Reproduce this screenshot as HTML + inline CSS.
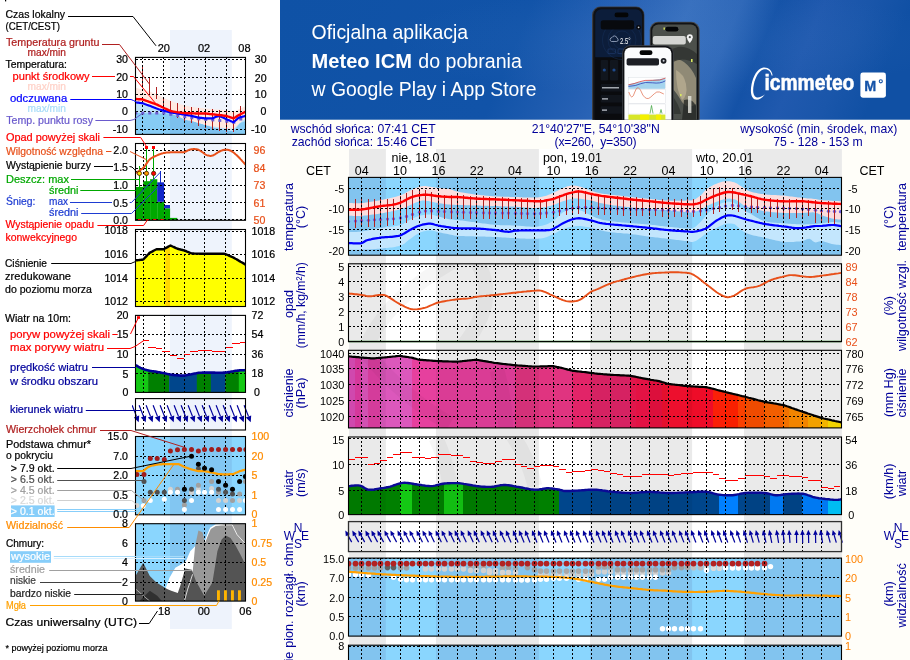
<!DOCTYPE html>
<html lang="pl"><head><meta charset="utf-8"><title>Meteogram ICM</title>
<style>
html,body{margin:0;padding:0;background:#fff;}
body{width:910px;height:660px;overflow:hidden;position:relative;font-family:"Liberation Sans",sans-serif;}
svg{position:absolute;left:0;top:0;display:block;}
text{font-family:"Liberation Sans",sans-serif;}
</style></head><body>
<svg width="910" height="660" viewBox="0 0 910 660">
<rect x="280" y="119" width="630" height="541" fill="#fffef9"/>
<rect x="349" y="149" width="492.9" height="520" fill="#ffffff"/>
<rect x="349" y="149" width="36.9" height="520" fill="#eaeaea"/>
<rect x="436" y="149" width="102.9" height="520" fill="#eaeaea"/>
<rect x="590" y="149" width="102.1" height="520" fill="#eaeaea"/>
<rect x="744" y="149" width="97.9" height="520" fill="#eaeaea"/>
<defs>
<clipPath id="cT"><rect x="348.6" y="177.4" width="492.7" height="77.8"/></clipPath>
<clipPath id="cR"><rect x="348.6" y="263.8" width="492.7" height="77.8"/></clipPath>
<clipPath id="cP"><rect x="348.6" y="350.3" width="492.7" height="77.6"/></clipPath>
<clipPath id="cW"><rect x="348.6" y="437" width="492.7" height="77.6"/></clipPath>
<clipPath id="cD"><rect x="348.6" y="521.6" width="492.7" height="30"/></clipPath>
<clipPath id="cC"><rect x="348.6" y="558.1" width="492.7" height="78"/></clipPath>
<clipPath id="cL"><rect x="348.6" y="645.2" width="492.7" height="24.8"/></clipPath>
<clipPath id="cWM"><rect x="348.6" y="350.3" width="492.7" height="77.6"/><rect x="348.6" y="263.8" width="492.7" height="77.8"/><rect x="348.6" y="437" width="492.7" height="77.6"/></clipPath>
</defs>
<g clip-path="url(#cT)">
<rect x="348.6" y="177.4" width="492.7" height="77.8" fill="#8ad6fe"/>
<rect x="348.6" y="177.4" width="37.2" height="77.8" fill="#82c4ef"/>
<rect x="436" y="177.4" width="102.9" height="77.8" fill="#82c4ef"/>
<rect x="590" y="177.4" width="102.1" height="77.8" fill="#82c4ef"/>
<rect x="744" y="177.4" width="97.9" height="77.8" fill="#82c4ef"/>
<polygon points="348.6,232.2 350.2,232.1 351.8,232.1 353.4,232 355,232 356.6,231.9 358.2,231.8 359.8,231.7 361.4,231.5 363,231.3 364.6,231 366.2,230.7 367.8,230.4 369.4,230.1 371,229.8 372.6,229.5 374.2,229.1 375.8,228.8 377.4,228.5 379,228.2 380.6,227.9 382.2,227.7 383.8,227.5 385.4,227.3 387,227.1 388.6,226.9 390.2,226.8 391.8,226.6 393.4,226.4 395,226.1 396.6,225.9 398.2,225.6 399.8,225.2 401.4,224.7 403,224 404.6,223.1 406.2,222 407.8,221 409.4,220 411,219.2 412.6,218.4 414.2,217.7 415.8,217 417.4,216.4 419,215.9 420.6,215.5 422.2,215.2 423.8,215 425.4,214.8 427,214.6 428.6,214.6 430.2,214.6 431.8,214.8 433.4,215.1 435,215.5 436.6,216 438.2,216.4 439.8,216.8 441.4,217.2 443,217.7 444.6,218.1 446.2,218.5 447.8,218.9 449.4,219.2 451,219.5 452.6,219.6 454.2,219.7 455.8,219.9 457.4,220 459,220.2 460.6,220.4 462.2,220.6 463.8,220.8 465.4,221.1 467,221.3 468.6,221.5 470.2,221.7 471.8,221.9 473.4,222.1 475,222.3 476.6,222.5 478.2,222.7 479.8,222.9 481.4,223.2 483,223.4 484.6,223.6 486.2,223.8 487.8,224 489.4,224.2 491,224.4 492.6,224.6 494.2,224.8 495.8,224.9 497.4,225 499,225.1 500.6,225.2 502.2,225.2 503.8,225.2 505.4,225.3 507,225.3 508.6,225.3 510.2,225.3 511.8,225.4 513.4,225.4 515,225.5 516.6,225.6 518.2,225.7 519.8,225.8 521.4,225.9 523,226.1 524.6,226.2 526.2,226.4 527.8,226.5 529.4,226.6 531,226.7 532.6,226.7 534.2,226.7 535.8,226.7 537.4,226.5 539,226.3 540.6,226.1 542.2,225.7 543.8,225.3 545.4,224.8 547,224.2 548.6,223.5 550.2,222.6 551.8,221.7 553.4,220.7 555,219.4 556.6,218 558.2,216.4 559.8,214.9 561.4,213.5 563,212.3 564.6,211.4 566.2,210.7 567.8,210.1 569.4,209.6 571,209.3 572.6,209.1 574.2,209 575.8,209.2 577.4,209.5 579,209.9 580.6,210.4 582.2,211.1 583.8,211.8 585.4,212.6 587,213.5 588.6,214.3 590.2,215.1 591.8,215.8 593.4,216.6 595,217.3 596.6,217.9 598.2,218.5 599.8,219.1 601.4,219.6 603,220 604.6,220.3 606.2,220.6 607.8,220.8 609.4,221.1 611,221.3 612.6,221.5 614.2,221.6 615.8,221.8 617.4,222 619,222.1 620.6,222.3 622.2,222.4 623.8,222.5 625.4,222.7 627,222.8 628.6,222.9 630.2,223.1 631.8,223.2 633.4,223.3 635,223.5 636.6,223.6 638.2,223.7 639.8,223.8 641.4,223.9 643,224.1 644.6,224.2 646.2,224.3 647.8,224.5 649.4,224.6 651,224.8 652.6,224.9 654.2,225.1 655.8,225.3 657.4,225.5 659,225.7 660.6,225.9 662.2,226.1 663.8,226.2 665.4,226.4 667,226.6 668.6,226.8 670.2,226.9 671.8,227.1 673.4,227.3 675,227.4 676.6,227.6 678.2,227.8 679.8,227.9 681.4,228.1 683,228.2 684.6,228.3 686.2,228.4 687.8,228.5 689.4,228.6 691,228.6 692.6,228.3 694.2,227.5 695.8,226.4 697.4,225.1 699,223.6 700.6,222 702.2,220.2 703.8,218.2 705.4,216.2 707,214.4 708.6,212.8 710.2,211.3 711.8,209.8 713.4,208.4 715,207.2 716.6,206 718.2,205 719.8,204.1 721.4,203.3 723,202.7 724.6,202.2 726.2,201.8 727.8,201.7 729.4,201.7 731,202 732.6,202.4 734.2,202.9 735.8,203.7 737.4,204.8 739,206.2 740.6,207.5 742.2,208.7 743.8,210 745.4,211.1 747,212 748.6,212.8 750.2,213.6 751.8,214.5 753.4,215.4 755,216.4 756.6,217.4 758.2,218.3 759.8,219.2 761.4,219.9 763,220.6 764.6,221.1 766.2,221.5 767.8,221.9 769.4,222.1 771,222.4 772.6,222.5 774.2,222.7 775.8,222.8 777.4,222.9 779,223 780.6,223.1 782.2,223.2 783.8,223.3 785.4,223.5 787,223.6 788.6,223.7 790.2,223.8 791.8,223.9 793.4,224 795,224.1 796.6,224.2 798.2,224.2 799.8,224.3 801.4,224.4 803,224.4 804.6,224.4 806.2,224.3 807.8,224.3 809.4,224.2 811,224.2 812.6,224.1 814.2,224 815.8,223.9 817.4,223.8 819,223.6 820.6,223.4 822.2,223.3 823.8,223.1 825.4,222.8 827,222.6 828.6,222.4 830.2,222.2 831.8,222.1 833.4,222.1 835,222.1 836.6,222.3 838.2,222.4 839.8,222.6 841.3,222.7 841.3,245.2 839.8,245 838.2,244.8 836.6,244.7 835,244.5 833.4,244.2 831.8,243.9 830.2,243.4 828.6,242.9 827,242.4 825.4,241.9 823.8,241.4 822.2,241.1 820.6,241.2 819,241.6 817.4,242.1 815.8,242.4 814.2,242 812.6,240.9 811,239.6 809.4,238.8 807.8,238.9 806.2,239.6 804.6,240.3 803,241 801.4,241.2 799.8,241.4 798.2,241.5 796.6,241.6 795,241.8 793.4,241.9 791.8,241.9 790.2,241.9 788.6,242 787,241.9 785.4,241.9 783.8,241.7 782.2,241.6 780.6,241.4 779,241.1 777.4,240.8 775.8,240.5 774.2,240.1 772.6,239.7 771,239.3 769.4,238.9 767.8,238.5 766.2,238.2 764.6,237.8 763,237.4 761.4,237.1 759.8,236.8 758.2,236.4 756.6,236.1 755,235.7 753.4,235.4 751.8,235 750.2,234.6 748.6,234.1 747,233.4 745.4,232.6 743.8,231.7 742.2,230.6 740.6,229.5 739,228.1 737.4,226.4 735.8,224.9 734.2,224.1 732.6,223.7 731,223.4 729.4,223.4 727.8,223.5 726.2,223.7 724.6,224.1 723,224.7 721.4,225.4 719.8,226.2 718.2,227.1 716.6,227.9 715,228.6 713.4,229.3 711.8,230.1 710.2,230.9 708.6,231.7 707,232.7 705.4,233.8 703.8,235.2 702.2,236.5 700.6,237.7 699,238.8 697.4,239.9 695.8,240.9 694.2,241.6 692.6,242 691,241.9 689.4,241.6 687.8,241.3 686.2,241.1 684.6,240.9 683,240.7 681.4,240.5 679.8,240.3 678.2,240.1 676.6,239.9 675,239.7 673.4,239.5 671.8,239.3 670.2,239.1 668.6,238.9 667,238.7 665.4,238.5 663.8,238.3 662.2,238.2 660.6,238 659,237.8 657.4,237.6 655.8,237.5 654.2,237.3 652.6,237.1 651,236.9 649.4,236.7 647.8,236.5 646.2,236.3 644.6,236.1 643,235.8 641.4,235.6 639.8,235.3 638.2,235.1 636.6,234.8 635,234.6 633.4,234.4 631.8,234.2 630.2,234 628.6,233.8 627,233.6 625.4,233.5 623.8,233.4 622.2,233.2 620.6,233.1 619,233 617.4,232.9 615.8,232.7 614.2,232.6 612.6,232.4 611,232.3 609.4,232 607.8,231.8 606.2,231.5 604.6,231.2 603,230.8 601.4,230.4 599.8,230.1 598.2,229.6 596.6,229.2 595,228.7 593.4,228.3 591.8,227.9 590.2,227.6 588.6,227.3 587,227 585.4,226.7 583.8,226.5 582.2,226.3 580.6,226.1 579,226.1 577.4,226.1 575.8,226.2 574.2,226.4 572.6,226.6 571,226.9 569.4,227.3 567.8,227.6 566.2,228.1 564.6,228.6 563,229.2 561.4,229.9 559.8,230.7 558.2,231.5 556.6,232.4 555,233.3 553.4,234 551.8,234.8 550.2,235.6 548.6,236.3 547,237 545.4,237.5 543.8,237.9 542.2,238.2 540.6,238.4 539,238.6 537.4,238.7 535.8,238.8 534.2,238.8 532.6,238.8 531,238.8 529.4,238.8 527.8,238.8 526.2,238.7 524.6,238.6 523,238.6 521.4,238.5 519.8,238.4 518.2,238.3 516.6,238.3 515,238.2 513.4,238.1 511.8,238 510.2,237.9 508.6,237.8 507,237.7 505.4,237.6 503.8,237.5 502.2,237.4 500.6,237.3 499,237.2 497.4,237.1 495.8,237 494.2,236.9 492.6,236.9 491,236.8 489.4,236.8 487.8,236.7 486.2,236.7 484.6,236.6 483,236.6 481.4,236.5 479.8,236.5 478.2,236.5 476.6,236.4 475,236.4 473.4,236.3 471.8,236.3 470.2,236.3 468.6,236.2 467,236.2 465.4,236.2 463.8,236.1 462.2,236.1 460.6,236 459,235.9 457.4,235.8 455.8,235.7 454.2,235.4 452.6,235.1 451,234.8 449.4,234.4 447.8,234.1 446.2,233.8 444.6,233.5 443,233.2 441.4,232.8 439.8,232.5 438.2,232.2 436.6,231.8 435,231.3 433.4,230.8 431.8,230.5 430.2,230.3 428.6,230.4 427,230.6 425.4,230.9 423.8,231.2 422.2,231.7 420.6,232.3 419,233 417.4,233.9 415.8,235 414.2,236.1 412.6,237.3 411,238.5 409.4,239.6 407.8,240.8 406.2,242.1 404.6,243.4 403,244.5 401.4,245.3 399.8,245.8 398.2,246.3 396.6,246.6 395,246.9 393.4,247.2 391.8,247.4 390.2,247.6 388.6,247.8 387,247.9 385.4,248.1 383.8,248.2 382.2,248.4 380.6,248.5 379,248.7 377.4,248.8 375.8,249 374.2,249.1 372.6,249.2 371,249.3 369.4,249.4 367.8,249.4 366.2,249.5 364.6,249.6 363,249.6 361.4,249.7 359.8,249.7 358.2,249.8 356.6,249.8 355,249.8 353.4,249.7 351.8,249.7 350.2,249.7 348.6,249.7" fill="#c3e6fd" />
<polygon points="348.6,203.1 350.2,203.1 351.8,203.1 353.4,203.2 355,203.2 356.6,203.3 358.2,203.3 359.8,203.2 361.4,203.1 363,202.9 364.6,202.7 366.2,202.5 367.8,202.3 369.4,202.1 371,201.8 372.6,201.5 374.2,201.3 375.8,201 377.4,200.7 379,200.4 380.6,200 382.2,199.7 383.8,199.4 385.4,199.1 387,198.7 388.6,198.4 390.2,198.1 391.8,197.7 393.4,197.3 395,196.9 396.6,196.5 398.2,196 399.8,195.5 401.4,195 403,194.3 404.6,193.5 406.2,192.6 407.8,191.7 409.4,190.8 411,190.1 412.6,189.4 414.2,188.7 415.8,188 417.4,187.4 419,186.8 420.6,186.4 422.2,186.2 423.8,186.1 425.4,186.1 427,186.3 428.6,186.5 430.2,186.7 431.8,186.9 433.4,187.2 435,187.4 436.6,187.7 438.2,187.9 439.8,188.1 441.4,188.2 443,188.3 444.6,188.5 446.2,188.6 447.8,188.9 449.4,189.1 451,189.6 452.6,190.1 454.2,190.7 455.8,191.2 457.4,191.6 459,191.9 460.6,192.2 462.2,192.5 463.8,192.7 465.4,193 467,193.3 468.6,193.5 470.2,193.7 471.8,194 473.4,194.2 475,194.4 476.6,194.6 478.2,194.8 479.8,195 481.4,195.2 483,195.3 484.6,195.5 486.2,195.7 487.8,195.8 489.4,195.9 491,196.1 492.6,196.2 494.2,196.3 495.8,196.4 497.4,196.5 499,196.6 500.6,196.6 502.2,196.7 503.8,196.7 505.4,196.8 507,196.8 508.6,196.8 510.2,196.9 511.8,196.9 513.4,196.9 515,197 516.6,197 518.2,197.1 519.8,197.2 521.4,197.3 523,197.4 524.6,197.4 526.2,197.5 527.8,197.6 529.4,197.6 531,197.6 532.6,197.6 534.2,197.6 535.8,197.5 537.4,197.4 539,197.2 540.6,197 542.2,196.7 543.8,196.3 545.4,195.9 547,195.4 548.6,194.8 550.2,194.2 551.8,193.5 553.4,192.8 555,192.1 556.6,191.2 558.2,190.4 559.8,189.5 561.4,188.7 563,188 564.6,187.4 566.2,186.8 567.8,186.3 569.4,185.9 571,185.6 572.6,185.5 574.2,185.5 575.8,185.7 577.4,186 579,186.4 580.6,186.8 582.2,187.3 583.8,187.9 585.4,188.5 587,189.2 588.6,189.8 590.2,190.4 591.8,190.9 593.4,191.4 595,191.9 596.6,192.4 598.2,192.8 599.8,193.2 601.4,193.5 603,193.8 604.6,194 606.2,194.1 607.8,194.3 609.4,194.5 611,194.7 612.6,194.9 614.2,195.1 615.8,195.3 617.4,195.4 619,195.6 620.6,195.8 622.2,196 623.8,196.2 625.4,196.4 627,196.6 628.6,196.8 630.2,197 631.8,197.1 633.4,197.3 635,197.5 636.6,197.6 638.2,197.8 639.8,197.9 641.4,198.1 643,198.2 644.6,198.4 646.2,198.5 647.8,198.7 649.4,198.8 651,199 652.6,199.2 654.2,199.3 655.8,199.5 657.4,199.7 659,199.9 660.6,200 662.2,200.2 663.8,200.3 665.4,200.4 667,200.5 668.6,200.6 670.2,200.7 671.8,200.7 673.4,200.8 675,200.8 676.6,200.8 678.2,200.8 679.8,200.8 681.4,200.7 683,200.7 684.6,200.7 686.2,200.6 687.8,200.6 689.4,200.6 691,200.6 692.6,200.3 694.2,199.7 695.8,198.8 697.4,197.8 699,196.6 700.6,195.4 702.2,193.9 703.8,192.1 705.4,190.3 707,189 708.6,187.8 710.2,186.8 711.8,185.9 713.4,185.1 715,184.3 716.6,183.7 718.2,183 719.8,182.5 721.4,182 723,181.6 724.6,181.4 726.2,181.2 727.8,181.2 729.4,181.3 731,181.5 732.6,181.9 734.2,182.3 735.8,182.9 737.4,183.8 739,184.9 740.6,185.9 742.2,187 743.8,188.1 745.4,189.1 747,190.1 748.6,191 750.2,191.6 751.8,192 753.4,192.4 755,192.7 756.6,193.1 758.2,193.4 759.8,193.7 761.4,193.9 763,194.1 764.6,194.3 766.2,194.5 767.8,194.7 769.4,194.8 771,194.9 772.6,195 774.2,195 775.8,195.1 777.4,195.2 779,195.3 780.6,195.4 782.2,195.5 783.8,195.6 785.4,195.8 787,196 788.6,196.2 790.2,196.4 791.8,196.6 793.4,196.8 795,197 796.6,197.2 798.2,197.4 799.8,197.6 801.4,197.8 803,198 804.6,198.1 806.2,198.3 807.8,198.4 809.4,198.5 811,198.6 812.6,198.8 814.2,198.9 815.8,199.1 817.4,199.4 819,199.7 820.6,200 822.2,200.2 823.8,200.4 825.4,200.5 827,200.6 828.6,200.6 830.2,200.7 831.8,200.8 833.4,200.9 835,201 836.6,201 838.2,201.1 839.8,201.2 841.3,201.3 841.3,219.8 839.8,219.6 838.2,219.5 836.6,219.3 835,219.1 833.4,218.8 831.8,218.5 830.2,218 828.6,217.6 827,217 825.4,216.5 823.8,215.9 822.2,215.3 820.6,214.7 819,213.9 817.4,213.2 815.8,212.6 814.2,212.4 812.6,212.3 811,212.4 809.4,212.4 807.8,212.6 806.2,212.7 804.6,212.8 803,212.9 801.4,212.9 799.8,212.9 798.2,213 796.6,213 795,213 793.4,213 791.8,213 790.2,213.1 788.6,213 787,213 785.4,213 783.8,212.9 782.2,212.8 780.6,212.8 779,212.7 777.4,212.6 775.8,212.4 774.2,212.3 772.6,212.2 771,212 769.4,211.8 767.8,211.6 766.2,211.4 764.6,211.2 763,210.9 761.4,210.5 759.8,210.2 758.2,209.7 756.6,209.3 755,208.8 753.4,208.4 751.8,208 750.2,207.5 748.6,207.3 747,207.1 745.4,206.6 743.8,205.6 742.2,204.3 740.6,202.9 739,201.8 737.4,200.7 735.8,199.8 734.2,199.3 732.6,198.9 731,198.7 729.4,198.6 727.8,198.7 726.2,198.8 724.6,199.1 723,199.5 721.4,200 719.8,200.6 718.2,201.2 716.6,201.8 715,202.4 713.4,203 711.8,203.7 710.2,204.5 708.6,205.2 707,206 705.4,206.9 703.8,207.9 702.2,209 700.6,209.8 699,210.5 697.4,211.1 695.8,211.6 694.2,212.1 692.6,212.3 691,212.4 689.4,212.3 687.8,212.2 686.2,212.1 684.6,212 683,211.8 681.4,211.7 679.8,211.5 678.2,211.3 676.6,211.2 675,211 673.4,210.8 671.8,210.7 670.2,210.5 668.6,210.4 667,210.2 665.4,210.1 663.8,210 662.2,209.8 660.6,209.7 659,209.6 657.4,209.5 655.8,209.4 654.2,209.3 652.6,209.2 651,209 649.4,208.9 647.8,208.8 646.2,208.7 644.6,208.5 643,208.4 641.4,208.3 639.8,208.2 638.2,208 636.6,207.9 635,207.7 633.4,207.6 631.8,207.4 630.2,207.3 628.6,207.1 627,206.9 625.4,206.8 623.8,206.6 622.2,206.4 620.6,206.2 619,206 617.4,205.8 615.8,205.6 614.2,205.4 612.6,205.2 611,205 609.4,204.7 607.8,204.5 606.2,204.2 604.6,203.9 603,203.6 601.4,203.2 599.8,202.9 598.2,202.4 596.6,201.9 595,201.5 593.4,201 591.8,200.6 590.2,200.3 588.6,200 587,199.7 585.4,199.4 583.8,199.2 582.2,199 580.6,198.8 579,198.7 577.4,198.6 575.8,198.6 574.2,198.6 572.6,198.8 571,199 569.4,199.4 567.8,199.8 566.2,200.2 564.6,200.7 563,201.3 561.4,201.8 559.8,202.5 558.2,203.1 556.6,203.8 555,204.4 553.4,204.9 551.8,205.4 550.2,205.9 548.6,206.3 547,206.6 545.4,206.9 543.8,207.2 542.2,207.4 540.6,207.6 539,207.7 537.4,207.8 535.8,207.9 534.2,207.9 532.6,207.9 531,207.8 529.4,207.7 527.8,207.6 526.2,207.5 524.6,207.4 523,207.2 521.4,207.1 519.8,207 518.2,206.9 516.6,206.8 515,206.7 513.4,206.6 511.8,206.6 510.2,206.5 508.6,206.4 507,206.4 505.4,206.4 503.8,206.3 502.2,206.3 500.6,206.2 499,206.2 497.4,206.1 495.8,206.1 494.2,206 492.6,206 491,205.9 489.4,205.9 487.8,205.8 486.2,205.8 484.6,205.8 483,205.7 481.4,205.7 479.8,205.6 478.2,205.6 476.6,205.5 475,205.5 473.4,205.4 471.8,205.4 470.2,205.3 468.6,205.3 467,205.2 465.4,205.2 463.8,205.1 462.2,205.1 460.6,205 459,205 457.4,204.9 455.8,204.9 454.2,204.8 452.6,204.8 451,204.7 449.4,204.6 447.8,204.5 446.2,204.3 444.6,204.1 443,203.8 441.4,203.6 439.8,203.3 438.2,203.1 436.6,202.8 435,202.5 433.4,202.1 431.8,201.8 430.2,201.4 428.6,201.1 427,200.9 425.4,200.6 423.8,200.5 422.2,200.6 420.6,200.9 419,201.4 417.4,201.9 415.8,202.6 414.2,203.3 412.6,204 411,204.7 409.4,205.4 407.8,206.1 406.2,206.9 404.6,207.7 403,208.3 401.4,208.9 399.8,209.4 398.2,209.8 396.6,210.2 395,210.6 393.4,211 391.8,211.3 390.2,211.7 388.6,212 387,212.3 385.4,212.6 383.8,212.9 382.2,213.2 380.6,213.4 379,213.7 377.4,214 375.8,214.2 374.2,214.4 372.6,214.6 371,214.8 369.4,215 367.8,215.2 366.2,215.4 364.6,215.5 363,215.7 361.4,215.8 359.8,215.9 358.2,215.9 356.6,215.9 355,215.9 353.4,215.9 351.8,215.8 350.2,215.8 348.6,215.8" fill="#fcdddd" />
</g>
<clipPath id="cPf"><polygon points="348.6,356.4 350.2,356.5 351.8,356.7 353.4,356.8 355,356.9 356.6,357.1 358.2,357.2 359.8,357.4 361.4,357.5 363,357.6 364.6,357.8 366.2,357.9 367.8,358 369.4,358.1 371,358.3 372.6,358.4 374.2,358.3 375.8,358.2 377.4,358 379,357.9 380.6,357.8 382.2,357.6 383.8,357.5 385.4,357.3 387,357.2 388.6,357 390.2,356.8 391.8,356.7 393.4,356.5 395,356.4 396.6,356.2 398.2,356 399.8,355.9 401.4,356.1 403,356.4 404.6,356.6 406.2,356.8 407.8,357 409.4,357.3 411,357.5 412.6,357.9 414.2,358.4 415.8,358.8 417.4,359.3 419,359.7 420.6,359.8 422.2,359.9 423.8,360.1 425.4,360.2 427,360.3 428.6,360.4 430.2,360.5 431.8,360.6 433.4,360.8 435,360.9 436.6,361 438.2,361.1 439.8,361.2 441.4,361.2 443,361.3 444.6,361.3 446.2,361.4 447.8,361.4 449.4,361.5 451,361.5 452.6,361.6 454.2,361.6 455.8,361.7 457.4,361.7 459,361.5 460.6,361.3 462.2,361.2 463.8,361 465.4,360.8 467,360.7 468.6,360.5 470.2,360.3 471.8,360.2 473.4,360 475,359.8 476.6,359.8 478.2,360 479.8,360.3 481.4,360.6 483,360.9 484.6,361.1 486.2,361.4 487.8,361.7 489.4,362 491,362.2 492.6,362.5 494.2,362.8 495.8,363 497.4,363.2 499,363.4 500.6,363.6 502.2,363.8 503.8,364 505.4,364.1 507,364.3 508.6,364.5 510.2,364.7 511.8,364.9 513.4,365.1 515,365.2 516.6,365.3 518.2,365.5 519.8,365.6 521.4,365.7 523,365.8 524.6,365.9 526.2,366 527.8,366.2 529.4,366.3 531,366.4 532.6,366.5 534.2,366.6 535.8,366.5 537.4,366.5 539,366.5 540.6,366.4 542.2,366.4 543.8,366.3 545.4,366.3 547,366.3 548.6,366.2 550.2,366.2 551.8,366.1 553.4,366.2 555,366.5 556.6,366.9 558.2,367.2 559.8,367.5 561.4,367.9 563,368.3 564.6,368.7 566.2,369.1 567.8,369.6 569.4,370 571,370.4 572.6,370.8 574.2,370.9 575.8,371.1 577.4,371.3 579,371.5 580.6,371.7 582.2,371.9 583.8,372 585.4,372.2 587,372.4 588.6,372.6 590.2,372.8 591.8,373 593.4,373.2 595,373.5 596.6,373.6 598.2,373.8 599.8,373.9 601.4,374 603,374.2 604.6,374.3 606.2,374.4 607.8,374.6 609.4,374.7 611,374.8 612.6,374.9 614.2,375 615.8,375 617.4,375.1 619,375.2 620.6,375.3 622.2,375.3 623.8,375.4 625.4,375.5 627,375.6 628.6,375.6 630.2,375.8 631.8,376.1 633.4,376.4 635,376.7 636.6,377 638.2,377.3 639.8,377.7 641.4,378 643,378.3 644.6,378.6 646.2,378.9 647.8,379.2 649.4,379.5 651,379.8 652.6,380 654.2,380.3 655.8,380.5 657.4,380.8 659,381.1 660.6,381.6 662.2,382.1 663.8,382.5 665.4,383 667,383.5 668.6,383.9 670.2,384.1 671.8,384.3 673.4,384.5 675,384.7 676.6,384.8 678.2,385 679.8,385.2 681.4,385.4 683,385.6 684.6,385.8 686.2,385.9 687.8,386.1 689.4,386.2 691,386.3 692.6,386.4 694.2,386.5 695.8,386.6 697.4,386.7 699,386.8 700.6,386.8 702.2,386.9 703.8,387 705.4,387.1 707,387.3 708.6,387.7 710.2,388.1 711.8,388.5 713.4,388.9 715,389.3 716.6,389.8 718.2,390.2 719.8,390.6 721.4,391 723,391.4 724.6,391.8 726.2,392.2 727.8,392.6 729.4,393 731,393.4 732.6,393.8 734.2,394.2 735.8,394.5 737.4,394.9 739,395.3 740.6,395.7 742.2,396.1 743.8,396.4 745.4,396.8 747,397.2 748.6,397.7 750.2,398.1 751.8,398.5 753.4,398.9 755,399.3 756.6,399.7 758.2,400.2 759.8,400.6 761.4,401 763,401.4 764.6,401.8 766.2,402.1 767.8,402.4 769.4,402.6 771,402.9 772.6,403.2 774.2,403.5 775.8,403.7 777.4,404 779,404.3 780.6,404.6 782.2,404.8 783.8,405.1 785.4,405.7 787,406.3 788.6,406.8 790.2,407.4 791.8,408 793.4,408.5 795,409.1 796.6,409.6 798.2,410.2 799.8,410.8 801.4,411.3 803,411.9 804.6,412.4 806.2,412.9 807.8,413.5 809.4,414 811,414.5 812.6,415 814.2,415.6 815.8,416.1 817.4,416.6 819,417.1 820.6,417.6 822.2,418.1 823.8,418.5 825.4,418.8 827,419.2 828.6,419.5 830.2,419.9 831.8,420.3 833.4,420.6 835,421 836.6,421.3 838.2,421.7 839.8,422 841.3,422.4 841.3,427.9 348.6,427.9"/></clipPath>
<g clip-path="url(#cPf)">
<rect x="348" y="350.3" width="7.5" height="90" fill="#dc4cb8"/>
<rect x="355" y="350.3" width="6.5" height="90" fill="#e03ca4"/>
<rect x="361" y="350.3" width="7.5" height="90" fill="#de56bc"/>
<rect x="368" y="350.3" width="6.5" height="90" fill="#e040a4"/>
<rect x="374" y="350.3" width="6.5" height="90" fill="#e040a4"/>
<rect x="380" y="350.3" width="7.5" height="90" fill="#dc58bc"/>
<rect x="387" y="350.3" width="6.5" height="90" fill="#dc58bc"/>
<rect x="393" y="350.3" width="7.5" height="90" fill="#dc58bc"/>
<rect x="400" y="350.3" width="6.5" height="90" fill="#dc58bc"/>
<rect x="406" y="350.3" width="6.5" height="90" fill="#dc58bc"/>
<rect x="412" y="350.3" width="7.5" height="90" fill="#e6409e"/>
<rect x="419" y="350.3" width="6.5" height="90" fill="#e6409e"/>
<rect x="425" y="350.3" width="6.5" height="90" fill="#e6409e"/>
<rect x="431" y="350.3" width="7.5" height="90" fill="#e6409e"/>
<rect x="438" y="350.3" width="6.5" height="90" fill="#e6409e"/>
<rect x="444" y="350.3" width="7.5" height="90" fill="#e6409e"/>
<rect x="451" y="350.3" width="6.5" height="90" fill="#e6409e"/>
<rect x="457" y="350.3" width="6.5" height="90" fill="#e6409e"/>
<rect x="463" y="350.3" width="7.5" height="90" fill="#e6409e"/>
<rect x="470" y="350.3" width="6.5" height="90" fill="#e6409e"/>
<rect x="476" y="350.3" width="7.5" height="90" fill="#e6409e"/>
<rect x="483" y="350.3" width="6.5" height="90" fill="#e6409e"/>
<rect x="489" y="350.3" width="6.5" height="90" fill="#e6409e"/>
<rect x="495" y="350.3" width="7.5" height="90" fill="#e6409e"/>
<rect x="502" y="350.3" width="6.5" height="90" fill="#e6409e"/>
<rect x="508" y="350.3" width="7.5" height="90" fill="#e6409e"/>
<rect x="515" y="350.3" width="6.5" height="90" fill="#e03480"/>
<rect x="521" y="350.3" width="6.5" height="90" fill="#e03480"/>
<rect x="527" y="350.3" width="7.5" height="90" fill="#e03480"/>
<rect x="534" y="350.3" width="6.5" height="90" fill="#e03480"/>
<rect x="540" y="350.3" width="6.5" height="90" fill="#e03480"/>
<rect x="546" y="350.3" width="7.5" height="90" fill="#e03480"/>
<rect x="553" y="350.3" width="6.5" height="90" fill="#e03480"/>
<rect x="559" y="350.3" width="7.5" height="90" fill="#e03480"/>
<rect x="566" y="350.3" width="6.5" height="90" fill="#e03480"/>
<rect x="572" y="350.3" width="6.5" height="90" fill="#e22468"/>
<rect x="578" y="350.3" width="7.5" height="90" fill="#e22468"/>
<rect x="585" y="350.3" width="6.5" height="90" fill="#e22468"/>
<rect x="591" y="350.3" width="7.5" height="90" fill="#e22468"/>
<rect x="598" y="350.3" width="6.5" height="90" fill="#e22468"/>
<rect x="604" y="350.3" width="6.5" height="90" fill="#e22468"/>
<rect x="610" y="350.3" width="7.5" height="90" fill="#e22468"/>
<rect x="617" y="350.3" width="6.5" height="90" fill="#e22468"/>
<rect x="623" y="350.3" width="7.5" height="90" fill="#e22468"/>
<rect x="630" y="350.3" width="6.5" height="90" fill="#ee1850"/>
<rect x="636" y="350.3" width="6.5" height="90" fill="#f01448"/>
<rect x="642" y="350.3" width="7.5" height="90" fill="#f01448"/>
<rect x="649" y="350.3" width="6.5" height="90" fill="#e81040"/>
<rect x="655" y="350.3" width="7.5" height="90" fill="#e81040"/>
<rect x="662" y="350.3" width="6.5" height="90" fill="#f01030"/>
<rect x="668" y="350.3" width="6.5" height="90" fill="#fa1030"/>
<rect x="674" y="350.3" width="7.5" height="90" fill="#fa1030"/>
<rect x="681" y="350.3" width="6.5" height="90" fill="#fa1030"/>
<rect x="687" y="350.3" width="6.5" height="90" fill="#ee0c28"/>
<rect x="693" y="350.3" width="7.5" height="90" fill="#ee0c28"/>
<rect x="700" y="350.3" width="6.5" height="90" fill="#ee0c28"/>
<rect x="706" y="350.3" width="7.5" height="90" fill="#ee0c28"/>
<rect x="713" y="350.3" width="6.5" height="90" fill="#fa2008"/>
<rect x="719" y="350.3" width="6.5" height="90" fill="#fa2008"/>
<rect x="725" y="350.3" width="7.5" height="90" fill="#f82000"/>
<rect x="732" y="350.3" width="6.5" height="90" fill="#f82000"/>
<rect x="738" y="350.3" width="7.5" height="90" fill="#fa4000"/>
<rect x="745" y="350.3" width="6.5" height="90" fill="#fc5000"/>
<rect x="751" y="350.3" width="6.5" height="90" fill="#fc5000"/>
<rect x="757" y="350.3" width="7.5" height="90" fill="#fc5000"/>
<rect x="764" y="350.3" width="6.5" height="90" fill="#ff6400"/>
<rect x="770" y="350.3" width="7.5" height="90" fill="#ff6400"/>
<rect x="777" y="350.3" width="6.5" height="90" fill="#ff6400"/>
<rect x="783" y="350.3" width="6.5" height="90" fill="#ff7800"/>
<rect x="789" y="350.3" width="7.5" height="90" fill="#ff8c00"/>
<rect x="796" y="350.3" width="6.5" height="90" fill="#ff8c00"/>
<rect x="802" y="350.3" width="6.5" height="90" fill="#ff8c00"/>
<rect x="808" y="350.3" width="7.5" height="90" fill="#ffaa00"/>
<rect x="815" y="350.3" width="6.5" height="90" fill="#ffaa00"/>
<rect x="821" y="350.3" width="7.5" height="90" fill="#ffbe00"/>
<rect x="828" y="350.3" width="6.5" height="90" fill="#ffe000"/>
<rect x="834" y="350.3" width="6.5" height="90" fill="#ffe000"/>
<rect x="840" y="350.3" width="7.5" height="90" fill="#ffe000"/>
</g>
<clipPath id="cWf"><polygon points="348.6,486.1 350.2,486 351.8,485.8 353.4,485.6 355,485.5 356.6,485.4 358.2,485.4 359.8,485.6 361.4,486.1 363,486.9 364.6,488 366.2,488.9 367.8,489.6 369.4,489.8 371,489.8 372.6,489.7 374.2,489.5 375.8,489.2 377.4,488.9 379,488.6 380.6,488.3 382.2,488.1 383.8,487.9 385.4,487.6 387,487.3 388.6,487 390.2,486.6 391.8,486.1 393.4,485.5 395,485 396.6,484.4 398.2,483.9 399.8,483.5 401.4,483.1 403,482.9 404.6,482.8 406.2,482.9 407.8,483 409.4,483.2 411,483.4 412.6,483.7 414.2,484 415.8,484.2 417.4,484.5 419,484.7 420.6,484.9 422.2,485.2 423.8,485.4 425.4,485.7 427,485.9 428.6,486 430.2,486.1 431.8,486.1 433.4,485.9 435,485.6 436.6,485.2 438.2,484.8 439.8,484.4 441.4,484 443,483.7 444.6,483.5 446.2,483.4 447.8,483.3 449.4,483.2 451,483.1 452.6,483.1 454.2,483.1 455.8,483.1 457.4,483.1 459,483.2 460.6,483.4 462.2,483.6 463.8,483.9 465.4,484.1 467,484.4 468.6,484.7 470.2,485 471.8,485.3 473.4,485.6 475,485.8 476.6,486.1 478.2,486.2 479.8,486.4 481.4,486.6 483,486.7 484.6,486.8 486.2,486.9 487.8,486.9 489.4,486.9 491,486.9 492.6,486.7 494.2,486.5 495.8,486.2 497.4,485.9 499,485.6 500.6,485.3 502.2,485.1 503.8,485 505.4,485 507,485.1 508.6,485.3 510.2,485.5 511.8,485.8 513.4,486.1 515,486.4 516.6,486.7 518.2,486.9 519.8,487.2 521.4,487.5 523,487.8 524.6,488.2 526.2,488.5 527.8,488.8 529.4,489.1 531,489.4 532.6,489.5 534.2,489.7 535.8,489.7 537.4,489.6 539,489.5 540.6,489.2 542.2,489 543.8,488.7 545.4,488.5 547,488.3 548.6,488.3 550.2,488.4 551.8,488.5 553.4,488.7 555,489 556.6,489.2 558.2,489.5 559.8,489.8 561.4,490.2 563,490.7 564.6,491 566.2,491 567.8,491 569.4,491 571,490.9 572.6,490.8 574.2,490.7 575.8,490.6 577.4,490.6 579,490.5 580.6,490.4 582.2,490.3 583.8,490.2 585.4,490 587,489.9 588.6,489.8 590.2,489.7 591.8,489.7 593.4,489.7 595,489.7 596.6,489.8 598.2,489.9 599.8,490.1 601.4,490.3 603,490.6 604.6,490.8 606.2,491 607.8,491.3 609.4,491.5 611,491.6 612.6,491.8 614.2,491.9 615.8,492.1 617.4,492.2 619,492.4 620.6,492.5 622.2,492.7 623.8,492.8 625.4,492.9 627,492.9 628.6,493 630.2,493 631.8,493 633.4,492.9 635,492.8 636.6,492.7 638.2,492.6 639.8,492.4 641.4,492.3 643,492.2 644.6,492.1 646.2,492 647.8,491.9 649.4,491.9 651,491.9 652.6,492 654.2,492.1 655.8,492.2 657.4,492.3 659,492.4 660.6,492.6 662.2,492.7 663.8,492.8 665.4,492.9 667,493 668.6,493 670.2,493 671.8,493 673.4,493 675,492.9 676.6,492.9 678.2,492.8 679.8,492.7 681.4,492.6 683,492.6 684.6,492.5 686.2,492.4 687.8,492.4 689.4,492.3 691,492.3 692.6,492.2 694.2,492.1 695.8,492 697.4,491.9 699,491.8 700.6,491.8 702.2,491.8 703.8,491.8 705.4,491.8 707,491.9 708.6,492.1 710.2,492.5 711.8,492.9 713.4,493.4 715,493.8 716.6,494.2 718.2,494.5 719.8,494.7 721.4,494.9 723,495.1 724.6,495.2 726.2,495.3 727.8,495.3 729.4,495.3 731,495.3 732.6,495.2 734.2,495 735.8,494.8 737.4,494.4 739,494.1 740.6,493.7 742.2,493.4 743.8,493.2 745.4,493 747,492.9 748.6,492.8 750.2,492.7 751.8,492.7 753.4,492.7 755,492.7 756.6,492.7 758.2,492.7 759.8,492.8 761.4,492.8 763,492.9 764.6,493 766.2,493.2 767.8,493.5 769.4,493.9 771,494.3 772.6,494.7 774.2,495 775.8,495.2 777.4,495.2 779,495.1 780.6,495 782.2,494.7 783.8,494.5 785.4,494.3 787,494.1 788.6,494 790.2,493.9 791.8,493.8 793.4,493.7 795,493.6 796.6,493.6 798.2,493.5 799.8,493.6 801.4,493.6 803,493.8 804.6,494.1 806.2,494.5 807.8,495.1 809.4,495.6 811,496.2 812.6,496.8 814.2,497.3 815.8,497.6 817.4,497.9 819,498.2 820.6,498.4 822.2,498.6 823.8,498.8 825.4,499 827,499.1 828.6,499.3 830.2,499.5 831.8,499.6 833.4,499.8 835,499.9 836.6,499.9 838.2,499.8 839.8,499.6 841.3,499.3 841.3,514.6 348.6,514.6"/></clipPath>
<g clip-path="url(#cWf)">
<rect x="348" y="475" width="52.4" height="45" fill="#008000"/>
<rect x="400" y="475" width="12.4" height="45" fill="#14c814"/>
<rect x="412" y="475" width="32.4" height="45" fill="#008000"/>
<rect x="444" y="475" width="19.4" height="45" fill="#14c814"/>
<rect x="463" y="475" width="96.4" height="45" fill="#008000"/>
<rect x="559" y="475" width="160.4" height="45" fill="#00468c"/>
<rect x="719" y="475" width="19.4" height="45" fill="#0080ff"/>
<rect x="738" y="475" width="32.4" height="45" fill="#00468c"/>
<rect x="770" y="475" width="13.4" height="45" fill="#0080ff"/>
<rect x="783" y="475" width="19.4" height="45" fill="#00468c"/>
<rect x="802" y="475" width="26.4" height="45" fill="#0080ff"/>
<rect x="828" y="475" width="19.4" height="45" fill="#00c8ff"/>
</g>
<rect x="348.6" y="558.1" width="492.7" height="78" fill="#8ad6fe"/>
<rect x="348.6" y="645.2" width="492.7" height="24.8" fill="#8ad6fe"/>
<rect x="348.6" y="558.1" width="37.2" height="78" fill="#82c4ef"/>
<rect x="436" y="558.1" width="102.9" height="78" fill="#82c4ef"/>
<rect x="590" y="558.1" width="102.1" height="78" fill="#82c4ef"/>
<rect x="744" y="558.1" width="97.9" height="78" fill="#82c4ef"/>
<rect x="348.6" y="645.2" width="37.2" height="24.8" fill="#82c4ef"/>
<rect x="436" y="645.2" width="102.9" height="24.8" fill="#82c4ef"/>
<rect x="590" y="645.2" width="102.1" height="24.8" fill="#82c4ef"/>
<rect x="744" y="645.2" width="97.9" height="24.8" fill="#82c4ef"/>
<rect x="348.6" y="350.3" width="37.2" height="77.6" fill="#000" fill-opacity="0.05" clip-path="url(#cPf)"/>
<rect x="348.6" y="437" width="37.2" height="77.6" fill="#000" fill-opacity="0.05" clip-path="url(#cWf)"/>
<rect x="436" y="350.3" width="102.9" height="77.6" fill="#000" fill-opacity="0.05" clip-path="url(#cPf)"/>
<rect x="436" y="437" width="102.9" height="77.6" fill="#000" fill-opacity="0.05" clip-path="url(#cWf)"/>
<rect x="590" y="350.3" width="102.1" height="77.6" fill="#000" fill-opacity="0.05" clip-path="url(#cPf)"/>
<rect x="590" y="437" width="102.1" height="77.6" fill="#000" fill-opacity="0.05" clip-path="url(#cWf)"/>
<rect x="744" y="350.3" width="97.9" height="77.6" fill="#000" fill-opacity="0.05" clip-path="url(#cPf)"/>
<rect x="744" y="437" width="97.9" height="77.6" fill="#000" fill-opacity="0.05" clip-path="url(#cWf)"/>
<g fill="none" stroke="#000" stroke-opacity="0.035" stroke-width="15" clip-path="url(#cWM)"><path d="M366 348 Q385 300 452 262"/><path d="M477 262 Q500 300 463 346"/><path d="M366 352 Q400 395 450 424"/><path d="M497 370 Q505 400 506 432"/><path d="M436 438 Q446 460 450 486"/><path d="M513 436 Q528 458 535 486"/></g>
<g stroke="#000" stroke-width="1" stroke-dasharray="2 2" shape-rendering="crispEdges"><line x1="361.5" y1="263.8" x2="361.5" y2="341.6"/><line x1="380.5" y1="263.8" x2="380.5" y2="341.6"/><line x1="400.5" y1="263.8" x2="400.5" y2="341.6"/><line x1="419.5" y1="263.8" x2="419.5" y2="341.6"/><line x1="438.5" y1="263.8" x2="438.5" y2="341.6"/><line x1="457.5" y1="263.8" x2="457.5" y2="341.6"/><line x1="476.5" y1="263.8" x2="476.5" y2="341.6"/><line x1="495.5" y1="263.8" x2="495.5" y2="341.6"/><line x1="515.5" y1="263.8" x2="515.5" y2="341.6"/><line x1="534.5" y1="263.8" x2="534.5" y2="341.6"/><line x1="553.5" y1="263.8" x2="553.5" y2="341.6"/><line x1="572.5" y1="263.8" x2="572.5" y2="341.6"/><line x1="591.5" y1="263.8" x2="591.5" y2="341.6"/><line x1="610.5" y1="263.8" x2="610.5" y2="341.6"/><line x1="630.5" y1="263.8" x2="630.5" y2="341.6"/><line x1="649.5" y1="263.8" x2="649.5" y2="341.6"/><line x1="668.5" y1="263.8" x2="668.5" y2="341.6"/><line x1="687.5" y1="263.8" x2="687.5" y2="341.6"/><line x1="706.5" y1="263.8" x2="706.5" y2="341.6"/><line x1="725.5" y1="263.8" x2="725.5" y2="341.6"/><line x1="745.5" y1="263.8" x2="745.5" y2="341.6"/><line x1="764.5" y1="263.8" x2="764.5" y2="341.6"/><line x1="783.5" y1="263.8" x2="783.5" y2="341.6"/><line x1="802.5" y1="263.8" x2="802.5" y2="341.6"/><line x1="821.5" y1="263.8" x2="821.5" y2="341.6"/><line x1="348.6" y1="266.5" x2="841.3" y2="266.5"/><line x1="348.6" y1="281.5" x2="841.3" y2="281.5"/><line x1="348.6" y1="296.5" x2="841.3" y2="296.5"/><line x1="348.6" y1="311.5" x2="841.3" y2="311.5"/><line x1="348.6" y1="326.5" x2="841.3" y2="326.5"/></g>
<g stroke="#000" stroke-width="1" stroke-dasharray="2 2" shape-rendering="crispEdges"><line x1="361.5" y1="350.3" x2="361.5" y2="427.9"/><line x1="380.5" y1="350.3" x2="380.5" y2="427.9"/><line x1="400.5" y1="350.3" x2="400.5" y2="427.9"/><line x1="419.5" y1="350.3" x2="419.5" y2="427.9"/><line x1="438.5" y1="350.3" x2="438.5" y2="427.9"/><line x1="457.5" y1="350.3" x2="457.5" y2="427.9"/><line x1="476.5" y1="350.3" x2="476.5" y2="427.9"/><line x1="495.5" y1="350.3" x2="495.5" y2="427.9"/><line x1="515.5" y1="350.3" x2="515.5" y2="427.9"/><line x1="534.5" y1="350.3" x2="534.5" y2="427.9"/><line x1="553.5" y1="350.3" x2="553.5" y2="427.9"/><line x1="572.5" y1="350.3" x2="572.5" y2="427.9"/><line x1="591.5" y1="350.3" x2="591.5" y2="427.9"/><line x1="610.5" y1="350.3" x2="610.5" y2="427.9"/><line x1="630.5" y1="350.3" x2="630.5" y2="427.9"/><line x1="649.5" y1="350.3" x2="649.5" y2="427.9"/><line x1="668.5" y1="350.3" x2="668.5" y2="427.9"/><line x1="687.5" y1="350.3" x2="687.5" y2="427.9"/><line x1="706.5" y1="350.3" x2="706.5" y2="427.9"/><line x1="725.5" y1="350.3" x2="725.5" y2="427.9"/><line x1="745.5" y1="350.3" x2="745.5" y2="427.9"/><line x1="764.5" y1="350.3" x2="764.5" y2="427.9"/><line x1="783.5" y1="350.3" x2="783.5" y2="427.9"/><line x1="802.5" y1="350.3" x2="802.5" y2="427.9"/><line x1="821.5" y1="350.3" x2="821.5" y2="427.9"/><line x1="348.6" y1="353.5" x2="841.3" y2="353.5"/><line x1="348.6" y1="368.5" x2="841.3" y2="368.5"/><line x1="348.6" y1="384.5" x2="841.3" y2="384.5"/><line x1="348.6" y1="400.5" x2="841.3" y2="400.5"/><line x1="348.6" y1="416.5" x2="841.3" y2="416.5"/></g>
<g stroke="#000" stroke-width="1" stroke-dasharray="2 2" shape-rendering="crispEdges"><line x1="361.5" y1="437" x2="361.5" y2="514.6"/><line x1="380.5" y1="437" x2="380.5" y2="514.6"/><line x1="400.5" y1="437" x2="400.5" y2="514.6"/><line x1="419.5" y1="437" x2="419.5" y2="514.6"/><line x1="438.5" y1="437" x2="438.5" y2="514.6"/><line x1="457.5" y1="437" x2="457.5" y2="514.6"/><line x1="476.5" y1="437" x2="476.5" y2="514.6"/><line x1="495.5" y1="437" x2="495.5" y2="514.6"/><line x1="515.5" y1="437" x2="515.5" y2="514.6"/><line x1="534.5" y1="437" x2="534.5" y2="514.6"/><line x1="553.5" y1="437" x2="553.5" y2="514.6"/><line x1="572.5" y1="437" x2="572.5" y2="514.6"/><line x1="591.5" y1="437" x2="591.5" y2="514.6"/><line x1="610.5" y1="437" x2="610.5" y2="514.6"/><line x1="630.5" y1="437" x2="630.5" y2="514.6"/><line x1="649.5" y1="437" x2="649.5" y2="514.6"/><line x1="668.5" y1="437" x2="668.5" y2="514.6"/><line x1="687.5" y1="437" x2="687.5" y2="514.6"/><line x1="706.5" y1="437" x2="706.5" y2="514.6"/><line x1="725.5" y1="437" x2="725.5" y2="514.6"/><line x1="745.5" y1="437" x2="745.5" y2="514.6"/><line x1="764.5" y1="437" x2="764.5" y2="514.6"/><line x1="783.5" y1="437" x2="783.5" y2="514.6"/><line x1="802.5" y1="437" x2="802.5" y2="514.6"/><line x1="821.5" y1="437" x2="821.5" y2="514.6"/><line x1="348.6" y1="438.5" x2="841.3" y2="438.5"/><line x1="348.6" y1="464.5" x2="841.3" y2="464.5"/><line x1="348.6" y1="490.5" x2="841.3" y2="490.5"/></g>
<g stroke="#000" stroke-width="1" stroke-dasharray="2 2" shape-rendering="crispEdges"><line x1="361.5" y1="521.6" x2="361.5" y2="551.6"/><line x1="380.5" y1="521.6" x2="380.5" y2="551.6"/><line x1="400.5" y1="521.6" x2="400.5" y2="551.6"/><line x1="419.5" y1="521.6" x2="419.5" y2="551.6"/><line x1="438.5" y1="521.6" x2="438.5" y2="551.6"/><line x1="457.5" y1="521.6" x2="457.5" y2="551.6"/><line x1="476.5" y1="521.6" x2="476.5" y2="551.6"/><line x1="495.5" y1="521.6" x2="495.5" y2="551.6"/><line x1="515.5" y1="521.6" x2="515.5" y2="551.6"/><line x1="534.5" y1="521.6" x2="534.5" y2="551.6"/><line x1="553.5" y1="521.6" x2="553.5" y2="551.6"/><line x1="572.5" y1="521.6" x2="572.5" y2="551.6"/><line x1="591.5" y1="521.6" x2="591.5" y2="551.6"/><line x1="610.5" y1="521.6" x2="610.5" y2="551.6"/><line x1="630.5" y1="521.6" x2="630.5" y2="551.6"/><line x1="649.5" y1="521.6" x2="649.5" y2="551.6"/><line x1="668.5" y1="521.6" x2="668.5" y2="551.6"/><line x1="687.5" y1="521.6" x2="687.5" y2="551.6"/><line x1="706.5" y1="521.6" x2="706.5" y2="551.6"/><line x1="725.5" y1="521.6" x2="725.5" y2="551.6"/><line x1="745.5" y1="521.6" x2="745.5" y2="551.6"/><line x1="764.5" y1="521.6" x2="764.5" y2="551.6"/><line x1="783.5" y1="521.6" x2="783.5" y2="551.6"/><line x1="802.5" y1="521.6" x2="802.5" y2="551.6"/><line x1="821.5" y1="521.6" x2="821.5" y2="551.6"/></g>
<g stroke="#000" stroke-width="1" stroke-dasharray="2 2" shape-rendering="crispEdges"><line x1="361.5" y1="645.2" x2="361.5" y2="660"/><line x1="380.5" y1="645.2" x2="380.5" y2="660"/><line x1="400.5" y1="645.2" x2="400.5" y2="660"/><line x1="419.5" y1="645.2" x2="419.5" y2="660"/><line x1="438.5" y1="645.2" x2="438.5" y2="660"/><line x1="457.5" y1="645.2" x2="457.5" y2="660"/><line x1="476.5" y1="645.2" x2="476.5" y2="660"/><line x1="495.5" y1="645.2" x2="495.5" y2="660"/><line x1="515.5" y1="645.2" x2="515.5" y2="660"/><line x1="534.5" y1="645.2" x2="534.5" y2="660"/><line x1="553.5" y1="645.2" x2="553.5" y2="660"/><line x1="572.5" y1="645.2" x2="572.5" y2="660"/><line x1="591.5" y1="645.2" x2="591.5" y2="660"/><line x1="610.5" y1="645.2" x2="610.5" y2="660"/><line x1="630.5" y1="645.2" x2="630.5" y2="660"/><line x1="649.5" y1="645.2" x2="649.5" y2="660"/><line x1="668.5" y1="645.2" x2="668.5" y2="660"/><line x1="687.5" y1="645.2" x2="687.5" y2="660"/><line x1="706.5" y1="645.2" x2="706.5" y2="660"/><line x1="725.5" y1="645.2" x2="725.5" y2="660"/><line x1="745.5" y1="645.2" x2="745.5" y2="660"/><line x1="764.5" y1="645.2" x2="764.5" y2="660"/><line x1="783.5" y1="645.2" x2="783.5" y2="660"/><line x1="802.5" y1="645.2" x2="802.5" y2="660"/><line x1="821.5" y1="645.2" x2="821.5" y2="660"/><line x1="348.6" y1="646.5" x2="841.3" y2="646.5"/></g>
<g clip-path="url(#cT)">
<g fill="#6c5ee2"><circle cx="348.5" cy="221.6" r="1.65"/><circle cx="355.5" cy="221.1" r="1.65"/><circle cx="361.5" cy="220.7" r="1.65"/><circle cx="368.5" cy="220.3" r="1.65"/><circle cx="374.5" cy="219.8" r="1.65"/><circle cx="380.5" cy="219.4" r="1.65"/><circle cx="387.5" cy="219.1" r="1.65"/><circle cx="393.5" cy="218.8" r="1.65"/><circle cx="400.5" cy="217.9" r="1.65"/><circle cx="406.5" cy="216.4" r="1.65"/><circle cx="412.5" cy="214.4" r="1.65"/><circle cx="419.5" cy="212.2" r="1.65"/><circle cx="425.5" cy="211.1" r="1.65"/><circle cx="431.5" cy="211" r="1.65"/><circle cx="438.5" cy="211.4" r="1.65"/><circle cx="444.5" cy="211.6" r="1.65"/><circle cx="451.5" cy="211.9" r="1.65"/><circle cx="457.5" cy="212.1" r="1.65"/><circle cx="463.5" cy="212.3" r="1.65"/><circle cx="470.5" cy="212.6" r="1.65"/><circle cx="476.5" cy="212.7" r="1.65"/><circle cx="483.5" cy="212.8" r="1.65"/><circle cx="489.5" cy="212.9" r="1.65"/><circle cx="495.5" cy="213" r="1.65"/><circle cx="502.5" cy="213.1" r="1.65"/><circle cx="508.5" cy="213.1" r="1.65"/><circle cx="515.5" cy="213.2" r="1.65"/><circle cx="521.5" cy="213.4" r="1.65"/><circle cx="527.5" cy="213.6" r="1.65"/><circle cx="534.5" cy="213.6" r="1.65"/><circle cx="540.5" cy="213.4" r="1.65"/><circle cx="546.5" cy="213" r="1.65"/><circle cx="553.5" cy="212.3" r="1.65"/><circle cx="559.5" cy="211.1" r="1.65"/><circle cx="566.5" cy="209.4" r="1.65"/><circle cx="572.5" cy="208.2" r="1.65"/><circle cx="578.5" cy="207.3" r="1.65"/><circle cx="585.5" cy="207.3" r="1.65"/><circle cx="591.5" cy="207.6" r="1.65"/><circle cx="598.5" cy="208" r="1.65"/><circle cx="604.5" cy="208.3" r="1.65"/><circle cx="610.5" cy="208.6" r="1.65"/><circle cx="617.5" cy="208.8" r="1.65"/><circle cx="623.5" cy="208.9" r="1.65"/><circle cx="630.5" cy="209.1" r="1.65"/><circle cx="636.5" cy="209.2" r="1.65"/><circle cx="642.5" cy="209.3" r="1.65"/><circle cx="649.5" cy="209.5" r="1.65"/><circle cx="655.5" cy="209.7" r="1.65"/><circle cx="662.5" cy="210" r="1.65"/><circle cx="668.5" cy="210.3" r="1.65"/><circle cx="674.5" cy="210.6" r="1.65"/><circle cx="681.5" cy="210.9" r="1.65"/><circle cx="687.5" cy="211.2" r="1.65"/><circle cx="693.5" cy="211.4" r="1.65"/><circle cx="700.5" cy="210.9" r="1.65"/><circle cx="706.5" cy="210" r="1.65"/><circle cx="713.5" cy="208.6" r="1.65"/><circle cx="719.5" cy="207.4" r="1.65"/><circle cx="725.5" cy="206.1" r="1.65"/><circle cx="732.5" cy="205.4" r="1.65"/><circle cx="738.5" cy="205.9" r="1.65"/><circle cx="745.5" cy="206.7" r="1.65"/><circle cx="751.5" cy="207" r="1.65"/><circle cx="757.5" cy="207.3" r="1.65"/><circle cx="764.5" cy="207.6" r="1.65"/><circle cx="770.5" cy="207.8" r="1.65"/><circle cx="777.5" cy="208" r="1.65"/><circle cx="783.5" cy="208.2" r="1.65"/><circle cx="789.5" cy="208.3" r="1.65"/><circle cx="796.5" cy="208.6" r="1.65"/><circle cx="802.5" cy="208.9" r="1.65"/><circle cx="808.5" cy="209.4" r="1.65"/><circle cx="815.5" cy="210.2" r="1.65"/><circle cx="821.5" cy="210.8" r="1.65"/><circle cx="828.5" cy="211.2" r="1.65"/><circle cx="834.5" cy="211.4" r="1.65"/><circle cx="840.5" cy="211.7" r="1.65"/></g>
<g stroke="#b02020" stroke-width="1" shape-rendering="crispEdges"><line x1="355.5" y1="199.4" x2="355.5" y2="227.9"/><line x1="361.5" y1="199.2" x2="361.5" y2="227.4"/><line x1="368.5" y1="199.1" x2="368.5" y2="227"/><line x1="374.5" y1="198.9" x2="374.5" y2="226.5"/><line x1="380.5" y1="198.8" x2="380.5" y2="226"/><line x1="387.5" y1="198.8" x2="387.5" y2="225.5"/><line x1="393.5" y1="198.7" x2="393.5" y2="225"/><line x1="400.5" y1="196.1" x2="400.5" y2="223.7"/><line x1="406.5" y1="193.4" x2="406.5" y2="222.5"/><line x1="412.5" y1="190.3" x2="412.5" y2="220"/><line x1="419.5" y1="190" x2="419.5" y2="219.1"/><line x1="425.5" y1="189.8" x2="425.5" y2="218.2"/><line x1="431.5" y1="191.6" x2="431.5" y2="219.4"/><line x1="438.5" y1="193.2" x2="438.5" y2="219.4"/><line x1="444.5" y1="194.6" x2="444.5" y2="219.4"/><line x1="451.5" y1="194.6" x2="451.5" y2="218.9"/><line x1="457.5" y1="194.9" x2="457.5" y2="218.8"/><line x1="463.5" y1="195.2" x2="463.5" y2="218.8"/><line x1="470.5" y1="195.6" x2="470.5" y2="218.8"/><line x1="476.5" y1="195.9" x2="476.5" y2="218.8"/><line x1="483.5" y1="196.2" x2="483.5" y2="218.8"/><line x1="489.5" y1="196.6" x2="489.5" y2="218.8"/><line x1="495.5" y1="196.9" x2="495.5" y2="218.8"/><line x1="502.5" y1="197.3" x2="502.5" y2="218.8"/><line x1="508.5" y1="197.6" x2="508.5" y2="218.8"/><line x1="515.5" y1="197.8" x2="515.5" y2="218.8"/><line x1="521.5" y1="198.1" x2="521.5" y2="218.8"/><line x1="527.5" y1="198.3" x2="527.5" y2="218.8"/><line x1="534.5" y1="198.6" x2="534.5" y2="218.8"/><line x1="540.5" y1="198.8" x2="540.5" y2="218.8"/><line x1="546.5" y1="198.8" x2="546.5" y2="218.2"/><line x1="553.5" y1="196.9" x2="553.5" y2="217.2"/><line x1="559.5" y1="194.9" x2="559.5" y2="216.1"/><line x1="566.5" y1="193" x2="566.5" y2="215"/><line x1="572.5" y1="191.7" x2="572.5" y2="214.2"/><line x1="578.5" y1="190.4" x2="578.5" y2="213.5"/><line x1="585.5" y1="191.4" x2="585.5" y2="213.8"/><line x1="591.5" y1="192.7" x2="591.5" y2="214.3"/><line x1="598.5" y1="194" x2="598.5" y2="214.7"/><line x1="604.5" y1="195.2" x2="604.5" y2="215.2"/><line x1="610.5" y1="195.6" x2="610.5" y2="215.3"/><line x1="617.5" y1="196" x2="617.5" y2="215.4"/><line x1="623.5" y1="196.4" x2="623.5" y2="215.5"/><line x1="630.5" y1="196.8" x2="630.5" y2="215.6"/><line x1="636.5" y1="197.2" x2="636.5" y2="215.7"/><line x1="642.5" y1="197.6" x2="642.5" y2="215.8"/><line x1="649.5" y1="198.2" x2="649.5" y2="216.1"/><line x1="655.5" y1="198.8" x2="655.5" y2="216.4"/><line x1="662.5" y1="198.9" x2="662.5" y2="216.5"/><line x1="668.5" y1="199" x2="668.5" y2="216.6"/><line x1="674.5" y1="199.1" x2="674.5" y2="216.7"/><line x1="681.5" y1="199.2" x2="681.5" y2="216.8"/><line x1="687.5" y1="199.3" x2="687.5" y2="216.9"/><line x1="693.5" y1="199.4" x2="693.5" y2="217"/><line x1="700.5" y1="196.3" x2="700.5" y2="215.9"/><line x1="706.5" y1="192.8" x2="706.5" y2="214.7"/><line x1="713.5" y1="189.3" x2="713.5" y2="213.5"/><line x1="719.5" y1="186.7" x2="719.5" y2="211.5"/><line x1="725.5" y1="187.3" x2="725.5" y2="210.9"/><line x1="732.5" y1="187.9" x2="732.5" y2="210.3"/><line x1="738.5" y1="193.5" x2="738.5" y2="211.5"/><line x1="745.5" y1="194.7" x2="745.5" y2="212.2"/><line x1="751.5" y1="196" x2="751.5" y2="212.9"/><line x1="757.5" y1="196.9" x2="757.5" y2="212.9"/><line x1="764.5" y1="197.5" x2="764.5" y2="214.8"/><line x1="770.5" y1="198" x2="770.5" y2="216.9"/><line x1="777.5" y1="198.5" x2="777.5" y2="217.9"/><line x1="783.5" y1="198.7" x2="783.5" y2="218.3"/><line x1="789.5" y1="199" x2="789.5" y2="218.6"/><line x1="796.5" y1="199" x2="796.5" y2="218"/><line x1="802.5" y1="199.2" x2="802.5" y2="216.9"/><line x1="808.5" y1="199.5" x2="808.5" y2="215.8"/><line x1="815.5" y1="200" x2="815.5" y2="222.6"/><line x1="821.5" y1="200.2" x2="821.5" y2="222.7"/><line x1="828.5" y1="200.5" x2="828.5" y2="222.7"/><line x1="834.5" y1="200.5" x2="834.5" y2="226.1"/></g>
<g stroke="#000" stroke-width="1" stroke-dasharray="2 2" shape-rendering="crispEdges"><line x1="361.5" y1="177.4" x2="361.5" y2="255.2"/><line x1="380.5" y1="177.4" x2="380.5" y2="255.2"/><line x1="400.5" y1="177.4" x2="400.5" y2="255.2"/><line x1="419.5" y1="177.4" x2="419.5" y2="255.2"/><line x1="438.5" y1="177.4" x2="438.5" y2="255.2"/><line x1="457.5" y1="177.4" x2="457.5" y2="255.2"/><line x1="476.5" y1="177.4" x2="476.5" y2="255.2"/><line x1="495.5" y1="177.4" x2="495.5" y2="255.2"/><line x1="515.5" y1="177.4" x2="515.5" y2="255.2"/><line x1="534.5" y1="177.4" x2="534.5" y2="255.2"/><line x1="553.5" y1="177.4" x2="553.5" y2="255.2"/><line x1="572.5" y1="177.4" x2="572.5" y2="255.2"/><line x1="591.5" y1="177.4" x2="591.5" y2="255.2"/><line x1="610.5" y1="177.4" x2="610.5" y2="255.2"/><line x1="630.5" y1="177.4" x2="630.5" y2="255.2"/><line x1="649.5" y1="177.4" x2="649.5" y2="255.2"/><line x1="668.5" y1="177.4" x2="668.5" y2="255.2"/><line x1="687.5" y1="177.4" x2="687.5" y2="255.2"/><line x1="706.5" y1="177.4" x2="706.5" y2="255.2"/><line x1="725.5" y1="177.4" x2="725.5" y2="255.2"/><line x1="745.5" y1="177.4" x2="745.5" y2="255.2"/><line x1="764.5" y1="177.4" x2="764.5" y2="255.2"/><line x1="783.5" y1="177.4" x2="783.5" y2="255.2"/><line x1="802.5" y1="177.4" x2="802.5" y2="255.2"/><line x1="821.5" y1="177.4" x2="821.5" y2="255.2"/><line x1="348.6" y1="188.5" x2="841.3" y2="188.5"/><line x1="348.6" y1="208.5" x2="841.3" y2="208.5"/><line x1="348.6" y1="229.5" x2="841.3" y2="229.5"/><line x1="348.6" y1="250.5" x2="841.3" y2="250.5"/></g>
<path d="M348.6 243.1 L350.2 243.1 L351.8 243.2 L353.4 243.3 L355 243.3 L356.6 243.4 L358.2 243.4 L359.8 243.3 L361.4 243.1 L363 242.5 L364.6 241.5 L366.2 240.5 L367.8 240 L369.4 239.6 L371 239.3 L372.6 238.9 L374.2 238.6 L375.8 238.3 L377.4 238.1 L379 237.9 L380.6 237.6 L382.2 237.4 L383.8 237.3 L385.4 237.2 L387 237.1 L388.6 237 L390.2 236.9 L391.8 236.8 L393.4 236.6 L395 236.4 L396.6 236.2 L398.2 236 L399.8 235.6 L401.4 234.9 L403 234.1 L404.6 233.2 L406.2 232.2 L407.8 231.3 L409.4 230.3 L411 229.4 L412.6 228.6 L414.2 227.8 L415.8 227 L417.4 226.3 L419 225.7 L420.6 225.2 L422.2 224.7 L423.8 224.4 L425.4 224.1 L427 223.9 L428.6 223.7 L430.2 223.7 L431.8 223.9 L433.4 224.2 L435 224.7 L436.6 225.1 L438.2 225.5 L439.8 225.8 L441.4 226.1 L443 226.3 L444.6 226.6 L446.2 226.9 L447.8 227.1 L449.4 227.3 L451 227.6 L452.6 227.8 L454.2 228 L455.8 228.1 L457.4 228.2 L459 228.3 L460.6 228.3 L462.2 228.3 L463.8 228.3 L465.4 228.3 L467 228.3 L468.6 228.3 L470.2 228.3 L471.8 228.4 L473.4 228.4 L475 228.4 L476.6 228.5 L478.2 228.6 L479.8 228.7 L481.4 228.8 L483 228.9 L484.6 229 L486.2 229.2 L487.8 229.3 L489.4 229.5 L491 229.6 L492.6 229.8 L494.2 229.9 L495.8 230.1 L497.4 230.3 L499 230.5 L500.6 230.8 L502.2 231.1 L503.8 231.4 L505.4 231.6 L507 231.7 L508.6 231.8 L510.2 231.6 L511.8 231.3 L513.4 231 L515 230.7 L516.6 230.6 L518.2 230.6 L519.8 230.5 L521.4 230.5 L523 230.4 L524.6 230.4 L526.2 230.4 L527.8 230.4 L529.4 230.4 L531 230.3 L532.6 230.3 L534.2 230.3 L535.8 230.3 L537.4 230.3 L539 230.3 L540.6 230.3 L542.2 230.3 L543.8 230.3 L545.4 230.3 L547 230.2 L548.6 230.2 L550.2 229.9 L551.8 229.5 L553.4 228.8 L555 227.9 L556.6 227 L558.2 226.1 L559.8 225.1 L561.4 224.1 L563 223.2 L564.6 222.4 L566.2 221.7 L567.8 221 L569.4 220.4 L571 219.8 L572.6 219.3 L574.2 218.9 L575.8 218.5 L577.4 218.3 L579 218.2 L580.6 218.3 L582.2 218.5 L583.8 218.8 L585.4 219.1 L587 219.5 L588.6 219.9 L590.2 220.2 L591.8 220.6 L593.4 221 L595 221.5 L596.6 222 L598.2 222.5 L599.8 222.9 L601.4 223.2 L603 223.5 L604.6 223.7 L606.2 223.9 L607.8 224 L609.4 224.2 L611 224.4 L612.6 224.5 L614.2 224.7 L615.8 224.8 L617.4 224.9 L619 225.1 L620.6 225.2 L622.2 225.4 L623.8 225.5 L625.4 225.6 L627 225.8 L628.6 225.9 L630.2 226.1 L631.8 226.2 L633.4 226.4 L635 226.5 L636.6 226.7 L638.2 226.8 L639.8 227 L641.4 227.1 L643 227.3 L644.6 227.4 L646.2 227.6 L647.8 227.8 L649.4 227.9 L651 228.1 L652.6 228.3 L654.2 228.5 L655.8 228.7 L657.4 228.9 L659 229.1 L660.6 229.3 L662.2 229.5 L663.8 229.7 L665.4 229.8 L667 230 L668.6 230.2 L670.2 230.3 L671.8 230.4 L673.4 230.6 L675 230.7 L676.6 230.8 L678.2 230.9 L679.8 231 L681.4 231.1 L683 231.2 L684.6 231.3 L686.2 231.4 L687.8 231.5 L689.4 231.7 L691 231.8 L692.6 231.8 L694.2 231.7 L695.8 231.5 L697.4 231.2 L699 230.8 L700.6 230.4 L702.2 229.9 L703.8 229.3 L705.4 228.7 L707 227.8 L708.6 226.7 L710.2 225.4 L711.8 224.1 L713.4 222.8 L715 221.6 L716.6 220.5 L718.2 219.6 L719.8 218.7 L721.4 217.8 L723 217 L724.6 216.4 L726.2 215.8 L727.8 215.4 L729.4 215.3 L731 215.4 L732.6 215.5 L734.2 215.8 L735.8 216.3 L737.4 216.7 L739 217.2 L740.6 217.7 L742.2 218.3 L743.8 218.8 L745.4 219.3 L747 219.7 L748.6 220.1 L750.2 220.5 L751.8 220.9 L753.4 221.3 L755 221.7 L756.6 222.1 L758.2 222.5 L759.8 222.9 L761.4 223.2 L763 223.6 L764.6 223.9 L766.2 224.2 L767.8 224.4 L769.4 224.7 L771 224.9 L772.6 225.1 L774.2 225.3 L775.8 225.5 L777.4 225.7 L779 225.9 L780.6 226 L782.2 226.3 L783.8 226.5 L785.4 226.7 L787 226.9 L788.6 227.2 L790.2 227.4 L791.8 227.7 L793.4 227.9 L795 228.1 L796.6 228.2 L798.2 228.2 L799.8 228.2 L801.4 228 L803 227.8 L804.6 227.6 L806.2 227.4 L807.8 227.1 L809.4 226.9 L811 226.6 L812.6 226.4 L814.2 226.2 L815.8 226 L817.4 226 L819 226 L820.6 226 L822.2 225.9 L823.8 225.7 L825.4 225.6 L827 225.4 L828.6 225.2 L830.2 225.1 L831.8 225 L833.4 225 L835 225.2 L836.6 225.4 L838.2 225.6 L839.8 225.9 L841.3 226.1" fill="none" stroke="#0000ff" stroke-width="2.2" stroke-linejoin="round"/>
<path d="M348.6 209.7 L350.2 209.7 L351.8 209.7 L353.4 209.7 L355 209.7 L356.6 209.8 L358.2 209.7 L359.8 209.6 L361.4 209.5 L363 209.3 L364.6 209.1 L366.2 208.8 L367.8 208.5 L369.4 208.2 L371 207.9 L372.6 207.6 L374.2 207.3 L375.8 207 L377.4 206.7 L379 206.4 L380.6 206.1 L382.2 205.9 L383.8 205.7 L385.4 205.6 L387 205.4 L388.6 205.3 L390.2 205.1 L391.8 204.9 L393.4 204.6 L395 204.3 L396.6 203.9 L398.2 203.4 L399.8 202.9 L401.4 202.2 L403 201.5 L404.6 200.6 L406.2 199.7 L407.8 198.9 L409.4 198.1 L411 197.4 L412.6 196.8 L414.2 196.3 L415.8 195.9 L417.4 195.6 L419 195.3 L420.6 195.1 L422.2 194.9 L423.8 194.8 L425.4 194.8 L427 194.8 L428.6 194.9 L430.2 195 L431.8 195.2 L433.4 195.5 L435 195.7 L436.6 196 L438.2 196.2 L439.8 196.3 L441.4 196.5 L443 196.6 L444.6 196.7 L446.2 196.8 L447.8 196.9 L449.4 197 L451 197 L452.6 197 L454.2 197 L455.8 197 L457.4 197 L459 197.1 L460.6 197.2 L462.2 197.4 L463.8 197.5 L465.4 197.7 L467 197.8 L468.6 198 L470.2 198.1 L471.8 198.2 L473.4 198.4 L475 198.5 L476.6 198.6 L478.2 198.7 L479.8 198.8 L481.4 198.9 L483 198.9 L484.6 199 L486.2 199 L487.8 199.1 L489.4 199.2 L491 199.2 L492.6 199.3 L494.2 199.3 L495.8 199.4 L497.4 199.5 L499 199.5 L500.6 199.6 L502.2 199.7 L503.8 199.8 L505.4 199.8 L507 199.9 L508.6 200 L510.2 200.1 L511.8 200.1 L513.4 200.2 L515 200.3 L516.6 200.4 L518.2 200.4 L519.8 200.5 L521.4 200.6 L523 200.7 L524.6 200.8 L526.2 200.8 L527.8 200.9 L529.4 201 L531 201.1 L532.6 201.1 L534.2 201.2 L535.8 201.2 L537.4 201.3 L539 201.3 L540.6 201.3 L542.2 201.2 L543.8 200.9 L545.4 200.5 L547 200.2 L548.6 199.9 L550.2 199.6 L551.8 199.3 L553.4 198.8 L555 198.3 L556.6 197.7 L558.2 197.1 L559.8 196.5 L561.4 195.8 L563 195.3 L564.6 194.7 L566.2 194.2 L567.8 193.7 L569.4 193.2 L571 192.8 L572.6 192.4 L574.2 192.1 L575.8 191.7 L577.4 191.5 L579 191.5 L580.6 191.6 L582.2 191.8 L583.8 192.2 L585.4 192.5 L587 192.9 L588.6 193.3 L590.2 193.7 L591.8 194 L593.4 194.4 L595 194.7 L596.6 195 L598.2 195.3 L599.8 195.6 L601.4 195.9 L603 196.1 L604.6 196.3 L606.2 196.5 L607.8 196.7 L609.4 196.9 L611 197.1 L612.6 197.3 L614.2 197.5 L615.8 197.7 L617.4 197.8 L619 198 L620.6 198.2 L622.2 198.4 L623.8 198.6 L625.4 198.8 L627 199 L628.6 199.2 L630.2 199.4 L631.8 199.5 L633.4 199.7 L635 199.9 L636.6 200 L638.2 200.2 L639.8 200.3 L641.4 200.5 L643 200.6 L644.6 200.8 L646.2 200.9 L647.8 201.1 L649.4 201.2 L651 201.4 L652.6 201.5 L654.2 201.7 L655.8 201.9 L657.4 202.1 L659 202.2 L660.6 202.4 L662.2 202.6 L663.8 202.7 L665.4 202.9 L667 203 L668.6 203.1 L670.2 203.3 L671.8 203.4 L673.4 203.5 L675 203.6 L676.6 203.7 L678.2 203.8 L679.8 203.9 L681.4 204 L683 204.1 L684.6 204.2 L686.2 204.2 L687.8 204.3 L689.4 204.4 L691 204.4 L692.6 204.4 L694.2 204.2 L695.8 203.9 L697.4 203.6 L699 203.1 L700.6 202.6 L702.2 201.9 L703.8 201 L705.4 200.1 L707 199.3 L708.6 198.6 L710.2 197.8 L711.8 197.1 L713.4 196.4 L715 195.8 L716.6 195.2 L718.2 194.6 L719.8 194 L721.4 193.5 L723 193 L724.6 192.5 L726.2 192.2 L727.8 192 L729.4 192 L731 192.1 L732.6 192.2 L734.2 192.5 L735.8 192.8 L737.4 193.2 L739 193.5 L740.6 193.9 L742.2 194.2 L743.8 194.6 L745.4 194.9 L747 195.3 L748.6 195.7 L750.2 196 L751.8 196.5 L753.4 196.9 L755 197.4 L756.6 197.8 L758.2 198.3 L759.8 198.7 L761.4 199.1 L763 199.4 L764.6 199.7 L766.2 199.9 L767.8 200.1 L769.4 200.3 L771 200.5 L772.6 200.6 L774.2 200.8 L775.8 200.9 L777.4 201 L779 201.1 L780.6 201.2 L782.2 201.2 L783.8 201.3 L785.4 201.4 L787 201.4 L788.6 201.4 L790.2 201.4 L791.8 201.3 L793.4 201.3 L795 201.2 L796.6 201.2 L798.2 201.2 L799.8 201.2 L801.4 201.3 L803 201.3 L804.6 201.4 L806.2 201.6 L807.8 201.7 L809.4 201.9 L811 202 L812.6 202.2 L814.2 202.4 L815.8 202.5 L817.4 202.7 L819 202.9 L820.6 203 L822.2 203.1 L823.8 203.2 L825.4 203.3 L827 203.4 L828.6 203.5 L830.2 203.5 L831.8 203.6 L833.4 203.7 L835 203.7 L836.6 203.8 L838.2 203.9 L839.8 203.9 L841.3 204" fill="none" stroke="#ff0000" stroke-width="2.4" stroke-linejoin="round"/>
</g>
<line x1="348.6" y1="341.5" x2="841.3" y2="341.5" stroke="#1a7a1a" stroke-width="1.4"/>
<path d="M348.6 293.5 L350.2 293.7 L351.8 293.8 L353.4 294 L355 294.2 L356.6 294.3 L358.2 294.5 L359.8 294.7 L361.4 294.9 L363 295.2 L364.6 295.5 L366.2 295.9 L367.8 296.2 L369.4 296.3 L371 296.3 L372.6 296.1 L374.2 295.8 L375.8 295.5 L377.4 295.2 L379 295 L380.6 294.9 L382.2 294.9 L383.8 295 L385.4 295.4 L387 296.2 L388.6 297.1 L390.2 298.1 L391.8 299.1 L393.4 300.1 L395 301.2 L396.6 302.2 L398.2 303.2 L399.8 304.1 L401.4 304.9 L403 305.7 L404.6 306.6 L406.2 307.3 L407.8 308 L409.4 308.6 L411 309 L412.6 309.3 L414.2 309.4 L415.8 309.4 L417.4 309.3 L419 309 L420.6 308.8 L422.2 308.4 L423.8 308 L425.4 307.6 L427 307.1 L428.6 306.4 L430.2 305.7 L431.8 305 L433.4 304.3 L435 303.6 L436.6 303 L438.2 302.5 L439.8 302.2 L441.4 301.8 L443 301.5 L444.6 301.2 L446.2 300.9 L447.8 300.6 L449.4 300.4 L451 300.1 L452.6 299.9 L454.2 299.7 L455.8 299.5 L457.4 299.3 L459 299.1 L460.6 299 L462.2 298.9 L463.8 298.8 L465.4 298.7 L467 298.6 L468.6 298.4 L470.2 298.1 L471.8 297.7 L473.4 297.4 L475 297 L476.6 296.8 L478.2 296.6 L479.8 296.4 L481.4 296.2 L483 296.1 L484.6 295.9 L486.2 295.8 L487.8 295.6 L489.4 295.5 L491 295.3 L492.6 295.2 L494.2 295 L495.8 294.9 L497.4 294.7 L499 294.5 L500.6 294.3 L502.2 294.1 L503.8 293.9 L505.4 293.8 L507 293.6 L508.6 293.4 L510.2 293.2 L511.8 293 L513.4 292.8 L515 292.7 L516.6 292.5 L518.2 292.3 L519.8 292.1 L521.4 292 L523 291.8 L524.6 291.6 L526.2 291.5 L527.8 291.3 L529.4 291.2 L531 291 L532.6 290.9 L534.2 290.8 L535.8 290.6 L537.4 290.5 L539 290.5 L540.6 290.6 L542.2 291 L543.8 291.6 L545.4 292.2 L547 292.9 L548.6 293.7 L550.2 294.5 L551.8 295.2 L553.4 295.9 L555 296.6 L556.6 297.4 L558.2 298.1 L559.8 298.8 L561.4 299.5 L563 300.1 L564.6 300.6 L566.2 301.1 L567.8 301.4 L569.4 301.5 L571 301.5 L572.6 301.5 L574.2 301.3 L575.8 301.1 L577.4 300.8 L579 300.2 L580.6 299.4 L582.2 298.4 L583.8 297.3 L585.4 296 L587 294.8 L588.6 293.5 L590.2 292.3 L591.8 291.3 L593.4 290.7 L595 290.2 L596.6 289.5 L598.2 288.8 L599.8 288.1 L601.4 287.3 L603 286.6 L604.6 285.9 L606.2 285.2 L607.8 284.5 L609.4 283.9 L611 283.3 L612.6 282.7 L614.2 282.2 L615.8 281.7 L617.4 281.2 L619 280.8 L620.6 280.3 L622.2 279.9 L623.8 279.5 L625.4 279 L627 278.6 L628.6 278.2 L630.2 277.8 L631.8 277.4 L633.4 277 L635 276.6 L636.6 276.2 L638.2 275.8 L639.8 275.5 L641.4 275.1 L643 274.8 L644.6 274.5 L646.2 274.2 L647.8 273.9 L649.4 273.7 L651 273.5 L652.6 273.3 L654.2 273.1 L655.8 273 L657.4 272.9 L659 272.8 L660.6 272.7 L662.2 272.6 L663.8 272.6 L665.4 272.5 L667 272.5 L668.6 272.4 L670.2 272.3 L671.8 272.3 L673.4 272.2 L675 272.2 L676.6 272.2 L678.2 272.3 L679.8 272.4 L681.4 272.5 L683 272.6 L684.6 272.6 L686.2 272.7 L687.8 272.9 L689.4 273.2 L691 273.7 L692.6 274.3 L694.2 275.2 L695.8 276.2 L697.4 277.3 L699 278.5 L700.6 279.8 L702.2 281.1 L703.8 282.4 L705.4 283.6 L707 284.8 L708.6 286.1 L710.2 287.3 L711.8 288.6 L713.4 289.8 L715 291 L716.6 292.2 L718.2 293.2 L719.8 294.2 L721.4 295.1 L723 295.9 L724.6 296.5 L726.2 297 L727.8 297.2 L729.4 297.1 L731 296.7 L732.6 296.2 L734.2 295.5 L735.8 294.6 L737.4 293.6 L739 292.5 L740.6 291.4 L742.2 290.4 L743.8 289.5 L745.4 288.8 L747 288.2 L748.6 287.9 L750.2 287.6 L751.8 287.4 L753.4 287.2 L755 286.9 L756.6 286.6 L758.2 286.2 L759.8 285.6 L761.4 284.9 L763 284.1 L764.6 283.2 L766.2 282.3 L767.8 281.5 L769.4 280.7 L771 280 L772.6 279.5 L774.2 278.9 L775.8 278.5 L777.4 278 L779 277.6 L780.6 277.2 L782.2 276.9 L783.8 276.5 L785.4 276.1 L787 275.7 L788.6 275.3 L790.2 275.1 L791.8 275.1 L793.4 275.2 L795 275.3 L796.6 275.5 L798.2 275.7 L799.8 276 L801.4 276.2 L803 276.4 L804.6 276.6 L806.2 276.8 L807.8 276.9 L809.4 277 L811 277 L812.6 276.9 L814.2 276.7 L815.8 276.5 L817.4 276.3 L819 276.1 L820.6 275.8 L822.2 275.6 L823.8 275.4 L825.4 275.2 L827 275 L828.6 274.8 L830.2 274.5 L831.8 274.3 L833.4 274.1 L835 273.8 L836.6 273.6 L838.2 273.4 L839.8 273.1 L841.3 272.9" fill="none" stroke="#e8501a" stroke-width="1.9" stroke-linejoin="round" clip-path="url(#cR)"/>
<path d="M348.6 356.4 L350.2 356.5 L351.8 356.7 L353.4 356.8 L355 356.9 L356.6 357.1 L358.2 357.2 L359.8 357.4 L361.4 357.5 L363 357.6 L364.6 357.8 L366.2 357.9 L367.8 358 L369.4 358.1 L371 358.3 L372.6 358.4 L374.2 358.3 L375.8 358.2 L377.4 358 L379 357.9 L380.6 357.8 L382.2 357.6 L383.8 357.5 L385.4 357.3 L387 357.2 L388.6 357 L390.2 356.8 L391.8 356.7 L393.4 356.5 L395 356.4 L396.6 356.2 L398.2 356 L399.8 355.9 L401.4 356.1 L403 356.4 L404.6 356.6 L406.2 356.8 L407.8 357 L409.4 357.3 L411 357.5 L412.6 357.9 L414.2 358.4 L415.8 358.8 L417.4 359.3 L419 359.7 L420.6 359.8 L422.2 359.9 L423.8 360.1 L425.4 360.2 L427 360.3 L428.6 360.4 L430.2 360.5 L431.8 360.6 L433.4 360.8 L435 360.9 L436.6 361 L438.2 361.1 L439.8 361.2 L441.4 361.2 L443 361.3 L444.6 361.3 L446.2 361.4 L447.8 361.4 L449.4 361.5 L451 361.5 L452.6 361.6 L454.2 361.6 L455.8 361.7 L457.4 361.7 L459 361.5 L460.6 361.3 L462.2 361.2 L463.8 361 L465.4 360.8 L467 360.7 L468.6 360.5 L470.2 360.3 L471.8 360.2 L473.4 360 L475 359.8 L476.6 359.8 L478.2 360 L479.8 360.3 L481.4 360.6 L483 360.9 L484.6 361.1 L486.2 361.4 L487.8 361.7 L489.4 362 L491 362.2 L492.6 362.5 L494.2 362.8 L495.8 363 L497.4 363.2 L499 363.4 L500.6 363.6 L502.2 363.8 L503.8 364 L505.4 364.1 L507 364.3 L508.6 364.5 L510.2 364.7 L511.8 364.9 L513.4 365.1 L515 365.2 L516.6 365.3 L518.2 365.5 L519.8 365.6 L521.4 365.7 L523 365.8 L524.6 365.9 L526.2 366 L527.8 366.2 L529.4 366.3 L531 366.4 L532.6 366.5 L534.2 366.6 L535.8 366.5 L537.4 366.5 L539 366.5 L540.6 366.4 L542.2 366.4 L543.8 366.3 L545.4 366.3 L547 366.3 L548.6 366.2 L550.2 366.2 L551.8 366.1 L553.4 366.2 L555 366.5 L556.6 366.9 L558.2 367.2 L559.8 367.5 L561.4 367.9 L563 368.3 L564.6 368.7 L566.2 369.1 L567.8 369.6 L569.4 370 L571 370.4 L572.6 370.8 L574.2 370.9 L575.8 371.1 L577.4 371.3 L579 371.5 L580.6 371.7 L582.2 371.9 L583.8 372 L585.4 372.2 L587 372.4 L588.6 372.6 L590.2 372.8 L591.8 373 L593.4 373.2 L595 373.5 L596.6 373.6 L598.2 373.8 L599.8 373.9 L601.4 374 L603 374.2 L604.6 374.3 L606.2 374.4 L607.8 374.6 L609.4 374.7 L611 374.8 L612.6 374.9 L614.2 375 L615.8 375 L617.4 375.1 L619 375.2 L620.6 375.3 L622.2 375.3 L623.8 375.4 L625.4 375.5 L627 375.6 L628.6 375.6 L630.2 375.8 L631.8 376.1 L633.4 376.4 L635 376.7 L636.6 377 L638.2 377.3 L639.8 377.7 L641.4 378 L643 378.3 L644.6 378.6 L646.2 378.9 L647.8 379.2 L649.4 379.5 L651 379.8 L652.6 380 L654.2 380.3 L655.8 380.5 L657.4 380.8 L659 381.1 L660.6 381.6 L662.2 382.1 L663.8 382.5 L665.4 383 L667 383.5 L668.6 383.9 L670.2 384.1 L671.8 384.3 L673.4 384.5 L675 384.7 L676.6 384.8 L678.2 385 L679.8 385.2 L681.4 385.4 L683 385.6 L684.6 385.8 L686.2 385.9 L687.8 386.1 L689.4 386.2 L691 386.3 L692.6 386.4 L694.2 386.5 L695.8 386.6 L697.4 386.7 L699 386.8 L700.6 386.8 L702.2 386.9 L703.8 387 L705.4 387.1 L707 387.3 L708.6 387.7 L710.2 388.1 L711.8 388.5 L713.4 388.9 L715 389.3 L716.6 389.8 L718.2 390.2 L719.8 390.6 L721.4 391 L723 391.4 L724.6 391.8 L726.2 392.2 L727.8 392.6 L729.4 393 L731 393.4 L732.6 393.8 L734.2 394.2 L735.8 394.5 L737.4 394.9 L739 395.3 L740.6 395.7 L742.2 396.1 L743.8 396.4 L745.4 396.8 L747 397.2 L748.6 397.7 L750.2 398.1 L751.8 398.5 L753.4 398.9 L755 399.3 L756.6 399.7 L758.2 400.2 L759.8 400.6 L761.4 401 L763 401.4 L764.6 401.8 L766.2 402.1 L767.8 402.4 L769.4 402.6 L771 402.9 L772.6 403.2 L774.2 403.5 L775.8 403.7 L777.4 404 L779 404.3 L780.6 404.6 L782.2 404.8 L783.8 405.1 L785.4 405.7 L787 406.3 L788.6 406.8 L790.2 407.4 L791.8 408 L793.4 408.5 L795 409.1 L796.6 409.6 L798.2 410.2 L799.8 410.8 L801.4 411.3 L803 411.9 L804.6 412.4 L806.2 412.9 L807.8 413.5 L809.4 414 L811 414.5 L812.6 415 L814.2 415.6 L815.8 416.1 L817.4 416.6 L819 417.1 L820.6 417.6 L822.2 418.1 L823.8 418.5 L825.4 418.8 L827 419.2 L828.6 419.5 L830.2 419.9 L831.8 420.3 L833.4 420.6 L835 421 L836.6 421.3 L838.2 421.7 L839.8 422 L841.3 422.4" fill="none" stroke="#000" stroke-width="2.2" stroke-linejoin="round" clip-path="url(#cP)"/>
<path d="M348.6 486.1 L350.2 486 L351.8 485.8 L353.4 485.6 L355 485.5 L356.6 485.4 L358.2 485.4 L359.8 485.6 L361.4 486.1 L363 486.9 L364.6 488 L366.2 488.9 L367.8 489.6 L369.4 489.8 L371 489.8 L372.6 489.7 L374.2 489.5 L375.8 489.2 L377.4 488.9 L379 488.6 L380.6 488.3 L382.2 488.1 L383.8 487.9 L385.4 487.6 L387 487.3 L388.6 487 L390.2 486.6 L391.8 486.1 L393.4 485.5 L395 485 L396.6 484.4 L398.2 483.9 L399.8 483.5 L401.4 483.1 L403 482.9 L404.6 482.8 L406.2 482.9 L407.8 483 L409.4 483.2 L411 483.4 L412.6 483.7 L414.2 484 L415.8 484.2 L417.4 484.5 L419 484.7 L420.6 484.9 L422.2 485.2 L423.8 485.4 L425.4 485.7 L427 485.9 L428.6 486 L430.2 486.1 L431.8 486.1 L433.4 485.9 L435 485.6 L436.6 485.2 L438.2 484.8 L439.8 484.4 L441.4 484 L443 483.7 L444.6 483.5 L446.2 483.4 L447.8 483.3 L449.4 483.2 L451 483.1 L452.6 483.1 L454.2 483.1 L455.8 483.1 L457.4 483.1 L459 483.2 L460.6 483.4 L462.2 483.6 L463.8 483.9 L465.4 484.1 L467 484.4 L468.6 484.7 L470.2 485 L471.8 485.3 L473.4 485.6 L475 485.8 L476.6 486.1 L478.2 486.2 L479.8 486.4 L481.4 486.6 L483 486.7 L484.6 486.8 L486.2 486.9 L487.8 486.9 L489.4 486.9 L491 486.9 L492.6 486.7 L494.2 486.5 L495.8 486.2 L497.4 485.9 L499 485.6 L500.6 485.3 L502.2 485.1 L503.8 485 L505.4 485 L507 485.1 L508.6 485.3 L510.2 485.5 L511.8 485.8 L513.4 486.1 L515 486.4 L516.6 486.7 L518.2 486.9 L519.8 487.2 L521.4 487.5 L523 487.8 L524.6 488.2 L526.2 488.5 L527.8 488.8 L529.4 489.1 L531 489.4 L532.6 489.5 L534.2 489.7 L535.8 489.7 L537.4 489.6 L539 489.5 L540.6 489.2 L542.2 489 L543.8 488.7 L545.4 488.5 L547 488.3 L548.6 488.3 L550.2 488.4 L551.8 488.5 L553.4 488.7 L555 489 L556.6 489.2 L558.2 489.5 L559.8 489.8 L561.4 490.2 L563 490.7 L564.6 491 L566.2 491 L567.8 491 L569.4 491 L571 490.9 L572.6 490.8 L574.2 490.7 L575.8 490.6 L577.4 490.6 L579 490.5 L580.6 490.4 L582.2 490.3 L583.8 490.2 L585.4 490 L587 489.9 L588.6 489.8 L590.2 489.7 L591.8 489.7 L593.4 489.7 L595 489.7 L596.6 489.8 L598.2 489.9 L599.8 490.1 L601.4 490.3 L603 490.6 L604.6 490.8 L606.2 491 L607.8 491.3 L609.4 491.5 L611 491.6 L612.6 491.8 L614.2 491.9 L615.8 492.1 L617.4 492.2 L619 492.4 L620.6 492.5 L622.2 492.7 L623.8 492.8 L625.4 492.9 L627 492.9 L628.6 493 L630.2 493 L631.8 493 L633.4 492.9 L635 492.8 L636.6 492.7 L638.2 492.6 L639.8 492.4 L641.4 492.3 L643 492.2 L644.6 492.1 L646.2 492 L647.8 491.9 L649.4 491.9 L651 491.9 L652.6 492 L654.2 492.1 L655.8 492.2 L657.4 492.3 L659 492.4 L660.6 492.6 L662.2 492.7 L663.8 492.8 L665.4 492.9 L667 493 L668.6 493 L670.2 493 L671.8 493 L673.4 493 L675 492.9 L676.6 492.9 L678.2 492.8 L679.8 492.7 L681.4 492.6 L683 492.6 L684.6 492.5 L686.2 492.4 L687.8 492.4 L689.4 492.3 L691 492.3 L692.6 492.2 L694.2 492.1 L695.8 492 L697.4 491.9 L699 491.8 L700.6 491.8 L702.2 491.8 L703.8 491.8 L705.4 491.8 L707 491.9 L708.6 492.1 L710.2 492.5 L711.8 492.9 L713.4 493.4 L715 493.8 L716.6 494.2 L718.2 494.5 L719.8 494.7 L721.4 494.9 L723 495.1 L724.6 495.2 L726.2 495.3 L727.8 495.3 L729.4 495.3 L731 495.3 L732.6 495.2 L734.2 495 L735.8 494.8 L737.4 494.4 L739 494.1 L740.6 493.7 L742.2 493.4 L743.8 493.2 L745.4 493 L747 492.9 L748.6 492.8 L750.2 492.7 L751.8 492.7 L753.4 492.7 L755 492.7 L756.6 492.7 L758.2 492.7 L759.8 492.8 L761.4 492.8 L763 492.9 L764.6 493 L766.2 493.2 L767.8 493.5 L769.4 493.9 L771 494.3 L772.6 494.7 L774.2 495 L775.8 495.2 L777.4 495.2 L779 495.1 L780.6 495 L782.2 494.7 L783.8 494.5 L785.4 494.3 L787 494.1 L788.6 494 L790.2 493.9 L791.8 493.8 L793.4 493.7 L795 493.6 L796.6 493.6 L798.2 493.5 L799.8 493.6 L801.4 493.6 L803 493.8 L804.6 494.1 L806.2 494.5 L807.8 495.1 L809.4 495.6 L811 496.2 L812.6 496.8 L814.2 497.3 L815.8 497.6 L817.4 497.9 L819 498.2 L820.6 498.4 L822.2 498.6 L823.8 498.8 L825.4 499 L827 499.1 L828.6 499.3 L830.2 499.5 L831.8 499.6 L833.4 499.8 L835 499.9 L836.6 499.9 L838.2 499.8 L839.8 499.6 L841.3 499.3" fill="none" stroke="#0a0a96" stroke-width="2.4" stroke-linejoin="round" clip-path="url(#cW)"/>
<g stroke="#ff0000" stroke-width="1" shape-rendering="crispEdges" clip-path="url(#cW)"><line x1="348" y1="459.5" x2="355" y2="459.5"/><line x1="355" y1="457.5" x2="361" y2="457.5"/><line x1="361" y1="457.5" x2="368" y2="457.5"/><line x1="368" y1="464.5" x2="374" y2="464.5"/><line x1="374" y1="463.5" x2="380" y2="463.5"/><line x1="380" y1="460.5" x2="387" y2="460.5"/><line x1="387" y1="457.5" x2="393" y2="457.5"/><line x1="393" y1="454.5" x2="400" y2="454.5"/><line x1="400" y1="452.5" x2="406" y2="452.5"/><line x1="406" y1="452.5" x2="412" y2="452.5"/><line x1="412" y1="457.5" x2="419" y2="457.5"/><line x1="419" y1="457.5" x2="425" y2="457.5"/><line x1="425" y1="458.5" x2="431" y2="458.5"/><line x1="431" y1="457.5" x2="438" y2="457.5"/><line x1="438" y1="454.5" x2="444" y2="454.5"/><line x1="444" y1="454.5" x2="451" y2="454.5"/><line x1="451" y1="455.5" x2="457" y2="455.5"/><line x1="457" y1="455.5" x2="463" y2="455.5"/><line x1="463" y1="457.5" x2="470" y2="457.5"/><line x1="470" y1="461.5" x2="476" y2="461.5"/><line x1="476" y1="462.5" x2="483" y2="462.5"/><line x1="483" y1="463.5" x2="489" y2="463.5"/><line x1="489" y1="463.5" x2="495" y2="463.5"/><line x1="495" y1="461.5" x2="502" y2="461.5"/><line x1="502" y1="459.5" x2="508" y2="459.5"/><line x1="508" y1="459.5" x2="515" y2="459.5"/><line x1="515" y1="464.5" x2="521" y2="464.5"/><line x1="521" y1="466.5" x2="527" y2="466.5"/><line x1="527" y1="468.5" x2="534" y2="468.5"/><line x1="534" y1="466.5" x2="540" y2="466.5"/><line x1="540" y1="465.5" x2="546" y2="465.5"/><line x1="546" y1="465.5" x2="553" y2="465.5"/><line x1="553" y1="466.5" x2="559" y2="466.5"/><line x1="559" y1="469.5" x2="566" y2="469.5"/><line x1="566" y1="472.5" x2="572" y2="472.5"/><line x1="572" y1="471.5" x2="578" y2="471.5"/><line x1="578" y1="471.5" x2="585" y2="471.5"/><line x1="585" y1="470.5" x2="591" y2="470.5"/><line x1="591" y1="469.5" x2="598" y2="469.5"/><line x1="598" y1="470.5" x2="604" y2="470.5"/><line x1="604" y1="471.5" x2="610" y2="471.5"/><line x1="610" y1="473.5" x2="617" y2="473.5"/><line x1="617" y1="474.5" x2="623" y2="474.5"/><line x1="623" y1="476.5" x2="630" y2="476.5"/><line x1="630" y1="476.5" x2="636" y2="476.5"/><line x1="636" y1="476.5" x2="642" y2="476.5"/><line x1="642" y1="474.5" x2="649" y2="474.5"/><line x1="649" y1="474.5" x2="655" y2="474.5"/><line x1="655" y1="474.5" x2="662" y2="474.5"/><line x1="662" y1="474.5" x2="668" y2="474.5"/><line x1="668" y1="475.5" x2="674" y2="475.5"/><line x1="674" y1="474.5" x2="681" y2="474.5"/><line x1="681" y1="473.5" x2="687" y2="473.5"/><line x1="687" y1="473.5" x2="693" y2="473.5"/><line x1="693" y1="472.5" x2="700" y2="472.5"/><line x1="700" y1="472.5" x2="706" y2="472.5"/><line x1="706" y1="472.5" x2="713" y2="472.5"/><line x1="713" y1="474.5" x2="719" y2="474.5"/><line x1="719" y1="478.5" x2="725" y2="478.5"/><line x1="725" y1="480.5" x2="732" y2="480.5"/><line x1="732" y1="480.5" x2="738" y2="480.5"/><line x1="738" y1="478.5" x2="745" y2="478.5"/><line x1="745" y1="475.5" x2="751" y2="475.5"/><line x1="751" y1="475.5" x2="757" y2="475.5"/><line x1="757" y1="475.5" x2="764" y2="475.5"/><line x1="764" y1="476.5" x2="770" y2="476.5"/><line x1="770" y1="478.5" x2="777" y2="478.5"/><line x1="777" y1="475.5" x2="783" y2="475.5"/><line x1="783" y1="475.5" x2="789" y2="475.5"/><line x1="789" y1="476.5" x2="796" y2="476.5"/><line x1="796" y1="476.5" x2="802" y2="476.5"/><line x1="802" y1="477.5" x2="808" y2="477.5"/><line x1="808" y1="480.5" x2="815" y2="480.5"/><line x1="815" y1="480.5" x2="821" y2="480.5"/><line x1="821" y1="487.5" x2="828" y2="487.5"/><line x1="828" y1="488.5" x2="834" y2="488.5"/><line x1="834" y1="486.5" x2="840" y2="486.5"/></g>
<g stroke="#00009c" stroke-width="1.2" fill="#00009c"><line x1="351.7" y1="542.1" x2="347.8" y2="535.1"/><polygon stroke="none" points="345.3,530.5 349.8,534 345.8,536.2"/><line x1="358.7" y1="542.1" x2="354.8" y2="535.1"/><polygon stroke="none" points="352.3,530.5 356.8,534 352.8,536.2"/><line x1="364.7" y1="542.1" x2="360.8" y2="535.1"/><polygon stroke="none" points="358.3,530.5 362.8,534 358.8,536.2"/><line x1="371.6" y1="542.1" x2="367.8" y2="535.1"/><polygon stroke="none" points="365.4,530.5 369.9,534 365.8,536.2"/><line x1="377.6" y1="542.1" x2="373.8" y2="535.1"/><polygon stroke="none" points="371.4,530.5 375.9,534 371.8,536.2"/><line x1="383.6" y1="542.1" x2="379.8" y2="535.1"/><polygon stroke="none" points="377.4,530.5 381.9,534 377.8,536.1"/><line x1="390.6" y1="542.1" x2="386.8" y2="535.1"/><polygon stroke="none" points="384.4,530.5 388.9,534 384.8,536.1"/><line x1="396.6" y1="542.1" x2="392.9" y2="535.1"/><polygon stroke="none" points="390.4,530.5 394.9,534 390.8,536.1"/><line x1="403.5" y1="542.2" x2="399.9" y2="535.1"/><polygon stroke="none" points="397.5,530.4 401.9,534 397.8,536.1"/><line x1="409.5" y1="542.2" x2="405.9" y2="535.1"/><polygon stroke="none" points="403.5,530.4 407.9,534 403.8,536.1"/><line x1="415.5" y1="542.2" x2="411.9" y2="535.1"/><polygon stroke="none" points="409.5,530.4 413.9,534 409.8,536.1"/><line x1="422.5" y1="542.2" x2="418.9" y2="535.1"/><polygon stroke="none" points="416.5,530.4 420.9,534 416.8,536.1"/><line x1="428.5" y1="542.2" x2="424.9" y2="535"/><polygon stroke="none" points="422.5,530.4 426.9,534 422.8,536.1"/><line x1="434.4" y1="542.2" x2="430.9" y2="535"/><polygon stroke="none" points="428.6,530.4 432.9,534 428.8,536.1"/><line x1="441.4" y1="542.2" x2="437.9" y2="535"/><polygon stroke="none" points="435.6,530.4 439.9,534 435.8,536.1"/><line x1="447.4" y1="542.2" x2="443.9" y2="535"/><polygon stroke="none" points="441.6,530.4 446,534 441.8,536"/><line x1="454.4" y1="542.2" x2="450.9" y2="535"/><polygon stroke="none" points="448.6,530.4 453,534 448.8,536"/><line x1="460.4" y1="542.3" x2="456.9" y2="535"/><polygon stroke="none" points="454.6,530.3 459,534 454.8,536"/><line x1="466.3" y1="542.3" x2="462.9" y2="535"/><polygon stroke="none" points="460.7,530.3 465,534 460.8,536"/><line x1="473.3" y1="542.3" x2="469.9" y2="535"/><polygon stroke="none" points="467.7,530.3 472,534.1 467.8,536"/><line x1="479.3" y1="542.3" x2="475.9" y2="535"/><polygon stroke="none" points="473.7,530.3 478,534.1 473.8,536"/><line x1="486.3" y1="542.3" x2="482.9" y2="535"/><polygon stroke="none" points="480.7,530.3 485,534.1 480.8,536"/><line x1="492.2" y1="542.3" x2="488.9" y2="535"/><polygon stroke="none" points="486.8,530.3 491,534.1 486.8,536"/><line x1="498.2" y1="542.3" x2="494.9" y2="535"/><polygon stroke="none" points="492.8,530.3 497,534.1 492.8,536"/><line x1="505.2" y1="542.3" x2="501.9" y2="535"/><polygon stroke="none" points="499.8,530.3 504,534.1 499.8,535.9"/><line x1="511.1" y1="542.4" x2="507.9" y2="535"/><polygon stroke="none" points="505.9,530.2 510.1,534.1 505.8,535.9"/><line x1="518.1" y1="542.4" x2="514.9" y2="535"/><polygon stroke="none" points="512.9,530.2 517.1,534.1 512.8,535.9"/><line x1="524.1" y1="542.4" x2="521" y2="535"/><polygon stroke="none" points="518.9,530.2 523.1,534.1 518.8,535.9"/><line x1="530" y1="542.4" x2="527" y2="535"/><polygon stroke="none" points="525,530.2 529.1,534.1 524.8,535.9"/><line x1="537" y1="542.4" x2="534" y2="535"/><polygon stroke="none" points="532,530.2 536.1,534.1 531.8,535.9"/><line x1="543" y1="542.4" x2="540" y2="535"/><polygon stroke="none" points="538,530.2 542.1,534.1 537.8,535.9"/><line x1="549" y1="542.4" x2="546" y2="535"/><polygon stroke="none" points="544,530.2 548.1,534.1 543.8,535.9"/><line x1="556" y1="542.4" x2="553" y2="535"/><polygon stroke="none" points="551,530.2 555.1,534.1 550.8,535.9"/><line x1="562" y1="542.4" x2="559" y2="535"/><polygon stroke="none" points="557,530.2 561.1,534.1 556.8,535.9"/><line x1="569" y1="542.4" x2="566" y2="535"/><polygon stroke="none" points="564,530.2 568.1,534.1 563.8,535.9"/><line x1="575" y1="542.4" x2="572" y2="535"/><polygon stroke="none" points="570,530.2 574.1,534.1 569.8,535.9"/><line x1="581" y1="542.4" x2="578" y2="535"/><polygon stroke="none" points="576,530.2 580.1,534.1 575.8,535.9"/><line x1="588" y1="542.4" x2="585" y2="535"/><polygon stroke="none" points="583,530.2 587.1,534.1 582.8,535.9"/><line x1="594" y1="542.4" x2="591" y2="535"/><polygon stroke="none" points="589,530.2 593.1,534.1 588.8,535.9"/><line x1="601" y1="542.4" x2="598" y2="535"/><polygon stroke="none" points="596,530.2 600.1,534.1 595.8,535.9"/><line x1="607" y1="542.4" x2="604" y2="535"/><polygon stroke="none" points="602,530.2 606.1,534.1 601.8,535.9"/><line x1="613" y1="542.4" x2="610" y2="535"/><polygon stroke="none" points="608,530.2 612.1,534.1 607.8,535.9"/><line x1="620" y1="542.4" x2="617" y2="535"/><polygon stroke="none" points="615,530.2 619.1,534.1 614.8,535.9"/><line x1="626" y1="542.4" x2="623" y2="535"/><polygon stroke="none" points="621,530.2 625.1,534.1 620.8,535.9"/><line x1="633" y1="542.4" x2="630" y2="535"/><polygon stroke="none" points="628,530.2 632.1,534.1 627.8,535.9"/><line x1="639" y1="542.4" x2="636" y2="535"/><polygon stroke="none" points="634,530.2 638.1,534.1 633.8,535.9"/><line x1="645" y1="542.4" x2="642" y2="535"/><polygon stroke="none" points="640,530.2 644.1,534.1 639.8,535.9"/><line x1="652" y1="542.4" x2="649" y2="535"/><polygon stroke="none" points="647,530.2 651.1,534.1 646.8,535.9"/><line x1="658" y1="542.4" x2="655" y2="535"/><polygon stroke="none" points="653,530.2 657.1,534.1 652.8,535.9"/><line x1="665" y1="542.4" x2="662" y2="535"/><polygon stroke="none" points="660,530.2 664.1,534.1 659.8,535.9"/><line x1="671" y1="542.4" x2="668" y2="535"/><polygon stroke="none" points="666,530.2 670.1,534.1 665.8,535.9"/><line x1="677" y1="542.4" x2="674" y2="535"/><polygon stroke="none" points="672,530.2 676.1,534.1 671.8,535.9"/><line x1="683.9" y1="542.4" x2="681" y2="535"/><polygon stroke="none" points="679.1,530.2 683.1,534.2 678.8,535.8"/><line x1="689.9" y1="542.4" x2="687" y2="535"/><polygon stroke="none" points="685.1,530.2 689.1,534.2 684.8,535.8"/><line x1="695.9" y1="542.5" x2="693" y2="535"/><polygon stroke="none" points="691.1,530.1 695.1,534.2 690.8,535.8"/><line x1="702.9" y1="542.5" x2="700" y2="535"/><polygon stroke="none" points="698.1,530.1 702.1,534.2 697.9,535.8"/><line x1="708.8" y1="542.5" x2="706" y2="535"/><polygon stroke="none" points="704.2,530.1 708.2,534.2 703.9,535.8"/><line x1="715.8" y1="542.5" x2="713" y2="535"/><polygon stroke="none" points="711.2,530.1 715.2,534.2 710.9,535.8"/><line x1="721.8" y1="542.5" x2="719" y2="535"/><polygon stroke="none" points="717.2,530.1 721.2,534.2 716.9,535.8"/><line x1="727.8" y1="542.5" x2="725" y2="535"/><polygon stroke="none" points="723.2,530.1 727.2,534.2 722.9,535.8"/><line x1="734.8" y1="542.5" x2="732" y2="535"/><polygon stroke="none" points="730.2,530.1 734.2,534.2 729.9,535.8"/><line x1="740.6" y1="542.5" x2="738" y2="535"/><polygon stroke="none" points="736.4,530.1 740.2,534.2 735.9,535.7"/><line x1="747.5" y1="542.6" x2="745.1" y2="535"/><polygon stroke="none" points="743.5,530 747.3,534.3 742.9,535.7"/><line x1="753.3" y1="542.6" x2="751.1" y2="535"/><polygon stroke="none" points="749.7,530 753.3,534.3 748.9,535.6"/><line x1="759.2" y1="542.7" x2="757.1" y2="534.9"/><polygon stroke="none" points="755.8,529.9 759.4,534.4 754.9,535.5"/><line x1="766" y1="542.7" x2="764.2" y2="534.9"/><polygon stroke="none" points="763,529.9 766.4,534.4 761.9,535.5"/><line x1="771.8" y1="542.8" x2="770.2" y2="534.9"/><polygon stroke="none" points="769.2,529.8 772.5,534.5 768,535.4"/><line x1="778.6" y1="542.8" x2="777.3" y2="534.9"/><polygon stroke="none" points="776.4,529.8 779.5,534.5 775,535.3"/><line x1="784.3" y1="542.9" x2="783.3" y2="534.9"/><polygon stroke="none" points="782.7,529.7 785.6,534.6 781,535.2"/><line x1="790" y1="542.9" x2="789.4" y2="534.9"/><polygon stroke="none" points="789,529.7 791.7,534.7 787.1,535.1"/><line x1="796.6" y1="542.9" x2="796.5" y2="534.9"/><polygon stroke="none" points="796.4,529.7 798.8,534.9 794.2,534.9"/><line x1="802.7" y1="542.9" x2="802.5" y2="534.9"/><polygon stroke="none" points="802.3,529.7 804.8,534.8 800.2,535"/><line x1="808.7" y1="542.9" x2="808.5" y2="534.9"/><polygon stroke="none" points="808.3,529.7 810.8,534.8 806.2,535"/><line x1="815.7" y1="542.9" x2="815.5" y2="534.9"/><polygon stroke="none" points="815.3,529.7 817.7,534.8 813.2,535"/><line x1="822.6" y1="542.8" x2="821.3" y2="534.9"/><polygon stroke="none" points="820.4,529.8 823.5,534.5 819,535.3"/><line x1="830.2" y1="542.7" x2="828.1" y2="534.9"/><polygon stroke="none" points="826.8,529.9 830.4,534.4 825.9,535.5"/><line x1="836.3" y1="542.7" x2="834.1" y2="535"/><polygon stroke="none" points="832.7,529.9 836.3,534.3 831.9,535.6"/><line x1="842.3" y1="542.6" x2="840.1" y2="535"/><polygon stroke="none" points="838.7,530 842.3,534.3 837.9,535.6"/></g>
<g clip-path="url(#cC)">
<circle cx="348.5" cy="568" r="2.8" fill="#a0a0a0"/>
<circle cx="355.5" cy="568" r="2.8" fill="#a0a0a0"/>
<circle cx="361.5" cy="568" r="2.8" fill="#a0a0a0"/>
<circle cx="368.5" cy="568" r="2.8" fill="#a0a0a0"/>
<circle cx="374.5" cy="568" r="2.8" fill="#a0a0a0"/>
<circle cx="380.5" cy="568" r="2.8" fill="#a0a0a0"/>
<circle cx="387.5" cy="567.6" r="2.8" fill="#606060"/>
<circle cx="393.5" cy="567.6" r="2.8" fill="#606060"/>
<circle cx="400.5" cy="568" r="2.8" fill="#a0a0a0"/>
<circle cx="406.5" cy="568" r="2.8" fill="#a0a0a0"/>
<circle cx="425.5" cy="569" r="2.8" fill="#d2d2d2"/>
<circle cx="431.5" cy="569" r="2.8" fill="#d2d2d2"/>
<circle cx="438.5" cy="569" r="2.8" fill="#d2d2d2"/>
<circle cx="444.5" cy="569" r="2.8" fill="#d2d2d2"/>
<circle cx="451.5" cy="569" r="2.8" fill="#d2d2d2"/>
<circle cx="457.5" cy="569" r="2.8" fill="#d2d2d2"/>
<circle cx="463.5" cy="569" r="2.8" fill="#d2d2d2"/>
<circle cx="470.5" cy="566.5" r="2.8" fill="#a8a8a8"/>
<circle cx="476.5" cy="568" r="2.8" fill="#a8a8a8"/>
<circle cx="483.5" cy="567" r="2.8" fill="#a8a8a8"/>
<circle cx="470.5" cy="570.5" r="2.8" fill="#d0d0d0"/>
<circle cx="476.5" cy="570.5" r="2.8" fill="#d0d0d0"/>
<circle cx="483.5" cy="570.5" r="2.8" fill="#d0d0d0"/>
<circle cx="489.5" cy="570.5" r="2.8" fill="#d0d0d0"/>
<circle cx="495.5" cy="570.5" r="2.8" fill="#d0d0d0"/>
<circle cx="502.5" cy="568" r="2.8" fill="#a8a8a8"/>
<circle cx="508.5" cy="567.5" r="2.8" fill="#a0a0a0"/>
<circle cx="515.5" cy="569" r="2.8" fill="#a8a8a8"/>
<circle cx="489.5" cy="572.5" r="2.8" fill="#d4d4d4"/>
<circle cx="495.5" cy="572.5" r="2.8" fill="#d4d4d4"/>
<circle cx="502.5" cy="572.5" r="2.8" fill="#d4d4d4"/>
<circle cx="508.5" cy="572.5" r="2.8" fill="#d4d4d4"/>
<circle cx="515.5" cy="572.5" r="2.8" fill="#d4d4d4"/>
<circle cx="527.5" cy="567.6" r="2.8" fill="#a0a0a0"/>
<circle cx="534.5" cy="569.8" r="2.8" fill="#a0a0a0"/>
<circle cx="540.5" cy="574.5" r="2.8" fill="#d0d0d0"/>
<circle cx="546.5" cy="574.5" r="2.8" fill="#d0d0d0"/>
<circle cx="553.5" cy="574.5" r="2.8" fill="#d0d0d0"/>
<circle cx="559.5" cy="574.5" r="2.8" fill="#d0d0d0"/>
<circle cx="566.5" cy="574.5" r="2.8" fill="#d0d0d0"/>
<circle cx="572.5" cy="574.5" r="2.8" fill="#d0d0d0"/>
<circle cx="578.5" cy="574.5" r="2.8" fill="#d0d0d0"/>
<circle cx="585.5" cy="574.5" r="2.8" fill="#d0d0d0"/>
<circle cx="591.5" cy="574.5" r="2.8" fill="#d0d0d0"/>
<circle cx="540.5" cy="571.1" r="2.8" fill="#a8a8a8"/>
<circle cx="546.5" cy="571.1" r="2.8" fill="#a8a8a8"/>
<circle cx="553.5" cy="571.1" r="2.8" fill="#a8a8a8"/>
<circle cx="559.5" cy="571.1" r="2.8" fill="#a8a8a8"/>
<circle cx="566.5" cy="571.1" r="2.8" fill="#a8a8a8"/>
<circle cx="572.5" cy="571.1" r="2.8" fill="#a8a8a8"/>
<circle cx="578.5" cy="571.1" r="2.8" fill="#a8a8a8"/>
<circle cx="585.5" cy="571.1" r="2.8" fill="#a8a8a8"/>
<circle cx="591.5" cy="571.1" r="2.8" fill="#a8a8a8"/>
<circle cx="598.5" cy="571.7" r="2.8" fill="#d0d0d0"/>
<circle cx="604.5" cy="571.7" r="2.8" fill="#d0d0d0"/>
<circle cx="610.5" cy="571.7" r="2.8" fill="#d0d0d0"/>
<circle cx="598.5" cy="567" r="2.8" fill="#a4a4a4"/>
<circle cx="604.5" cy="567" r="2.8" fill="#a4a4a4"/>
<circle cx="610.5" cy="567" r="2.8" fill="#a4a4a4"/>
<circle cx="617.5" cy="573" r="2.8" fill="#cfcfcf"/>
<circle cx="623.5" cy="573" r="2.8" fill="#cfcfcf"/>
<circle cx="630.5" cy="573" r="2.8" fill="#cfcfcf"/>
<circle cx="636.5" cy="573" r="2.8" fill="#cfcfcf"/>
<circle cx="642.5" cy="573" r="2.8" fill="#cfcfcf"/>
<circle cx="649.5" cy="573" r="2.8" fill="#cfcfcf"/>
<circle cx="655.5" cy="573" r="2.8" fill="#cfcfcf"/>
<circle cx="662.5" cy="573" r="2.8" fill="#cfcfcf"/>
<circle cx="668.5" cy="573" r="2.8" fill="#cfcfcf"/>
<circle cx="617.5" cy="569.8" r="2.8" fill="#a4a4a4"/>
<circle cx="623.5" cy="569.8" r="2.8" fill="#a4a4a4"/>
<circle cx="630.5" cy="569.8" r="2.8" fill="#a4a4a4"/>
<circle cx="636.5" cy="569.8" r="2.8" fill="#a4a4a4"/>
<circle cx="642.5" cy="569.8" r="2.8" fill="#a4a4a4"/>
<circle cx="649.5" cy="569.8" r="2.8" fill="#a4a4a4"/>
<circle cx="655.5" cy="569.8" r="2.8" fill="#a4a4a4"/>
<circle cx="662.5" cy="569.8" r="2.8" fill="#a4a4a4"/>
<circle cx="668.5" cy="569.8" r="2.8" fill="#a4a4a4"/>
<circle cx="674.5" cy="567.6" r="2.8" fill="#a0a0a0"/>
<circle cx="681.5" cy="567.6" r="2.8" fill="#a0a0a0"/>
<circle cx="687.5" cy="567.6" r="2.8" fill="#a8a8a8"/>
<circle cx="693.5" cy="567.8" r="2.8" fill="#c0c0c0"/>
<circle cx="700.5" cy="567.8" r="2.8" fill="#bcbcbc"/>
<circle cx="706.5" cy="568.3" r="2.8" fill="#dadada"/>
<circle cx="713.5" cy="568.3" r="2.8" fill="#dadada"/>
<circle cx="719.5" cy="568.3" r="2.8" fill="#dadada"/>
<g fill="#ffffff"><circle cx="348.5" cy="574.5" r="2.7"/><circle cx="355.5" cy="574.5" r="2.7"/><circle cx="361.5" cy="574.8" r="2.7"/><circle cx="368.5" cy="575" r="2.7"/><circle cx="393.5" cy="577.3" r="2.7"/><circle cx="400.5" cy="579" r="2.7"/><circle cx="406.5" cy="579.8" r="2.7"/><circle cx="412.5" cy="579.8" r="2.7"/><circle cx="419.5" cy="579.8" r="2.7"/><circle cx="425.5" cy="579.8" r="2.7"/><circle cx="431.5" cy="579.8" r="2.7"/><circle cx="438.5" cy="579.8" r="2.7"/><circle cx="444.5" cy="579.8" r="2.7"/><circle cx="451.5" cy="579.8" r="2.7"/><circle cx="457.5" cy="579.8" r="2.7"/><circle cx="463.5" cy="579.8" r="2.7"/><circle cx="470.5" cy="579.8" r="2.7"/><circle cx="476.5" cy="579.8" r="2.7"/><circle cx="483.5" cy="579.8" r="2.7"/><circle cx="489.5" cy="579.8" r="2.7"/><circle cx="495.5" cy="579.8" r="2.7"/><circle cx="502.5" cy="579.8" r="2.7"/><circle cx="508.5" cy="579.8" r="2.7"/><circle cx="515.5" cy="580.1" r="2.7"/><circle cx="521.5" cy="580.1" r="2.7"/><circle cx="527.5" cy="580.1" r="2.7"/><circle cx="534.5" cy="580.1" r="2.7"/><circle cx="540.5" cy="579.2" r="2.7"/><circle cx="546.5" cy="579.2" r="2.7"/><circle cx="553.5" cy="578.3" r="2.7"/><circle cx="559.5" cy="578.3" r="2.7"/><circle cx="566.5" cy="578.3" r="2.7"/><circle cx="578.5" cy="579.2" r="2.7"/><circle cx="585.5" cy="579.2" r="2.7"/><circle cx="598.5" cy="579.2" r="2.7"/><circle cx="604.5" cy="579.2" r="2.7"/><circle cx="610.5" cy="577.3" r="2.7"/><circle cx="617.5" cy="577.3" r="2.7"/><circle cx="623.5" cy="577.3" r="2.7"/><circle cx="630.5" cy="577.3" r="2.7"/><circle cx="636.5" cy="577.3" r="2.7"/><circle cx="642.5" cy="577.3" r="2.7"/><circle cx="649.5" cy="577.3" r="2.7"/><circle cx="655.5" cy="577.3" r="2.7"/><circle cx="662.5" cy="628.7" r="2.7"/><circle cx="668.5" cy="628.7" r="2.7"/><circle cx="674.5" cy="628.7" r="2.7"/><circle cx="681.5" cy="628.7" r="2.7"/><circle cx="687.5" cy="628.7" r="2.7"/><circle cx="693.5" cy="628.7" r="2.7"/><circle cx="700.5" cy="628.7" r="2.7"/><circle cx="706.5" cy="570.2" r="2.7"/><circle cx="725.5" cy="568" r="2.7"/><circle cx="732.5" cy="568" r="2.7"/><circle cx="738.5" cy="568" r="2.7"/><circle cx="745.5" cy="568" r="2.7"/><circle cx="751.5" cy="568" r="2.7"/><circle cx="757.5" cy="568" r="2.7"/><circle cx="764.5" cy="568" r="2.7"/><circle cx="770.5" cy="566.6" r="2.7"/></g>
<path d="M348.6 571.7 L350.2 571.8 L351.8 572 L353.4 572.1 L355 572.2 L356.6 572.3 L358.2 572.5 L359.8 572.6 L361.4 572.7 L363 572.9 L364.6 573 L366.2 573.1 L367.8 573.3 L369.4 573.4 L371 573.5 L372.6 573.6 L374.2 573.7 L375.8 573.9 L377.4 574 L379 574.1 L380.6 574.2 L382.2 574.3 L383.8 574.4 L385.4 574.4 L387 574.5 L388.6 574.6 L390.2 574.7 L391.8 574.8 L393.4 574.8 L395 574.9 L396.6 575 L398.2 575.1 L399.8 575.1 L401.4 575.2 L403 575.3 L404.6 575.3 L406.2 575.4 L407.8 575.5 L409.4 575.5 L411 575.6 L412.6 575.7 L414.2 575.7 L415.8 575.8 L417.4 575.8 L419 575.9 L420.6 576 L422.2 576 L423.8 576.1 L425.4 576.1 L427 576.2 L428.6 576.2 L430.2 576.3 L431.8 576.3 L433.4 576.4 L435 576.4 L436.6 576.5 L438.2 576.5 L439.8 576.5 L441.4 576.6 L443 576.6 L444.6 576.6 L446.2 576.7 L447.8 576.7 L449.4 576.7 L451 576.7 L452.6 576.8 L454.2 576.8 L455.8 576.8 L457.4 576.8 L459 576.8 L460.6 576.9 L462.2 576.9 L463.8 576.9 L465.4 576.9 L467 576.9 L468.6 576.9 L470.2 576.9 L471.8 576.9 L473.4 576.9 L475 576.9 L476.6 576.9 L478.2 576.9 L479.8 576.8 L481.4 576.8 L483 576.8 L484.6 576.8 L486.2 576.7 L487.8 576.7 L489.4 576.7 L491 576.6 L492.6 576.6 L494.2 576.6 L495.8 576.6 L497.4 576.5 L499 576.5 L500.6 576.5 L502.2 576.5 L503.8 576.4 L505.4 576.4 L507 576.4 L508.6 576.4 L510.2 576.4 L511.8 576.4 L513.4 576.4 L515 576.4 L516.6 576.4 L518.2 576.4 L519.8 576.4 L521.4 576.4 L523 576.4 L524.6 576.4 L526.2 576.4 L527.8 576.5 L529.4 576.5 L531 576.5 L532.6 576.5 L534.2 576.5 L535.8 576.5 L537.4 576.6 L539 576.6 L540.6 576.6 L542.2 576.6 L543.8 576.7 L545.4 576.7 L547 576.7 L548.6 576.8 L550.2 576.8 L551.8 576.9 L553.4 576.9 L555 577 L556.6 577 L558.2 577.1 L559.8 577.2 L561.4 577.3 L563 577.4 L564.6 577.5 L566.2 577.6 L567.8 577.8 L569.4 577.9 L571 578.1 L572.6 578.3 L574.2 578.6 L575.8 578.8 L577.4 579.1 L579 579.4 L580.6 579.7 L582.2 580 L583.8 580.3 L585.4 580.6 L587 581 L588.6 581.3 L590.2 581.6 L591.8 581.9 L593.4 582.2 L595 582.6 L596.6 582.9 L598.2 583.2 L599.8 583.6 L601.4 583.9 L603 584.2 L604.6 584.6 L606.2 584.9 L607.8 585.2 L609.4 585.5 L611 585.7 L612.6 586 L614.2 586.2 L615.8 586.4 L617.4 586.6 L619 586.8 L620.6 587 L622.2 587.1 L623.8 587.3 L625.4 587.5 L627 587.6 L628.6 587.8 L630.2 588 L631.8 588.1 L633.4 588.3 L635 588.5 L636.6 588.7 L638.2 588.9 L639.8 589 L641.4 589.2 L643 589.4 L644.6 589.5 L646.2 589.7 L647.8 589.8 L649.4 589.9 L651 590.1 L652.6 590.2 L654.2 590.3 L655.8 590.3 L657.4 590.4 L659 590.5 L660.6 590.5 L662.2 590.6 L663.8 590.7 L665.4 590.7 L667 590.8 L668.6 590.9 L670.2 591 L671.8 591.1 L673.4 591.3 L675 591.4 L676.6 591.5 L678.2 591.6 L679.8 591.7 L681.4 591.7 L683 591.8 L684.6 591.8 L686.2 591.9 L687.8 591.9 L689.4 591.9 L691 591.9 L692.6 591.9 L694.2 592 L695.8 592 L697.4 592 L699 591.9 L700.6 591.9 L702.2 591.9 L703.8 591.9 L705.4 591.8 L707 591.8 L708.6 591.7 L710.2 591.6 L711.8 591.5 L713.4 591.4 L715 591.3 L716.6 591.2 L718.2 591.1 L719.8 591 L721.4 591 L723 590.9 L724.6 590.9 L726.2 590.9 L727.8 590.9 L729.4 591 L731 591.1 L732.6 591.2 L734.2 591.3 L735.8 591.4 L737.4 591.5 L739 591.6 L740.6 591.7 L742.2 591.9 L743.8 592 L745.4 592.2 L747 592.3 L748.6 592.4 L750.2 592.6 L751.8 592.8 L753.4 592.9 L755 593.1 L756.6 593.3 L758.2 593.5 L759.8 593.6 L761.4 593.8 L763 593.9 L764.6 594.1 L766.2 594.2 L767.8 594.4 L769.4 594.5 L771 594.6 L772.6 594.8 L774.2 594.9 L775.8 595 L777.4 595.1 L779 595.2 L780.6 595.3 L782.2 595.4 L783.8 595.4 L785.4 595.5 L787 595.5 L788.6 595.5 L790.2 595.5 L791.8 595.5 L793.4 595.5 L795 595.5 L796.6 595.4 L798.2 595.4 L799.8 595.4 L801.4 595.4 L803 595.4 L804.6 595.4 L806.2 595.4 L807.8 595.4 L809.4 595.4 L811 595.5 L812.6 595.5 L814.2 595.5 L815.8 595.5 L817.4 595.6 L819 595.6 L820.6 595.6 L822.2 595.6 L823.8 595.7 L825.4 595.7 L827 595.7 L828.6 595.8 L830.2 595.8 L831.8 595.8 L833.4 595.9 L835 595.9 L836.6 595.9 L838.2 595.9 L839.8 596 L841.3 596" fill="none" stroke="#ffa000" stroke-width="2.2" stroke-linejoin="round"/>
<g fill="#b22222"><circle cx="348.5" cy="563.6" r="2.9"/><circle cx="355.5" cy="563.6" r="2.9"/><circle cx="361.5" cy="563.6" r="2.9"/><circle cx="368.5" cy="563.6" r="2.9"/><circle cx="374.5" cy="563.6" r="2.9"/><circle cx="380.5" cy="563.6" r="2.9"/><circle cx="387.5" cy="563.6" r="2.9"/><circle cx="393.5" cy="563.6" r="2.9"/><circle cx="400.5" cy="563.6" r="2.9"/><circle cx="406.5" cy="563.6" r="2.9"/><circle cx="412.5" cy="563.6" r="2.9"/><circle cx="419.5" cy="563.6" r="2.9"/><circle cx="425.5" cy="563.6" r="2.9"/><circle cx="431.5" cy="563.6" r="2.9"/><circle cx="438.5" cy="563.6" r="2.9"/><circle cx="444.5" cy="563.6" r="2.9"/><circle cx="451.5" cy="563.6" r="2.9"/><circle cx="457.5" cy="563.6" r="2.9"/><circle cx="463.5" cy="563.6" r="2.9"/><circle cx="470.5" cy="563.6" r="2.9"/><circle cx="476.5" cy="563.6" r="2.9"/><circle cx="483.5" cy="563.6" r="2.9"/><circle cx="489.5" cy="563.6" r="2.9"/><circle cx="495.5" cy="563.6" r="2.9"/><circle cx="502.5" cy="563.6" r="2.9"/><circle cx="508.5" cy="563.6" r="2.9"/><circle cx="515.5" cy="563.6" r="2.9"/><circle cx="521.5" cy="563.6" r="2.9"/><circle cx="527.5" cy="563.6" r="2.9"/><circle cx="534.5" cy="563.6" r="2.9"/><circle cx="540.5" cy="563.6" r="2.9"/><circle cx="546.5" cy="563.6" r="2.9"/><circle cx="553.5" cy="563.6" r="2.9"/><circle cx="559.5" cy="563.6" r="2.9"/><circle cx="566.5" cy="563.6" r="2.9"/><circle cx="572.5" cy="563.6" r="2.9"/><circle cx="578.5" cy="563.6" r="2.9"/><circle cx="585.5" cy="563.6" r="2.9"/><circle cx="591.5" cy="563.6" r="2.9"/><circle cx="598.5" cy="563.6" r="2.9"/><circle cx="604.5" cy="563.6" r="2.9"/><circle cx="610.5" cy="563.6" r="2.9"/><circle cx="617.5" cy="563.6" r="2.9"/><circle cx="623.5" cy="563.6" r="2.9"/><circle cx="630.5" cy="563.6" r="2.9"/><circle cx="636.5" cy="563.6" r="2.9"/><circle cx="642.5" cy="563.6" r="2.9"/><circle cx="649.5" cy="563.6" r="2.9"/><circle cx="655.5" cy="563.6" r="2.9"/><circle cx="662.5" cy="563.6" r="2.9"/><circle cx="668.5" cy="563.6" r="2.9"/><circle cx="674.5" cy="563.6" r="2.9"/><circle cx="681.5" cy="563.6" r="2.9"/><circle cx="687.5" cy="563.6" r="2.9"/><circle cx="693.5" cy="563.6" r="2.9"/><circle cx="700.5" cy="563.6" r="2.9"/><circle cx="706.5" cy="563.6" r="2.9"/><circle cx="713.5" cy="563.6" r="2.9"/><circle cx="719.5" cy="563.6" r="2.9"/><circle cx="725.5" cy="563.6" r="2.9"/><circle cx="732.5" cy="563.6" r="2.9"/><circle cx="738.5" cy="563.6" r="2.9"/><circle cx="745.5" cy="563.6" r="2.9"/><circle cx="751.5" cy="563.6" r="2.9"/><circle cx="757.5" cy="563.6" r="2.9"/><circle cx="764.5" cy="563.6" r="2.9"/></g>
</g>
<g stroke="#000" stroke-width="1" stroke-dasharray="2 2" shape-rendering="crispEdges"><line x1="361.5" y1="558.1" x2="361.5" y2="636.1"/><line x1="380.5" y1="558.1" x2="380.5" y2="636.1"/><line x1="400.5" y1="558.1" x2="400.5" y2="636.1"/><line x1="419.5" y1="558.1" x2="419.5" y2="636.1"/><line x1="438.5" y1="558.1" x2="438.5" y2="636.1"/><line x1="457.5" y1="558.1" x2="457.5" y2="636.1"/><line x1="476.5" y1="558.1" x2="476.5" y2="636.1"/><line x1="495.5" y1="558.1" x2="495.5" y2="636.1"/><line x1="515.5" y1="558.1" x2="515.5" y2="636.1"/><line x1="534.5" y1="558.1" x2="534.5" y2="636.1"/><line x1="553.5" y1="558.1" x2="553.5" y2="636.1"/><line x1="572.5" y1="558.1" x2="572.5" y2="636.1"/><line x1="591.5" y1="558.1" x2="591.5" y2="636.1"/><line x1="610.5" y1="558.1" x2="610.5" y2="636.1"/><line x1="630.5" y1="558.1" x2="630.5" y2="636.1"/><line x1="649.5" y1="558.1" x2="649.5" y2="636.1"/><line x1="668.5" y1="558.1" x2="668.5" y2="636.1"/><line x1="687.5" y1="558.1" x2="687.5" y2="636.1"/><line x1="706.5" y1="558.1" x2="706.5" y2="636.1"/><line x1="725.5" y1="558.1" x2="725.5" y2="636.1"/><line x1="745.5" y1="558.1" x2="745.5" y2="636.1"/><line x1="764.5" y1="558.1" x2="764.5" y2="636.1"/><line x1="783.5" y1="558.1" x2="783.5" y2="636.1"/><line x1="802.5" y1="558.1" x2="802.5" y2="636.1"/><line x1="821.5" y1="558.1" x2="821.5" y2="636.1"/><line x1="348.6" y1="558.5" x2="841.3" y2="558.5"/><line x1="348.6" y1="577.5" x2="841.3" y2="577.5"/><line x1="348.6" y1="597.5" x2="841.3" y2="597.5"/><line x1="348.6" y1="616.5" x2="841.3" y2="616.5"/></g>
<rect x="348.5" y="177.4" width="493" height="77.8" fill="none" stroke="#000" stroke-width="1.1"/>
<rect x="348.5" y="263.8" width="493" height="77.8" fill="none" stroke="#000" stroke-width="1.1"/>
<rect x="348.5" y="350.3" width="493" height="77.6" fill="none" stroke="#000" stroke-width="1.1"/>
<rect x="348.5" y="437" width="493" height="77.6" fill="none" stroke="#000" stroke-width="1.1"/>
<rect x="348.5" y="558.1" width="493" height="78" fill="none" stroke="#000" stroke-width="1.1"/>
<rect x="348.5" y="645.2" width="493" height="24.8" fill="none" stroke="#000" stroke-width="1.1"/>
<rect x="348.5" y="521.6" width="493" height="30" fill="none" stroke="#303030" stroke-width="1.3"/>
<text x="363.2" y="132.8" font-size="12.2" fill="#00009a" text-anchor="middle" >wschód słońca: 07:41 CET</text>
<text x="363.2" y="145.9" font-size="12.2" fill="#00009a" text-anchor="middle" >zachód słońca: 15:46 CET</text>
<text x="595.7" y="132.8" font-size="12.2" fill="#00009a" text-anchor="middle" >21°40'27"E, 54°10'38"N</text>
<text x="554.6" y="145.9" font-size="12.2" fill="#00009a" text-anchor="start" textLength="82" lengthAdjust="spacing">(x=260,&#160; y=350)</text>
<text x="818.8" y="132.8" font-size="12.2" fill="#00009a" text-anchor="middle" >wysokość (min, środek, max)</text>
<text x="818" y="145.9" font-size="12.2" fill="#00009a" text-anchor="middle" >75 - 128 - 153 m</text>
<text x="318.5" y="175" font-size="12.5" fill="#000" text-anchor="middle" >CET</text>
<text x="872" y="175" font-size="12.5" fill="#000" text-anchor="middle" >CET</text>
<text x="361.7" y="175" font-size="12.5" fill="#000" text-anchor="middle" >04</text>
<text x="400" y="175" font-size="12.5" fill="#000" text-anchor="middle" >10</text>
<text x="438.4" y="175" font-size="12.5" fill="#000" text-anchor="middle" >16</text>
<text x="476.7" y="175" font-size="12.5" fill="#000" text-anchor="middle" >22</text>
<text x="515" y="175" font-size="12.5" fill="#000" text-anchor="middle" >04</text>
<text x="553.4" y="175" font-size="12.5" fill="#000" text-anchor="middle" >10</text>
<text x="591.7" y="175" font-size="12.5" fill="#000" text-anchor="middle" >16</text>
<text x="630.1" y="175" font-size="12.5" fill="#000" text-anchor="middle" >22</text>
<text x="668.4" y="175" font-size="12.5" fill="#000" text-anchor="middle" >04</text>
<text x="706.7" y="175" font-size="12.5" fill="#000" text-anchor="middle" >10</text>
<text x="745.1" y="175" font-size="12.5" fill="#000" text-anchor="middle" >16</text>
<text x="783.4" y="175" font-size="12.5" fill="#000" text-anchor="middle" >22</text>
<text x="821.8" y="175" font-size="12.5" fill="#000" text-anchor="middle" >04</text>
<text x="391.6" y="161.5" font-size="12.5" fill="#000" text-anchor="start" >nie, 18.01</text>
<text x="542.9" y="161.5" font-size="12.5" fill="#000" text-anchor="start" >pon, 19.01</text>
<text x="695.9" y="161.5" font-size="12.5" fill="#000" text-anchor="start" >wto, 20.01</text>
<text x="344.3" y="192.6" font-size="10.9" fill="#000" text-anchor="end" >-5</text>
<text x="344.3" y="213.2" font-size="10.9" fill="#000" text-anchor="end" >-10</text>
<text x="344.3" y="234" font-size="10.9" fill="#000" text-anchor="end" >-15</text>
<text x="344.3" y="254.7" font-size="10.9" fill="#000" text-anchor="end" >-20</text>
<text x="344.3" y="271" font-size="10.9" fill="#000" text-anchor="end" >5</text>
<text x="344.3" y="285.9" font-size="10.9" fill="#000" text-anchor="end" >4</text>
<text x="344.3" y="300.9" font-size="10.9" fill="#000" text-anchor="end" >3</text>
<text x="344.3" y="315.9" font-size="10.9" fill="#000" text-anchor="end" >2</text>
<text x="344.3" y="331" font-size="10.9" fill="#000" text-anchor="end" >1</text>
<text x="344.3" y="345.9" font-size="10.9" fill="#000" text-anchor="end" >0</text>
<text x="344.3" y="358.1" font-size="10.9" fill="#000" text-anchor="end" >1040</text>
<text x="344.3" y="373.3" font-size="10.9" fill="#000" text-anchor="end" >1035</text>
<text x="344.3" y="389" font-size="10.9" fill="#000" text-anchor="end" >1030</text>
<text x="344.3" y="404.6" font-size="10.9" fill="#000" text-anchor="end" >1025</text>
<text x="344.3" y="420.6" font-size="10.9" fill="#000" text-anchor="end" >1020</text>
<text x="344.3" y="443.8" font-size="10.9" fill="#000" text-anchor="end" >15</text>
<text x="344.3" y="468.6" font-size="10.9" fill="#000" text-anchor="end" >10</text>
<text x="344.3" y="494.5" font-size="10.9" fill="#000" text-anchor="end" >5</text>
<text x="344.3" y="519.1" font-size="10.9" fill="#000" text-anchor="end" >0</text>
<text x="344.3" y="563.3" font-size="10.9" fill="#000" text-anchor="end" >15.0</text>
<text x="344.3" y="582.3" font-size="10.9" fill="#000" text-anchor="end" >7.0</text>
<text x="344.3" y="601.9" font-size="10.9" fill="#000" text-anchor="end" >2.0</text>
<text x="344.3" y="621.1" font-size="10.9" fill="#000" text-anchor="end" >0.5</text>
<text x="344.3" y="640.1" font-size="10.9" fill="#000" text-anchor="end" >0.0</text>
<text x="344.3" y="650" font-size="10.9" fill="#000" text-anchor="end" >8</text>
<text x="852.8" y="192.6" font-size="10.9" fill="#000" text-anchor="middle" >-5</text>
<text x="852.8" y="213.2" font-size="10.9" fill="#000" text-anchor="middle" >-10</text>
<text x="852.8" y="234" font-size="10.9" fill="#000" text-anchor="middle" >-15</text>
<text x="852.8" y="254.7" font-size="10.9" fill="#000" text-anchor="middle" >-20</text>
<text x="845.4" y="271" font-size="10.9" fill="#e8501a" text-anchor="start" >89</text>
<text x="845.4" y="285.9" font-size="10.9" fill="#e8501a" text-anchor="start" >84</text>
<text x="845.4" y="300.9" font-size="10.9" fill="#e8501a" text-anchor="start" >78</text>
<text x="845.4" y="315.9" font-size="10.9" fill="#e8501a" text-anchor="start" >73</text>
<text x="845.4" y="331" font-size="10.9" fill="#e8501a" text-anchor="start" >67</text>
<text x="845.4" y="345.9" font-size="10.9" fill="#e8501a" text-anchor="start" >62</text>
<text x="845.4" y="358.1" font-size="10.9" fill="#000" text-anchor="start" >780</text>
<text x="845.4" y="373.3" font-size="10.9" fill="#000" text-anchor="start" >776</text>
<text x="845.4" y="389" font-size="10.9" fill="#000" text-anchor="start" >772</text>
<text x="845.4" y="404.6" font-size="10.9" fill="#000" text-anchor="start" >769</text>
<text x="845.4" y="420.6" font-size="10.9" fill="#000" text-anchor="start" >765</text>
<text x="851.3" y="443.8" font-size="10.9" fill="#000" text-anchor="middle" >54</text>
<text x="851.3" y="468.6" font-size="10.9" fill="#000" text-anchor="middle" >36</text>
<text x="851.3" y="494.5" font-size="10.9" fill="#000" text-anchor="middle" >18</text>
<text x="851.3" y="519.1" font-size="10.9" fill="#000" text-anchor="middle" >0</text>
<text x="845" y="562.8" font-size="10.9" fill="#ff8200" text-anchor="start" >100</text>
<text x="845" y="581.8" font-size="10.9" fill="#ff8200" text-anchor="start" >20</text>
<text x="845" y="601.5" font-size="10.9" fill="#ff8200" text-anchor="start" >5</text>
<text x="845" y="620.7" font-size="10.9" fill="#ff8200" text-anchor="start" >1</text>
<text x="845" y="639.7" font-size="10.9" fill="#ff8200" text-anchor="start" >0</text>
<text x="845" y="650" font-size="10.9" fill="#ff8200" text-anchor="start" >1</text>
<text transform="translate(292.5 217) rotate(-90)" font-size="12.6" fill="#00009a" text-anchor="middle">temperatura</text>
<text transform="translate(305.3 217) rotate(-90)" font-size="12.6" fill="#00009a" text-anchor="middle">(°C)</text>
<text transform="translate(292.5 304) rotate(-90)" font-size="12.6" fill="#00009a" text-anchor="middle">opad</text>
<text transform="translate(305.3 305.2) rotate(-90)" font-size="12.2" fill="#00009a" text-anchor="middle">(mm/h, kg/m²/h)</text>
<text transform="translate(292.5 393) rotate(-90)" font-size="12.6" fill="#00009a" text-anchor="middle">ciśnienie</text>
<text transform="translate(305.3 393) rotate(-90)" font-size="12.6" fill="#00009a" text-anchor="middle">(hPa)</text>
<text transform="translate(292.5 483.4) rotate(-90)" font-size="12.6" fill="#00009a" text-anchor="middle">wiatr</text>
<text transform="translate(305.3 482.7) rotate(-90)" font-size="12.6" fill="#00009a" text-anchor="middle">(m/s)</text>
<text transform="translate(292.5 593.5) rotate(-90)" font-size="12.6" fill="#00009a" text-anchor="middle">pion. rozciągł. chm.</text>
<text transform="translate(305.3 594) rotate(-90)" font-size="12.6" fill="#00009a" text-anchor="middle">(km)</text>
<text transform="translate(292.5 651.8) rotate(-90)" font-size="12.6" fill="#00009a" text-anchor="end">zachmurzenie</text>
<text transform="translate(893 217) rotate(-90)" font-size="12.6" fill="#00009a" text-anchor="middle">(°C)</text>
<text transform="translate(906.2 217) rotate(-90)" font-size="12.6" fill="#00009a" text-anchor="middle">temperatura</text>
<text transform="translate(893 305.8) rotate(-90)" font-size="12.6" fill="#00009a" text-anchor="middle">(%)</text>
<text transform="translate(906.2 305.4) rotate(-90)" font-size="12.6" fill="#00009a" text-anchor="middle">wilgotność wzgl.</text>
<text transform="translate(893 392.6) rotate(-90)" font-size="12.6" fill="#00009a" text-anchor="middle">(mm Hg)</text>
<text transform="translate(906.2 393) rotate(-90)" font-size="12.6" fill="#00009a" text-anchor="middle">ciśnienie</text>
<text transform="translate(893 481.4) rotate(-90)" font-size="12.6" fill="#00009a" text-anchor="middle">(km/h)</text>
<text transform="translate(906.2 483) rotate(-90)" font-size="12.6" fill="#00009a" text-anchor="middle">wiatr</text>
<text transform="translate(893 594) rotate(-90)" font-size="12.6" fill="#00009a" text-anchor="middle">(km)</text>
<text transform="translate(906.2 595.3) rotate(-90)" font-size="12.6" fill="#00009a" text-anchor="middle">widzialność</text>
<text x="289.3" y="539.6" font-size="12" fill="#00009a" text-anchor="middle" >W</text>
<text x="298.1" y="531.8" font-size="12" fill="#00009a" text-anchor="middle" >N</text>
<text x="305.1" y="539.6" font-size="12" fill="#00009a" text-anchor="middle" >E</text>
<text x="297.9" y="547.6" font-size="12" fill="#00009a" text-anchor="middle" >S</text>
<text x="889.3" y="539.6" font-size="12" fill="#00009a" text-anchor="middle" >W</text>
<text x="898.1" y="531.8" font-size="12" fill="#00009a" text-anchor="middle" >N</text>
<text x="905.1" y="539.6" font-size="12" fill="#00009a" text-anchor="middle" >E</text>
<text x="897.9" y="547.6" font-size="12" fill="#00009a" text-anchor="middle" >S</text>
<rect x="170" y="30" width="61.8" height="599" fill="#eef3fc"/>
<defs>
<clipPath id="m1"><rect x="135.5" y="57.4" width="110" height="77"/></clipPath>
<clipPath id="m2"><rect x="135.5" y="143.5" width="110" height="76.8"/></clipPath>
<clipPath id="m3"><rect x="135.5" y="229.5" width="110" height="77"/></clipPath>
<clipPath id="m4"><rect x="135.5" y="315.4" width="110" height="77"/></clipPath>
<clipPath id="m5"><rect x="135.5" y="398.6" width="110" height="31.4"/></clipPath>
<clipPath id="m6"><rect x="135.5" y="436.5" width="110" height="78.3"/></clipPath>
<clipPath id="m7"><rect x="135.5" y="523.7" width="110" height="77.4"/></clipPath>
</defs>
<g clip-path="url(#m1)">
<polygon points="135.5,102.4 136.5,102.5 137.5,102.6 138.5,102.7 139.5,102.8 140.5,103 141.5,103.1 142.5,103.2 143.5,103.6 144.5,104 145.5,104.3 146.5,104.7 147.5,105 148.5,105.4 149.5,105.7 150.5,106.1 151.5,106.5 152.5,106.9 153.5,107.3 154.5,107.7 155.5,108.1 156.5,108.5 157.5,108.8 158.5,109.2 159.5,109.5 160.5,109.8 161.5,110.1 162.5,110.4 163.5,110.7 164.5,110.9 165.5,111.2 166.5,111.4 167.5,111.6 168.5,111.9 169.5,112.1 170.5,112.3 171.5,112.5 172.5,112.7 173.5,112.8 174.5,113 175.5,113.2 176.5,113.3 177.5,113.5 178.5,113.7 179.5,113.8 180.5,114 181.5,114.1 182.5,114.3 183.5,114.5 184.5,114.6 185.5,114.8 186.5,115 187.5,115.2 188.5,115.4 189.5,115.5 190.5,115.7 191.5,115.9 192.5,116.1 193.5,116.4 194.5,116.6 195.5,116.9 196.5,117.1 197.5,117.4 198.5,117.6 199.5,117.7 200.5,117.8 201.5,117.9 202.5,118.1 203.5,118.2 204.5,118.3 205.5,118.4 206.5,118.4 207.5,118.4 208.5,118.4 209.5,118.4 210.5,118.4 211.5,118.4 212.5,118.4 213.5,117.9 214.5,117.4 215.5,116.9 216.5,116.6 217.5,116.4 218.5,116.1 219.5,115.9 220.5,116.4 221.5,116.9 222.5,117.3 223.5,117.8 224.5,118.3 225.5,118.8 226.5,119.2 227.5,119.7 228.5,120.1 229.5,120.5 230.5,120.9 231.5,121.4 232.5,121.8 233.5,122.2 234.5,121.3 235.5,120.5 236.5,119.6 237.5,118.7 238.5,117.9 239.5,117.4 240.5,117.2 241.5,117 242.5,116.7 243.5,116.5 244.5,116.2 245.5,116 245.5,134.4 135.5,134.4" fill="#bfe3fa"/>
<polygon points="135.5,113.1 136.5,113.1 137.5,113.1 138.5,113.1 139.5,113.1 140.5,113.2 141.5,113.2 142.5,113.2 143.5,113.2 144.5,113.2 145.5,113.2 146.5,113.2 147.5,113.2 148.5,113.2 149.5,113.3 150.5,113.3 151.5,113.3 152.5,113.3 153.5,113.3 154.5,113.3 155.5,113.3 156.5,113.3 157.5,113.4 158.5,113.4 159.5,113.4 160.5,113.4 161.5,113.4 162.5,113.4 163.5,113.4 164.5,113.4 165.5,113.4 166.5,113.5 167.5,113.5 168.5,113.5 169.5,113.5 170.5,113.5 171.5,113.7 172.5,113.9 173.5,114.2 174.5,114.4 175.5,114.6 176.5,114.8 177.5,115 178.5,115.4 179.5,115.9 180.5,116.3 181.5,116.7 182.5,117.2 183.5,117.6 184.5,118 185.5,118.4 186.5,118.8 187.5,119.1 188.5,119.5 189.5,119.8 190.5,120.2 191.5,120.5 192.5,120.9 193.5,121.2 194.5,121.6 195.5,122 196.5,122.3 197.5,122.7 198.5,123 199.5,123.4 200.5,123.7 201.5,124 202.5,124.3 203.5,124.6 204.5,125 205.5,125.3 206.5,125.6 207.5,125.9 208.5,126.2 209.5,126.6 210.5,126.9 211.5,127.2 212.5,127.5 213.5,127.7 214.5,128 215.5,128.2 216.5,128.4 217.5,128.6 218.5,128.8 219.5,129 220.5,129.2 221.5,129.4 222.5,129.7 223.5,129.9 224.5,130.1 225.5,130.3 226.5,130.5 227.5,130.6 228.5,130.7 229.5,130.8 230.5,130.9 231.5,131 232.5,131.1 233.5,131.2 234.5,129.9 235.5,128.7 236.5,127.4 237.5,126.2 238.5,124.9 239.5,123.6 240.5,122.8 241.5,122.5 242.5,122.2 243.5,121.8 244.5,121.5 245.5,121.1 245.5,134.4 135.5,134.4" fill="#86ccf5"/>
<g clip-path="url(#nb)"></g>
<clipPath id="m1n"><rect x="170" y="57.4" width="61.8" height="77"/></clipPath>
<polygon clip-path="url(#m1n)" points="135.5,113.1 136.5,113.1 137.5,113.1 138.5,113.1 139.5,113.1 140.5,113.2 141.5,113.2 142.5,113.2 143.5,113.2 144.5,113.2 145.5,113.2 146.5,113.2 147.5,113.2 148.5,113.2 149.5,113.3 150.5,113.3 151.5,113.3 152.5,113.3 153.5,113.3 154.5,113.3 155.5,113.3 156.5,113.3 157.5,113.4 158.5,113.4 159.5,113.4 160.5,113.4 161.5,113.4 162.5,113.4 163.5,113.4 164.5,113.4 165.5,113.4 166.5,113.5 167.5,113.5 168.5,113.5 169.5,113.5 170.5,113.5 171.5,113.7 172.5,113.9 173.5,114.2 174.5,114.4 175.5,114.6 176.5,114.8 177.5,115 178.5,115.4 179.5,115.9 180.5,116.3 181.5,116.7 182.5,117.2 183.5,117.6 184.5,118 185.5,118.4 186.5,118.8 187.5,119.1 188.5,119.5 189.5,119.8 190.5,120.2 191.5,120.5 192.5,120.9 193.5,121.2 194.5,121.6 195.5,122 196.5,122.3 197.5,122.7 198.5,123 199.5,123.4 200.5,123.7 201.5,124 202.5,124.3 203.5,124.6 204.5,125 205.5,125.3 206.5,125.6 207.5,125.9 208.5,126.2 209.5,126.6 210.5,126.9 211.5,127.2 212.5,127.5 213.5,127.7 214.5,128 215.5,128.2 216.5,128.4 217.5,128.6 218.5,128.8 219.5,129 220.5,129.2 221.5,129.4 222.5,129.7 223.5,129.9 224.5,130.1 225.5,130.3 226.5,130.5 227.5,130.6 228.5,130.7 229.5,130.8 230.5,130.9 231.5,131 232.5,131.1 233.5,131.2 234.5,129.9 235.5,128.7 236.5,127.4 237.5,126.2 238.5,124.9 239.5,123.6 240.5,122.8 241.5,122.5 242.5,122.2 243.5,121.8 244.5,121.5 245.5,121.1 245.5,134.4 135.5,134.4" fill="#7cc0ee"/>
<polygon points="135.5,87.9 136.5,88.1 137.5,88.3 138.5,88.6 139.5,88.8 140.5,89 141.5,89.3 142.5,89.5 143.5,89.8 144.5,90 145.5,90.3 146.5,90.5 147.5,90.7 148.5,91 149.5,91.2 150.5,91.7 151.5,92.2 152.5,92.7 153.5,93.1 154.5,93.6 155.5,94.1 156.5,94.5 157.5,95 158.5,95.5 159.5,95.9 160.5,96.4 161.5,96.9 162.5,97.3 163.5,97.8 164.5,98.2 165.5,98.6 166.5,99 167.5,99.5 168.5,99.9 169.5,100.3 170.5,100.7 171.5,101.1 172.5,101.5 173.5,101.9 174.5,102.4 175.5,102.8 176.5,103.2 177.5,103.6 178.5,103.8 179.5,104.1 180.5,104.3 181.5,104.5 182.5,104.8 183.5,105 184.5,105.2 185.5,105.5 186.5,105.7 187.5,106 188.5,106.2 189.5,106.4 190.5,106.7 191.5,106.9 192.5,107 193.5,107.1 194.5,107.2 195.5,107.4 196.5,107.5 197.5,107.6 198.5,107.7 199.5,107.8 200.5,107.9 201.5,108 202.5,108.2 203.5,108.3 204.5,108.4 205.5,108.5 206.5,108.6 207.5,108.7 208.5,108.7 209.5,108.8 210.5,108.9 211.5,109 212.5,109.1 213.5,109.2 214.5,109.2 215.5,109.3 216.5,109.4 217.5,109.5 218.5,109.6 219.5,109.6 220.5,109.7 221.5,109.8 222.5,109.9 223.5,110 224.5,110 225.5,110.1 226.5,110.2 227.5,110.4 228.5,110.7 229.5,110.9 230.5,111.1 231.5,111.3 232.5,111.6 233.5,111.8 234.5,111.3 235.5,110.9 236.5,110.4 237.5,109.9 238.5,109.5 239.5,109 240.5,108.5 241.5,108.1 242.5,107.6 243.5,107.1 244.5,106.7 245.5,106.2 245.5,118.3 244.5,119.1 243.5,120 242.5,120.8 241.5,121.6 240.5,122.4 239.5,123.3 238.5,124.2 237.5,125.1 236.5,126.1 235.5,127 234.5,127.9 233.5,128.8 232.5,128.7 231.5,128.6 230.5,128.5 229.5,128.4 228.5,128.3 227.5,128.2 226.5,128.2 225.5,128.1 224.5,128 223.5,127.9 222.5,127.8 221.5,127.7 220.5,127.6 219.5,127.5 218.5,127.3 217.5,127.1 216.5,127 215.5,126.8 214.5,126.6 213.5,126.4 212.5,126.2 211.5,126.1 210.5,125.9 209.5,125.7 208.5,125.5 207.5,125.4 206.5,125.2 205.5,125 204.5,124.7 203.5,124.4 202.5,124.1 201.5,123.9 200.5,123.6 199.5,123.3 198.5,123 197.5,122.7 196.5,122.4 195.5,122.1 194.5,121.9 193.5,121.6 192.5,121.3 191.5,121 190.5,120.8 189.5,120.6 188.5,120.4 187.5,120.2 186.5,119.9 185.5,119.7 184.5,119.5 183.5,119 182.5,118.5 181.5,118 180.5,117.5 179.5,117 178.5,116.5 177.5,116 176.5,115.6 175.5,115.3 174.5,114.9 173.5,114.6 172.5,114.2 171.5,113.9 170.5,113.5 169.5,113.1 168.5,112.8 167.5,112.4 166.5,112.1 165.5,111.7 164.5,111.4 163.5,111 162.5,110.7 161.5,110.4 160.5,110 159.5,109.7 158.5,109.4 157.5,109.1 156.5,108.7 155.5,108.4 154.5,108.1 153.5,107.8 152.5,107.4 151.5,107.1 150.5,106.8 149.5,106.5 148.5,106.1 147.5,105.8 146.5,105.5 145.5,105.2 144.5,104.8 143.5,104.5 142.5,104.2 141.5,103.9 140.5,103.5 139.5,103.2 138.5,102.9 137.5,102.6 136.5,102.2 135.5,102" fill="#ffe9e1" />
</g>
<g clip-path="url(#m1)">
<g stroke="#b02020" stroke-width="1" shape-rendering="crispEdges"><line x1="142.5" y1="65.5" x2="142.5" y2="86"/><line x1="149.5" y1="78" x2="149.5" y2="93.7"/><line x1="156.5" y1="87.1" x2="156.5" y2="99.4"/><line x1="163.5" y1="97" x2="163.5" y2="106.9"/><line x1="170.5" y1="101.1" x2="170.5" y2="114.3"/><line x1="177.5" y1="102.7" x2="177.5" y2="118.4"/><line x1="184.5" y1="105.2" x2="184.5" y2="120.9"/><line x1="191.5" y1="106.9" x2="191.5" y2="123.3"/><line x1="198.5" y1="107.7" x2="198.5" y2="125.8"/><line x1="205.5" y1="108.5" x2="205.5" y2="127.5"/><line x1="212.5" y1="109.3" x2="212.5" y2="129.9"/><line x1="219.5" y1="110.2" x2="219.5" y2="130.8"/><line x1="226.5" y1="111" x2="226.5" y2="132.4"/><line x1="233.5" y1="111.8" x2="233.5" y2="132.4"/><line x1="240.5" y1="106" x2="240.5" y2="119.2"/></g>
</g>
<g stroke="#000" stroke-width="1" stroke-dasharray="2 2" shape-rendering="crispEdges"><line x1="142.5" y1="57.4" x2="142.5" y2="134.4"/><line x1="163.5" y1="57.4" x2="163.5" y2="134.4"/><line x1="184.5" y1="57.4" x2="184.5" y2="134.4"/><line x1="205.5" y1="57.4" x2="205.5" y2="134.4"/><line x1="226.5" y1="57.4" x2="226.5" y2="134.4"/><line x1="135.5" y1="59.5" x2="245.5" y2="59.5"/><line x1="135.5" y1="77.5" x2="245.5" y2="77.5"/><line x1="135.5" y1="94.5" x2="245.5" y2="94.5"/><line x1="135.5" y1="111.5" x2="245.5" y2="111.5"/><line x1="135.5" y1="129.5" x2="245.5" y2="129.5"/></g>
<g clip-path="url(#m1)">
<g fill="#6c5cd0"><rect x="134.3" y="111.7" width="3" height="2.8"/><rect x="141.3" y="111.7" width="3" height="2.8"/><rect x="148.3" y="111.7" width="3" height="2.8"/><rect x="155.3" y="111.7" width="3" height="2.8"/><rect x="162.3" y="111.7" width="3" height="2.8"/><rect x="169.3" y="113" width="3" height="2.8"/><rect x="176.3" y="114.2" width="3" height="2.8"/><rect x="183.3" y="115.5" width="3" height="2.8"/><rect x="190.3" y="116.5" width="3" height="2.8"/><rect x="197.3" y="117.5" width="3" height="2.8"/><rect x="204.3" y="118.1" width="3" height="2.8"/><rect x="211.3" y="118.6" width="3" height="2.8"/><rect x="218.3" y="119.1" width="3" height="2.8"/><rect x="225.3" y="119.9" width="3" height="2.8"/><rect x="232.3" y="121" width="3" height="2.8"/><rect x="239.3" y="117.7" width="3" height="2.8"/><rect x="246.3" y="117" width="3" height="2.8"/></g>
<path d="M135.5 102.4 L136.5 102.5 L137.5 102.6 L138.5 102.7 L139.5 102.8 L140.5 103 L141.5 103.1 L142.5 103.2 L143.5 103.6 L144.5 104 L145.5 104.3 L146.5 104.7 L147.5 105 L148.5 105.4 L149.5 105.7 L150.5 106.1 L151.5 106.5 L152.5 106.9 L153.5 107.3 L154.5 107.7 L155.5 108.1 L156.5 108.5 L157.5 108.8 L158.5 109.2 L159.5 109.5 L160.5 109.8 L161.5 110.1 L162.5 110.4 L163.5 110.7 L164.5 110.9 L165.5 111.2 L166.5 111.4 L167.5 111.6 L168.5 111.9 L169.5 112.1 L170.5 112.3 L171.5 112.5 L172.5 112.7 L173.5 112.8 L174.5 113 L175.5 113.2 L176.5 113.3 L177.5 113.5 L178.5 113.7 L179.5 113.8 L180.5 114 L181.5 114.1 L182.5 114.3 L183.5 114.5 L184.5 114.6 L185.5 114.8 L186.5 115 L187.5 115.2 L188.5 115.4 L189.5 115.5 L190.5 115.7 L191.5 115.9 L192.5 116.1 L193.5 116.4 L194.5 116.6 L195.5 116.9 L196.5 117.1 L197.5 117.4 L198.5 117.6 L199.5 117.7 L200.5 117.8 L201.5 117.9 L202.5 118.1 L203.5 118.2 L204.5 118.3 L205.5 118.4 L206.5 118.4 L207.5 118.4 L208.5 118.4 L209.5 118.4 L210.5 118.4 L211.5 118.4 L212.5 118.4 L213.5 117.9 L214.5 117.4 L215.5 116.9 L216.5 116.6 L217.5 116.4 L218.5 116.1 L219.5 115.9 L220.5 116.4 L221.5 116.9 L222.5 117.3 L223.5 117.8 L224.5 118.3 L225.5 118.8 L226.5 119.2 L227.5 119.7 L228.5 120.1 L229.5 120.5 L230.5 120.9 L231.5 121.4 L232.5 121.8 L233.5 122.2 L234.5 121.3 L235.5 120.5 L236.5 119.6 L237.5 118.7 L238.5 117.9 L239.5 117.4 L240.5 117.2 L241.5 117 L242.5 116.7 L243.5 116.5 L244.5 116.2 L245.5 116" fill="none" stroke="#0000ff" stroke-width="2.2" stroke-linejoin="round"/>
<path d="M135.5 99 L136.5 99 L137.5 99.1 L138.5 99.2 L139.5 99.2 L140.5 99.3 L141.5 99.3 L142.5 99.4 L143.5 99.8 L144.5 100.2 L145.5 100.5 L146.5 100.9 L147.5 101.2 L148.5 101.6 L149.5 101.9 L150.5 102.3 L151.5 102.7 L152.5 103 L153.5 103.4 L154.5 103.7 L155.5 104.1 L156.5 104.4 L157.5 104.9 L158.5 105.4 L159.5 105.8 L160.5 106.3 L161.5 106.8 L162.5 107.2 L163.5 107.7 L164.5 108.2 L165.5 108.7 L166.5 109.1 L167.5 109.6 L168.5 110.1 L169.5 110.6 L170.5 111 L171.5 111.2 L172.5 111.4 L173.5 111.6 L174.5 111.8 L175.5 111.9 L176.5 112.1 L177.5 112.3 L178.5 112.4 L179.5 112.5 L180.5 112.6 L181.5 112.8 L182.5 112.9 L183.5 113 L184.5 113.1 L185.5 113.1 L186.5 113.2 L187.5 113.2 L188.5 113.2 L189.5 113.3 L190.5 113.3 L191.5 113.3 L192.5 113.4 L193.5 113.4 L194.5 113.4 L195.5 113.5 L196.5 113.5 L197.5 113.5 L198.5 113.5 L199.5 113.5 L200.5 113.5 L201.5 113.5 L202.5 113.5 L203.5 113.5 L204.5 113.5 L205.5 113.5 L206.5 113.6 L207.5 113.7 L208.5 113.8 L209.5 114 L210.5 114.1 L211.5 114.2 L212.5 114.3 L213.5 114.4 L214.5 114.5 L215.5 114.6 L216.5 114.8 L217.5 114.9 L218.5 115 L219.5 115.1 L220.5 115.2 L221.5 115.3 L222.5 115.4 L223.5 115.6 L224.5 115.7 L225.5 115.8 L226.5 115.9 L227.5 116.3 L228.5 116.6 L229.5 117 L230.5 117.3 L231.5 117.7 L232.5 118 L233.5 118.4 L234.5 117.8 L235.5 117.2 L236.5 116.5 L237.5 115.9 L238.5 115.3 L239.5 114.7 L240.5 114.2 L241.5 113.7 L242.5 113.2 L243.5 112.7 L244.5 112.2 L245.5 111.7" fill="none" stroke="#ff0000" stroke-width="2.4" stroke-linejoin="round"/>
</g>
<rect x="135.5" y="57.4" width="110" height="77" fill="none" stroke="#000" stroke-width="1.1"/>
<g clip-path="url(#m2)">
<rect x="135.8" y="186.9" width="7.5" height="40" fill="#00a800"/>
<rect x="143.2" y="181.2" width="7" height="40" fill="#00a800"/>
<rect x="150.1" y="179.2" width="7.2" height="45" fill="#00a800"/>
<rect x="157.2" y="201.8" width="7" height="20" fill="#00a800"/>
<rect x="164.1" y="208.3" width="6" height="15" fill="#00a800"/>
<rect x="170" y="217.9" width="7.3" height="5" fill="#00a800"/>
<rect x="157.2" y="182.3" width="6.9" height="19.5" fill="#1428c8"/>
<rect x="164.1" y="205" width="5.9" height="3.3" fill="#1428c8"/>
</g>
<g stroke="#000" stroke-width="1" stroke-dasharray="2 2" shape-rendering="crispEdges"><line x1="143.5" y1="143.5" x2="143.5" y2="220.3"/><line x1="164.5" y1="143.5" x2="164.5" y2="220.3"/><line x1="184.5" y1="143.5" x2="184.5" y2="220.3"/><line x1="204.5" y1="143.5" x2="204.5" y2="220.3"/><line x1="225.5" y1="143.5" x2="225.5" y2="220.3"/><line x1="135.5" y1="150.5" x2="245.5" y2="150.5"/><line x1="135.5" y1="168.5" x2="245.5" y2="168.5"/><line x1="135.5" y1="185.5" x2="245.5" y2="185.5"/><line x1="135.5" y1="202.5" x2="245.5" y2="202.5"/><line x1="135.5" y1="219.5" x2="245.5" y2="219.5"/></g>
<g clip-path="url(#m2)">
<g stroke="#00a800" stroke-width="1" shape-rendering="crispEdges"><line x1="139.5" y1="165.5" x2="139.5" y2="187"/><line x1="146.5" y1="146.5" x2="146.5" y2="181.5"/><line x1="153.5" y1="146.5" x2="153.5" y2="179.5"/></g>
<line x1="160.5" y1="170.9" x2="160.5" y2="182.5" stroke="#1428c8" stroke-width="1" shape-rendering="crispEdges"/>
<rect x="145" y="146" width="3" height="3" fill="#ff0000"/><rect x="152" y="146" width="3" height="3" fill="#ff0000"/>
<path d="M135.5 172.9 L136.5 172.5 L137.5 171.9 L138.5 171.3 L139.5 170.7 L140.5 170 L141.5 169.3 L142.5 168.5 L143.5 167.6 L144.5 166.5 L145.5 165.1 L146.5 163.6 L147.5 162.1 L148.5 160.7 L149.5 159.6 L150.5 158.8 L151.5 158.1 L152.5 157.5 L153.5 156.9 L154.5 156.5 L155.5 156 L156.5 155.6 L157.5 155.1 L158.5 154.7 L159.5 154.3 L160.5 154 L161.5 153.6 L162.5 153.4 L163.5 153.1 L164.5 152.9 L165.5 152.7 L166.5 152.6 L167.5 152.5 L168.5 152.4 L169.5 152.4 L170.5 152.3 L171.5 152.3 L172.5 152.2 L173.5 152.3 L174.5 152.3 L175.5 152.3 L176.5 152.3 L177.5 152.3 L178.5 152.3 L179.5 152.3 L180.5 152.3 L181.5 152.3 L182.5 152.3 L183.5 152.2 L184.5 152 L185.5 151.6 L186.5 151.2 L187.5 150.6 L188.5 150.1 L189.5 149.7 L190.5 149.4 L191.5 149.3 L192.5 149.2 L193.5 149.1 L194.5 149.1 L195.5 149.2 L196.5 149.3 L197.5 149.5 L198.5 149.8 L199.5 150.3 L200.5 151 L201.5 151.6 L202.5 152.3 L203.5 153 L204.5 153.8 L205.5 154.5 L206.5 155.1 L207.5 155.4 L208.5 155.6 L209.5 155.8 L210.5 155.9 L211.5 155.8 L212.5 155.6 L213.5 155.2 L214.5 154.7 L215.5 154 L216.5 153.3 L217.5 152.7 L218.5 152 L219.5 151.5 L220.5 151 L221.5 150.6 L222.5 150.3 L223.5 150 L224.5 149.8 L225.5 149.8 L226.5 149.8 L227.5 149.8 L228.5 150 L229.5 150.3 L230.5 150.7 L231.5 151.2 L232.5 151.8 L233.5 152.5 L234.5 153.3 L235.5 154.2 L236.5 155 L237.5 156 L238.5 157 L239.5 158 L240.5 159.1 L241.5 160.1 L242.5 161.3 L243.5 162.4 L244.5 163.5 L245.5 164.6" fill="none" stroke="#e8501a" stroke-width="2" stroke-linejoin="round"/>
<circle cx="139.4" cy="173.4" r="2.1" fill="#ffe000" stroke="#5a2000" stroke-width="0.9"/>
<circle cx="146.5" cy="173.4" r="2.1" fill="#ffa000" stroke="#5a2000" stroke-width="0.9"/>
<circle cx="153.6" cy="173.4" r="2.1" fill="#ff0000" stroke="#5a2000" stroke-width="0.9"/>
</g>
<rect x="135.5" y="143.5" width="110" height="76.8" fill="none" stroke="#000" stroke-width="1.1"/>
<rect x="138" y="219" width="3" height="1" fill="#ff0000"/>
<rect x="145.9" y="219" width="3" height="1" fill="#ff0000"/>
<rect x="153.2" y="219" width="3" height="1" fill="#ff0000"/>
<rect x="160.5" y="219" width="3" height="1" fill="#ff0000"/>
<g clip-path="url(#m3)">
<polygon points="135.5,260.4 136.5,260.3 137.5,260.2 138.5,260.1 139.5,260 140.5,259.9 141.5,259.8 142.5,259.7 143.5,259.3 144.5,258.2 145.5,257.2 146.5,256.1 147.5,255 148.5,254 149.5,252.9 150.5,252.4 151.5,251.9 152.5,251.4 153.5,250.8 154.5,250.3 155.5,249.8 156.5,249.3 157.5,249.3 158.5,249.3 159.5,249.3 160.5,249.3 161.5,249.3 162.5,249.3 163.5,249.3 164.5,248.7 165.5,248.2 166.5,247.6 167.5,247.1 168.5,246.5 169.5,246 170.5,245.5 171.5,246 172.5,246.5 173.5,246.9 174.5,247.4 175.5,247.9 176.5,248.3 177.5,248.8 178.5,249 179.5,249.3 180.5,249.5 181.5,249.8 182.5,250 183.5,250.3 184.5,250.5 185.5,250.9 186.5,251.4 187.5,251.8 188.5,252.2 189.5,252.6 190.5,253 191.5,253.4 192.5,253.5 193.5,253.5 194.5,253.6 195.5,253.6 196.5,253.6 197.5,253.6 198.5,253.6 199.5,253.7 200.5,253.7 201.5,253.7 202.5,253.7 203.5,253.8 204.5,253.8 205.5,253.8 206.5,253.8 207.5,253.8 208.5,253.8 209.5,253.8 210.5,253.8 211.5,253.8 212.5,253.8 213.5,253.8 214.5,253.8 215.5,253.8 216.5,253.8 217.5,253.8 218.5,253.8 219.5,253.8 220.5,253.8 221.5,253.8 222.5,253.8 223.5,253.8 224.5,253.8 225.5,254.1 226.5,254.5 227.5,255 228.5,255.4 229.5,255.9 230.5,256.3 231.5,256.7 232.5,257.2 233.5,257.6 234.5,258.2 235.5,258.8 236.5,259.3 237.5,259.9 238.5,260.5 239.5,261.1 240.5,261.7 241.5,262.2 242.5,262.8 243.5,263.4 244.5,264 245.5,264.6 245.5,306.5 135.5,306.5" fill="#ffff00"/>
<clipPath id="m3g"><rect x="165.4" y="229" width="4.6" height="80"/></clipPath>
<polygon clip-path="url(#m3g)" points="135.5,260.4 136.5,260.3 137.5,260.2 138.5,260.1 139.5,260 140.5,259.9 141.5,259.8 142.5,259.7 143.5,259.3 144.5,258.2 145.5,257.2 146.5,256.1 147.5,255 148.5,254 149.5,252.9 150.5,252.4 151.5,251.9 152.5,251.4 153.5,250.8 154.5,250.3 155.5,249.8 156.5,249.3 157.5,249.3 158.5,249.3 159.5,249.3 160.5,249.3 161.5,249.3 162.5,249.3 163.5,249.3 164.5,248.7 165.5,248.2 166.5,247.6 167.5,247.1 168.5,246.5 169.5,246 170.5,245.5 171.5,246 172.5,246.5 173.5,246.9 174.5,247.4 175.5,247.9 176.5,248.3 177.5,248.8 178.5,249 179.5,249.3 180.5,249.5 181.5,249.8 182.5,250 183.5,250.3 184.5,250.5 185.5,250.9 186.5,251.4 187.5,251.8 188.5,252.2 189.5,252.6 190.5,253 191.5,253.4 192.5,253.5 193.5,253.5 194.5,253.6 195.5,253.6 196.5,253.6 197.5,253.6 198.5,253.6 199.5,253.7 200.5,253.7 201.5,253.7 202.5,253.7 203.5,253.8 204.5,253.8 205.5,253.8 206.5,253.8 207.5,253.8 208.5,253.8 209.5,253.8 210.5,253.8 211.5,253.8 212.5,253.8 213.5,253.8 214.5,253.8 215.5,253.8 216.5,253.8 217.5,253.8 218.5,253.8 219.5,253.8 220.5,253.8 221.5,253.8 222.5,253.8 223.5,253.8 224.5,253.8 225.5,254.1 226.5,254.5 227.5,255 228.5,255.4 229.5,255.9 230.5,256.3 231.5,256.7 232.5,257.2 233.5,257.6 234.5,258.2 235.5,258.8 236.5,259.3 237.5,259.9 238.5,260.5 239.5,261.1 240.5,261.7 241.5,262.2 242.5,262.8 243.5,263.4 244.5,264 245.5,264.6 245.5,306.5 135.5,306.5" fill="#ffd700"/>
</g>
<g stroke="#000" stroke-width="1" stroke-dasharray="2 2" shape-rendering="crispEdges"><line x1="143.5" y1="229.5" x2="143.5" y2="306.5"/><line x1="164.5" y1="229.5" x2="164.5" y2="306.5"/><line x1="184.5" y1="229.5" x2="184.5" y2="306.5"/><line x1="204.5" y1="229.5" x2="204.5" y2="306.5"/><line x1="225.5" y1="229.5" x2="225.5" y2="306.5"/><line x1="135.5" y1="231.5" x2="245.5" y2="231.5"/><line x1="135.5" y1="254.5" x2="245.5" y2="254.5"/><line x1="135.5" y1="278.5" x2="245.5" y2="278.5"/><line x1="135.5" y1="301.5" x2="245.5" y2="301.5"/></g>
<path d="M135.5 260.4 L136.5 260.3 L137.5 260.2 L138.5 260.1 L139.5 260 L140.5 259.9 L141.5 259.8 L142.5 259.7 L143.5 259.3 L144.5 258.2 L145.5 257.2 L146.5 256.1 L147.5 255 L148.5 254 L149.5 252.9 L150.5 252.4 L151.5 251.9 L152.5 251.4 L153.5 250.8 L154.5 250.3 L155.5 249.8 L156.5 249.3 L157.5 249.3 L158.5 249.3 L159.5 249.3 L160.5 249.3 L161.5 249.3 L162.5 249.3 L163.5 249.3 L164.5 248.7 L165.5 248.2 L166.5 247.6 L167.5 247.1 L168.5 246.5 L169.5 246 L170.5 245.5 L171.5 246 L172.5 246.5 L173.5 246.9 L174.5 247.4 L175.5 247.9 L176.5 248.3 L177.5 248.8 L178.5 249 L179.5 249.3 L180.5 249.5 L181.5 249.8 L182.5 250 L183.5 250.3 L184.5 250.5 L185.5 250.9 L186.5 251.4 L187.5 251.8 L188.5 252.2 L189.5 252.6 L190.5 253 L191.5 253.4 L192.5 253.5 L193.5 253.5 L194.5 253.6 L195.5 253.6 L196.5 253.6 L197.5 253.6 L198.5 253.6 L199.5 253.7 L200.5 253.7 L201.5 253.7 L202.5 253.7 L203.5 253.8 L204.5 253.8 L205.5 253.8 L206.5 253.8 L207.5 253.8 L208.5 253.8 L209.5 253.8 L210.5 253.8 L211.5 253.8 L212.5 253.8 L213.5 253.8 L214.5 253.8 L215.5 253.8 L216.5 253.8 L217.5 253.8 L218.5 253.8 L219.5 253.8 L220.5 253.8 L221.5 253.8 L222.5 253.8 L223.5 253.8 L224.5 253.8 L225.5 254.1 L226.5 254.5 L227.5 255 L228.5 255.4 L229.5 255.9 L230.5 256.3 L231.5 256.7 L232.5 257.2 L233.5 257.6 L234.5 258.2 L235.5 258.8 L236.5 259.3 L237.5 259.9 L238.5 260.5 L239.5 261.1 L240.5 261.7 L241.5 262.2 L242.5 262.8 L243.5 263.4 L244.5 264 L245.5 264.6" fill="none" stroke="#000" stroke-width="2.4" stroke-linejoin="round" clip-path="url(#m3)"/>
<rect x="135.5" y="229.5" width="110" height="77" fill="none" stroke="#000" stroke-width="1.1"/>
<g clip-path="url(#m4)">
<rect x="135.8" y="360" width="12.6" height="35" fill="#14c814"/>
<rect x="148.1" y="360" width="21.3" height="35" fill="#008000"/>
<rect x="169.1" y="360" width="28" height="35" fill="#00468c"/>
<rect x="196.8" y="360" width="14.3" height="35" fill="#008000"/>
<rect x="210.8" y="360" width="14.8" height="35" fill="#00468c"/>
<rect x="225.3" y="360" width="13.8" height="35" fill="#008000"/>
<rect x="238.8" y="360" width="7.5" height="35" fill="#14c814"/>
<polygon points="135.5,365.2 136.5,365.6 137.5,366.2 138.5,366.9 139.5,367.4 140.5,367.9 141.5,368.3 142.5,368.7 143.5,369.1 144.5,369.5 145.5,369.8 146.5,370.1 147.5,370.3 148.5,370.5 149.5,370.7 150.5,370.9 151.5,371.1 152.5,371.2 153.5,371.3 154.5,371.5 155.5,371.6 156.5,371.8 157.5,372 158.5,372.2 159.5,372.3 160.5,372.5 161.5,372.7 162.5,372.9 163.5,373.1 164.5,373.3 165.5,373.5 166.5,373.8 167.5,374 168.5,374.2 169.5,374.4 170.5,374.6 171.5,374.8 172.5,374.9 173.5,375 174.5,375.1 175.5,375.2 176.5,375.3 177.5,375.4 178.5,375.4 179.5,375.5 180.5,375.6 181.5,375.6 182.5,375.6 183.5,375.6 184.5,375.5 185.5,375.4 186.5,375.2 187.5,375 188.5,374.8 189.5,374.6 190.5,374.4 191.5,374.2 192.5,374 193.5,373.8 194.5,373.6 195.5,373.4 196.5,373.2 197.5,373 198.5,372.9 199.5,372.8 200.5,372.7 201.5,372.7 202.5,372.6 203.5,372.6 204.5,372.6 205.5,372.6 206.5,372.6 207.5,372.6 208.5,372.6 209.5,372.6 210.5,372.6 211.5,372.6 212.5,372.6 213.5,372.6 214.5,372.6 215.5,372.7 216.5,372.7 217.5,372.7 218.5,372.7 219.5,372.7 220.5,372.7 221.5,372.7 222.5,372.7 223.5,372.6 224.5,372.6 225.5,372.6 226.5,372.5 227.5,372.3 228.5,372.1 229.5,372 230.5,371.8 231.5,371.6 232.5,371.4 233.5,371.2 234.5,371 235.5,370.8 236.5,370.7 237.5,370.6 238.5,370.5 239.5,370.4 240.5,370.3 241.5,370.3 242.5,370.2 243.5,370.2 244.5,370.2 245.5,370.1 245.5,314.4 135.5,314.4" fill="#fff"/>
<rect x="170" y="315.4" width="61.8" height="77" fill="#eef3fc" clip-path="url(#m4sky)"/>
</g>
<clipPath id="m4sky"><polygon points="135.5,365.2 136.5,365.6 137.5,366.2 138.5,366.9 139.5,367.4 140.5,367.9 141.5,368.3 142.5,368.7 143.5,369.1 144.5,369.5 145.5,369.8 146.5,370.1 147.5,370.3 148.5,370.5 149.5,370.7 150.5,370.9 151.5,371.1 152.5,371.2 153.5,371.3 154.5,371.5 155.5,371.6 156.5,371.8 157.5,372 158.5,372.2 159.5,372.3 160.5,372.5 161.5,372.7 162.5,372.9 163.5,373.1 164.5,373.3 165.5,373.5 166.5,373.8 167.5,374 168.5,374.2 169.5,374.4 170.5,374.6 171.5,374.8 172.5,374.9 173.5,375 174.5,375.1 175.5,375.2 176.5,375.3 177.5,375.4 178.5,375.4 179.5,375.5 180.5,375.6 181.5,375.6 182.5,375.6 183.5,375.6 184.5,375.5 185.5,375.4 186.5,375.2 187.5,375 188.5,374.8 189.5,374.6 190.5,374.4 191.5,374.2 192.5,374 193.5,373.8 194.5,373.6 195.5,373.4 196.5,373.2 197.5,373 198.5,372.9 199.5,372.8 200.5,372.7 201.5,372.7 202.5,372.6 203.5,372.6 204.5,372.6 205.5,372.6 206.5,372.6 207.5,372.6 208.5,372.6 209.5,372.6 210.5,372.6 211.5,372.6 212.5,372.6 213.5,372.6 214.5,372.6 215.5,372.7 216.5,372.7 217.5,372.7 218.5,372.7 219.5,372.7 220.5,372.7 221.5,372.7 222.5,372.7 223.5,372.6 224.5,372.6 225.5,372.6 226.5,372.5 227.5,372.3 228.5,372.1 229.5,372 230.5,371.8 231.5,371.6 232.5,371.4 233.5,371.2 234.5,371 235.5,370.8 236.5,370.7 237.5,370.6 238.5,370.5 239.5,370.4 240.5,370.3 241.5,370.3 242.5,370.2 243.5,370.2 244.5,370.2 245.5,370.1 245.5,314.4 135.5,314.4"/></clipPath>
<g stroke="#000" stroke-width="1" stroke-dasharray="2 2" shape-rendering="crispEdges"><line x1="143.5" y1="315.4" x2="143.5" y2="392.4"/><line x1="164.5" y1="315.4" x2="164.5" y2="392.4"/><line x1="184.5" y1="315.4" x2="184.5" y2="392.4"/><line x1="204.5" y1="315.4" x2="204.5" y2="392.4"/><line x1="225.5" y1="315.4" x2="225.5" y2="392.4"/><line x1="135.5" y1="334.5" x2="245.5" y2="334.5"/><line x1="135.5" y1="354.5" x2="245.5" y2="354.5"/><line x1="135.5" y1="373.5" x2="245.5" y2="373.5"/></g>
<g clip-path="url(#m4)">
<path d="M135.5 365.2 L136.5 365.6 L137.5 366.2 L138.5 366.9 L139.5 367.4 L140.5 367.9 L141.5 368.3 L142.5 368.7 L143.5 369.1 L144.5 369.5 L145.5 369.8 L146.5 370.1 L147.5 370.3 L148.5 370.5 L149.5 370.7 L150.5 370.9 L151.5 371.1 L152.5 371.2 L153.5 371.3 L154.5 371.5 L155.5 371.6 L156.5 371.8 L157.5 372 L158.5 372.2 L159.5 372.3 L160.5 372.5 L161.5 372.7 L162.5 372.9 L163.5 373.1 L164.5 373.3 L165.5 373.5 L166.5 373.8 L167.5 374 L168.5 374.2 L169.5 374.4 L170.5 374.6 L171.5 374.8 L172.5 374.9 L173.5 375 L174.5 375.1 L175.5 375.2 L176.5 375.3 L177.5 375.4 L178.5 375.4 L179.5 375.5 L180.5 375.6 L181.5 375.6 L182.5 375.6 L183.5 375.6 L184.5 375.5 L185.5 375.4 L186.5 375.2 L187.5 375 L188.5 374.8 L189.5 374.6 L190.5 374.4 L191.5 374.2 L192.5 374 L193.5 373.8 L194.5 373.6 L195.5 373.4 L196.5 373.2 L197.5 373 L198.5 372.9 L199.5 372.8 L200.5 372.7 L201.5 372.7 L202.5 372.6 L203.5 372.6 L204.5 372.6 L205.5 372.6 L206.5 372.6 L207.5 372.6 L208.5 372.6 L209.5 372.6 L210.5 372.6 L211.5 372.6 L212.5 372.6 L213.5 372.6 L214.5 372.6 L215.5 372.7 L216.5 372.7 L217.5 372.7 L218.5 372.7 L219.5 372.7 L220.5 372.7 L221.5 372.7 L222.5 372.7 L223.5 372.6 L224.5 372.6 L225.5 372.6 L226.5 372.5 L227.5 372.3 L228.5 372.1 L229.5 372 L230.5 371.8 L231.5 371.6 L232.5 371.4 L233.5 371.2 L234.5 371 L235.5 370.8 L236.5 370.7 L237.5 370.6 L238.5 370.5 L239.5 370.4 L240.5 370.3 L241.5 370.3 L242.5 370.2 L243.5 370.2 L244.5 370.2 L245.5 370.1" fill="none" stroke="#000096" stroke-width="2.6" stroke-linejoin="round"/>
<g stroke="#ff0000" stroke-width="1" shape-rendering="crispEdges"><line x1="143.2" y1="340.5" x2="149" y2="340.5"/><line x1="148.1" y1="347.5" x2="155.5" y2="347.5"/><line x1="155.5" y1="348.5" x2="162.1" y2="348.5"/><line x1="162.1" y1="351.5" x2="169.6" y2="351.5"/><line x1="169.6" y1="355.5" x2="176.6" y2="355.5"/><line x1="176.6" y1="358.5" x2="184.4" y2="358.5"/><line x1="184.4" y1="354.5" x2="189.8" y2="354.5"/><line x1="190.2" y1="351.5" x2="197.6" y2="351.5"/><line x1="197.6" y1="350.5" x2="211.6" y2="350.5"/><line x1="211.6" y1="351.5" x2="225.3" y2="351.5"/><line x1="225.6" y1="347.5" x2="233" y2="347.5"/><line x1="232.2" y1="343.5" x2="239.6" y2="343.5"/><line x1="239.6" y1="342.5" x2="245.9" y2="342.5"/></g>
<rect x="137" y="316.2" width="3" height="2.6" fill="#ff0000"/>
</g>
<rect x="135.5" y="315.4" width="110" height="77" fill="none" stroke="#000" stroke-width="1.1"/>
<g stroke="#000" stroke-width="1" stroke-dasharray="2 2" shape-rendering="crispEdges"><line x1="143.5" y1="398.6" x2="143.5" y2="430"/><line x1="164.5" y1="398.6" x2="164.5" y2="430"/><line x1="184.5" y1="398.6" x2="184.5" y2="430"/><line x1="204.5" y1="398.6" x2="204.5" y2="430"/><line x1="225.5" y1="398.6" x2="225.5" y2="430"/></g>
<clipPath id="m5b"><rect x="132" y="398.6" width="122" height="31.4"/></clipPath>
<g stroke="#00009c" stroke-width="1.2" fill="#00009c" clip-path="url(#m5b)"><line x1="132.1" y1="405.2" x2="136.5" y2="416.4"/><polygon stroke="none" points="138.7,422.2 133.8,417.5 139.2,415.4"/><line x1="139.1" y1="405.2" x2="143.5" y2="416.4"/><polygon stroke="none" points="145.7,422.2 140.8,417.5 146.2,415.4"/><line x1="146.1" y1="405.2" x2="150.5" y2="416.4"/><polygon stroke="none" points="152.7,422.2 147.8,417.5 153.2,415.4"/><line x1="153.1" y1="405.2" x2="157.5" y2="416.4"/><polygon stroke="none" points="159.7,422.2 154.8,417.5 160.2,415.4"/><line x1="160.1" y1="405.2" x2="164.5" y2="416.4"/><polygon stroke="none" points="166.7,422.2 161.8,417.5 167.2,415.4"/><line x1="167.1" y1="405.2" x2="171.5" y2="416.4"/><polygon stroke="none" points="173.7,422.2 168.8,417.5 174.2,415.4"/><line x1="174.1" y1="405.2" x2="178.5" y2="416.4"/><polygon stroke="none" points="180.7,422.2 175.8,417.5 181.2,415.4"/><line x1="181.1" y1="405.2" x2="185.5" y2="416.4"/><polygon stroke="none" points="187.7,422.2 182.8,417.5 188.2,415.4"/><line x1="188.1" y1="405.2" x2="192.5" y2="416.4"/><polygon stroke="none" points="194.7,422.2 189.8,417.5 195.2,415.4"/><line x1="195.1" y1="405.2" x2="199.5" y2="416.4"/><polygon stroke="none" points="201.7,422.2 196.8,417.5 202.2,415.4"/><line x1="202.1" y1="405.2" x2="206.5" y2="416.4"/><polygon stroke="none" points="208.7,422.2 203.8,417.5 209.2,415.4"/><line x1="209.1" y1="405.2" x2="213.5" y2="416.4"/><polygon stroke="none" points="215.7,422.2 210.8,417.5 216.2,415.4"/><line x1="216.1" y1="405.2" x2="220.5" y2="416.4"/><polygon stroke="none" points="222.7,422.2 217.8,417.5 223.2,415.4"/><line x1="223.1" y1="405.2" x2="227.5" y2="416.4"/><polygon stroke="none" points="229.7,422.2 224.8,417.5 230.2,415.4"/><line x1="230.1" y1="405.2" x2="234.5" y2="416.4"/><polygon stroke="none" points="236.7,422.2 231.8,417.5 237.2,415.4"/><line x1="237.1" y1="405.2" x2="241.5" y2="416.4"/><polygon stroke="none" points="243.7,422.2 238.8,417.5 244.2,415.4"/><line x1="244.1" y1="405.2" x2="248.5" y2="416.4"/><polygon stroke="none" points="250.7,422.2 245.8,417.5 251.2,415.4"/></g>
<rect x="135.5" y="398.6" width="110" height="31.4" fill="none" stroke="#000" stroke-width="1.1"/>
<rect x="135.5" y="436.5" width="110" height="78.3" fill="#8ad6fe"/>
<rect x="170" y="436.5" width="61.8" height="78.3" fill="#82c6f2"/>
<g stroke="#000" stroke-width="1" stroke-dasharray="2 2" shape-rendering="crispEdges"><line x1="143.5" y1="436.5" x2="143.5" y2="514.8"/><line x1="164.5" y1="436.5" x2="164.5" y2="514.8"/><line x1="184.5" y1="436.5" x2="184.5" y2="514.8"/><line x1="204.5" y1="436.5" x2="204.5" y2="514.8"/><line x1="225.5" y1="436.5" x2="225.5" y2="514.8"/><line x1="135.5" y1="456.5" x2="245.5" y2="456.5"/><line x1="135.5" y1="475.5" x2="245.5" y2="475.5"/><line x1="135.5" y1="495.5" x2="245.5" y2="495.5"/></g>
<g clip-path="url(#m6)">
<g fill="#d2d2d2"><circle cx="170.4" cy="489.3" r="2.5"/><circle cx="191.5" cy="492.6" r="2.5"/><circle cx="198.4" cy="489.3" r="2.5"/><circle cx="211.6" cy="488.5" r="2.5"/><circle cx="218.5" cy="500.5" r="2.5"/><circle cx="225.6" cy="500.5" r="2.5"/><circle cx="239.6" cy="500.5" r="2.5"/><circle cx="136.9" cy="505.4" r="2.5"/></g>
<g fill="#a0a0a0"><circle cx="177.5" cy="489.3" r="2.5"/><circle cx="198.4" cy="485.2" r="2.5"/><circle cx="211.6" cy="481.5" r="2.5"/><circle cx="144" cy="500.5" r="2.5"/><circle cx="184.4" cy="504.9" r="2.5"/><circle cx="218.5" cy="492.2" r="2.5"/><circle cx="239.6" cy="493.9" r="2.5"/><circle cx="232.5" cy="500.5" r="2.5"/><circle cx="245.4" cy="481.5" r="2.5"/></g>
<g fill="#505050"><circle cx="144" cy="481.5" r="2.5"/><circle cx="150.3" cy="492.2" r="2.5"/><circle cx="157.2" cy="492.2" r="2.5"/><circle cx="164.3" cy="492.2" r="2.5"/><circle cx="191.5" cy="489.3" r="2.5"/><circle cx="198.4" cy="468.7" r="2.5"/><circle cx="184.4" cy="500.5" r="2.5"/><circle cx="218.5" cy="489.3" r="2.5"/><circle cx="225.6" cy="492.2" r="2.5"/><circle cx="232.5" cy="493.9" r="2.5"/></g>
<g fill="#ffffff"><circle cx="170.4" cy="492.2" r="2.5"/><circle cx="177.5" cy="492.2" r="2.5"/><circle cx="198.4" cy="492.2" r="2.5"/><circle cx="204.5" cy="492.2" r="2.5"/><circle cx="211.6" cy="492.2" r="2.5"/><circle cx="150.3" cy="500.5" r="2.5"/><circle cx="164.3" cy="499.2" r="2.5"/><circle cx="191.5" cy="500.5" r="2.5"/><circle cx="143.2" cy="505.8" r="2.5"/><circle cx="184.4" cy="509.6" r="2.5"/><circle cx="218.5" cy="509.6" r="2.5"/><circle cx="225.6" cy="509.6" r="2.5"/><circle cx="232.5" cy="509.6" r="2.5"/><circle cx="239.6" cy="509.6" r="2.5"/><circle cx="245.4" cy="500.5" r="2.5"/></g>
<path d="M135.5 471.2 L136.5 471.2 L137.5 471.2 L138.5 471.2 L139.5 471.2 L140.5 471.2 L141.5 471.2 L142.5 471.2 L143.5 470.9 L144.5 470 L145.5 469.1 L146.5 468.2 L147.5 467.6 L148.5 467.1 L149.5 466.5 L150.5 466 L151.5 465.7 L152.5 465.5 L153.5 465.3 L154.5 465.1 L155.5 464.9 L156.5 464.7 L157.5 464.6 L158.5 464.5 L159.5 464.4 L160.5 464.4 L161.5 464.3 L162.5 464.2 L163.5 464.2 L164.5 464.1 L165.5 464.1 L166.5 464.1 L167.5 464.1 L168.5 464.1 L169.5 464.1 L170.5 464.1 L171.5 464.1 L172.5 464.1 L173.5 464.1 L174.5 464.1 L175.5 464.1 L176.5 464.1 L177.5 464.1 L178.5 464.1 L179.5 464.6 L180.5 465.1 L181.5 465.6 L182.5 466.1 L183.5 466.6 L184.5 467 L185.5 467.4 L186.5 467.7 L187.5 468.1 L188.5 468.4 L189.5 468.8 L190.5 469.1 L191.5 469.5 L192.5 469.7 L193.5 470 L194.5 470.2 L195.5 470.5 L196.5 470.7 L197.5 471 L198.5 471.2 L199.5 471.2 L200.5 471.2 L201.5 471.2 L202.5 471.2 L203.5 471.2 L204.5 471.2 L205.5 471.4 L206.5 471.6 L207.5 471.7 L208.5 471.9 L209.5 472.1 L210.5 472.3 L211.5 472.5 L212.5 472.7 L213.5 472.9 L214.5 473.2 L215.5 473.4 L216.5 473.6 L217.5 473.9 L218.5 474.1 L219.5 474.1 L220.5 474.2 L221.5 474.2 L222.5 474.3 L223.5 474.3 L224.5 474.4 L225.5 474.4 L226.5 474.4 L227.5 474.3 L228.5 474.3 L229.5 474.2 L230.5 474.2 L231.5 474.1 L232.5 474.1 L233.5 474 L234.5 473.5 L235.5 473.1 L236.5 472.6 L237.5 472.2 L238.5 471.7 L239.5 471.2 L240.5 471 L241.5 470.7 L242.5 470.4 L243.5 470.1 L244.5 469.9 L245.5 469.6" fill="none" stroke="#ffa000" stroke-width="2.2" stroke-linejoin="round"/>
<g fill="#000000"><circle cx="191.5" cy="456.3" r="2.5"/><circle cx="198.4" cy="464.2" r="2.5"/><circle cx="204.5" cy="468.2" r="2.5"/><circle cx="211.6" cy="469.8" r="2.5"/><circle cx="218.5" cy="481.5" r="2.5"/><circle cx="225.6" cy="485.2" r="2.5"/><circle cx="232.5" cy="489.3" r="2.5"/><circle cx="239.6" cy="481.5" r="2.5"/><circle cx="245.4" cy="476.4" r="2.5"/><circle cx="184.4" cy="489.3" r="2.5"/></g>
<g fill="#a01c1c"><circle cx="136.9" cy="474.4" r="2.5"/><circle cx="144" cy="474.4" r="2.5"/><circle cx="150.3" cy="458.5" r="2.5"/><circle cx="157.2" cy="458.5" r="2.5"/><circle cx="164.3" cy="459.6" r="2.5"/><circle cx="170.4" cy="451" r="2.5"/><circle cx="177.5" cy="449.7" r="2.5"/><circle cx="184.4" cy="449.4" r="2.5"/><circle cx="191.5" cy="449.4" r="2.5"/><circle cx="198.4" cy="451" r="2.5"/><circle cx="204.5" cy="449.4" r="2.5"/><circle cx="211.6" cy="449.4" r="2.5"/><circle cx="218.5" cy="449.4" r="2.5"/><circle cx="225.6" cy="449.4" r="2.5"/><circle cx="232.5" cy="449.4" r="2.5"/><circle cx="239.6" cy="449.4" r="2.5"/><circle cx="245.9" cy="449.4" r="2.5"/></g>
</g>
<rect x="135.5" y="436.5" width="110" height="78.3" fill="none" stroke="#000" stroke-width="1.1"/>
<rect x="135.5" y="523.7" width="110" height="77.4" fill="#8ad6fe"/>
<rect x="170" y="523.7" width="61.8" height="77.4" fill="#82c6f2"/>
<g clip-path="url(#m7)">
<polygon points="164.3,602.3 165.4,589.1 169.6,577.6 175.3,567.7 181.1,564.4 186,561.1 190.2,551.2 195.1,546.3 204.2,543 207.1,534.7 210.1,527.8 215.7,524.2 232.2,523.8 247,523.8 247,602.3" fill="#ffffff" />
<polygon points="191.8,602.3 192.6,572.6 195.1,546.3 198.4,530.6 202.5,532.3 205,543 208.3,534.7 210.8,529 215.7,526 222.3,524.8 225.6,523.2 247,523.2 247,602.3" fill="#989898" />
<polygon points="134.9,576.8 143.2,562.7 149.8,575.9 156.4,582.5 164.6,587.5 167.1,589.1 171.2,590.8 177.8,592.9 180.3,585.8 183.6,574.3 185.2,568.5 191.8,569.7 195.9,580.9 204.2,595.7 212.4,582.5 217.4,551.2 221.5,539.7 225.6,535.5 230.5,538 235.5,545.4 240.4,554.5 247,567.7 247,602.3 134.9,602.3" fill="#545454" />
<polygon points="138.2,602.3 149.8,590.8 157.2,595.7 163,602.3" fill="#303030" />
<polyline points="184.4,601.1 187.7,589.1 192.6,574.3" fill="none" stroke="#e8e8e8" stroke-width="0.9"/>
<polyline points="215.7,525.2 232.2,524.8 237.1,534.7 246.4,544.9" fill="none" stroke="#f4f4f4" stroke-width="0.9"/>
<polyline points="135.8,589.1 143.2,595.7 149.8,601.1" fill="none" stroke="#b0b0b0" stroke-width="0.9"/>
</g>
<g stroke="#000" stroke-width="1" stroke-dasharray="2 2" shape-rendering="crispEdges"><line x1="143.5" y1="523.7" x2="143.5" y2="601.1"/><line x1="164.5" y1="523.7" x2="164.5" y2="601.1"/><line x1="184.5" y1="523.7" x2="184.5" y2="601.1"/><line x1="204.5" y1="523.7" x2="204.5" y2="601.1"/><line x1="225.5" y1="523.7" x2="225.5" y2="601.1"/><line x1="135.5" y1="543.5" x2="245.5" y2="543.5"/><line x1="135.5" y1="562.5" x2="245.5" y2="562.5"/><line x1="135.5" y1="582.5" x2="245.5" y2="582.5"/></g>
<rect x="217" y="590.3" width="2.9" height="10.5" fill="#ffb400"/>
<rect x="224" y="590.3" width="2.9" height="10.5" fill="#ffb400"/>
<rect x="231" y="590.3" width="2.9" height="10.5" fill="#ffb400"/>
<rect x="238" y="590.3" width="2.9" height="10.5" fill="#ffb400"/>
<rect x="135.5" y="523.7" width="110" height="77.4" fill="none" stroke="#000" stroke-width="1.1"/>
<polyline points="68,16.5 133,16.5 156,45.8" fill="none" stroke="#000" stroke-width="1"/>
<polyline points="102,44.5 119.5,44.5 149.4,84" fill="none" stroke="#b02020" stroke-width="1"/>
<polyline points="92,76.5 115,76.5" fill="none" stroke="#ff0000" stroke-width="1"/>
<polyline points="130,76.5 133.5,76.5 156.4,104.4" fill="none" stroke="#ff0000" stroke-width="1"/>
<polyline points="70.3,99.5 131,99.5 133.5,100.5 136,101.8" fill="none" stroke="#0000ff" stroke-width="1"/>
<polyline points="95.4,120.5 130,120.5 134,119.5 138,116.5 142.4,113.5" fill="none" stroke="#6a5acd" stroke-width="1"/>
<polyline points="103.4,137.5 140.7,137.5 146.5,146.5" fill="none" stroke="#ff0000" stroke-width="1"/>
<polyline points="106,151.5 111.5,151.5" fill="none" stroke="#e8501a" stroke-width="1"/>
<polyline points="130,151.5 146.5,159.7" fill="none" stroke="#e8501a" stroke-width="1"/>
<polyline points="94,166.5 113,166.5" fill="none" stroke="#000" stroke-width="1"/>
<polyline points="129.5,166.5 132,167 134.5,169.5 136.8,172" fill="none" stroke="#000" stroke-width="1"/>
<polyline points="71,179.5 139.4,179.5" fill="none" stroke="#00a800" stroke-width="1"/>
<polyline points="80.3,190.5 135.8,190.5" fill="none" stroke="#00a800" stroke-width="1"/>
<polyline points="70,202.5 112,202.5" fill="none" stroke="#1e3cd2" stroke-width="1"/>
<polyline points="129.7,202.5 131.5,202.5 160.5,172.1" fill="none" stroke="#1e3cd2" stroke-width="1"/>
<polyline points="81.2,213.5 131.5,213.5 157.2,187.7" fill="none" stroke="#1e3cd2" stroke-width="1"/>
<polyline points="97.4,225.5 143.6,225.5 147.6,219.8" fill="none" stroke="#ff0000" stroke-width="1"/>
<polyline points="51.2,263.5 131,263.5 133,262.5 135.8,261.5" fill="none" stroke="#000" stroke-width="1"/>
<polyline points="112.3,334.5 117.7,334.5" fill="none" stroke="#ff0000" stroke-width="1"/>
<polyline points="130.5,334 138.5,317.5" fill="none" stroke="#ff0000" stroke-width="1"/>
<polyline points="107,348.5 130,348.5 135,346.5 144,340.4" fill="none" stroke="#ff0000" stroke-width="1"/>
<polyline points="92,367.5 135.8,367.5" fill="none" stroke="#00009c" stroke-width="1"/>
<polyline points="85.8,410.5 140.7,410.5" fill="none" stroke="#00009c" stroke-width="1"/>
<polyline points="100,430.5 131,430.5 184.4,447.3" fill="none" stroke="#b02020" stroke-width="1"/>
<polyline points="57.2,468.5 131,468.5 190.2,456.3" fill="none" stroke="#000" stroke-width="1"/>
<polyline points="57.2,480.5 143.2,480.5" fill="none" stroke="#505050" stroke-width="1"/>
<polyline points="57.2,490.5 131.5,490.5 134,492.5 144,500.5" fill="none" stroke="#a0a0a0" stroke-width="1"/>
<polyline points="57.2,500.5 131.5,500.5 134,502 136.6,505.4" fill="none" stroke="#d0d0d0" stroke-width="1"/>
<polyline points="57.2,509.5 135.8,509.5" fill="none" stroke="#87cefa" stroke-width="1"/>
<polyline points="57.2,511.5 135.8,511.5" fill="none" stroke="#87cefa" stroke-width="1"/>
<polyline points="67.2,527.5 129.2,527.5 173.7,464.6" fill="none" stroke="#ff8c00" stroke-width="1"/>
<polyline points="53.8,556.5 184.4,556.5" fill="none" stroke="#a8dcfa" stroke-width="1"/>
<polyline points="53.8,558.5 184.4,558.5" fill="none" stroke="#d8f0ff" stroke-width="1"/>
<polyline points="49.2,570.5 191.8,570.5" fill="none" stroke="#a0a0a0" stroke-width="1"/>
<polyline points="40,582.5 121.5,582.5" fill="none" stroke="#404040" stroke-width="1"/>
<polyline points="130,582.5 135.8,582.5" fill="none" stroke="#404040" stroke-width="1"/>
<polyline points="74.2,594.5 143.2,594.5" fill="none" stroke="#202020" stroke-width="1"/>
<polyline points="30,605.5 216.5,605.5 219,601" fill="none" stroke="#ffa000" stroke-width="1"/>
<polyline points="139,623.5 149.2,623.5 157.5,611" fill="none" stroke="#000" stroke-width="1"/>
<text x="5.5" y="18.2" font-size="11" fill="#000" stroke="#000" stroke-width="0.22" text-anchor="start" textLength="59.5" lengthAdjust="spacingAndGlyphs" >Czas lokalny</text>
<text x="5.5" y="29.7" font-size="11" fill="#000" stroke="#000" stroke-width="0.22" text-anchor="start" textLength="54.5" lengthAdjust="spacingAndGlyphs" >(CET/CEST)</text>
<text x="6" y="46.2" font-size="11" fill="#b02020" stroke="#b02020" stroke-width="0.22" text-anchor="start" textLength="93.5" lengthAdjust="spacingAndGlyphs" >Temperatura gruntu</text>
<text x="27.5" y="55.9" font-size="11" fill="#b02020" stroke="#b02020" stroke-width="0.22" text-anchor="start" textLength="38.5" lengthAdjust="spacingAndGlyphs" >max/min</text>
<text x="5.5" y="68.2" font-size="11" fill="#000" stroke="#000" stroke-width="0.22" text-anchor="start" textLength="61.5" lengthAdjust="spacingAndGlyphs" >Temperatura:</text>
<text x="12.6" y="80" font-size="11" fill="#ff0000" stroke="#ff0000" stroke-width="0.22" text-anchor="start" textLength="77" lengthAdjust="spacingAndGlyphs" >punkt środkowy</text>
<text x="27.5" y="90.2" font-size="11" fill="#ffd2c8" stroke="#ffd2c8" stroke-width="0.22" text-anchor="start" textLength="38.5" lengthAdjust="spacingAndGlyphs" >max/min</text>
<text x="10" y="102" font-size="11" fill="#0000ff" stroke="#0000ff" stroke-width="0.22" text-anchor="start" textLength="57.2" lengthAdjust="spacingAndGlyphs" >odczuwana</text>
<text x="27.5" y="112" font-size="11" fill="#a8dcf8" stroke="#a8dcf8" stroke-width="0.22" text-anchor="start" textLength="38.5" lengthAdjust="spacingAndGlyphs" >max/min</text>
<text x="6.2" y="123.9" font-size="11" fill="#6a5acd" stroke="#6a5acd" stroke-width="0.22" text-anchor="start" textLength="86.8" lengthAdjust="spacingAndGlyphs" >Temp. punktu rosy</text>
<text x="6" y="141.3" font-size="11" fill="#ff0000" stroke="#ff0000" stroke-width="0.22" text-anchor="start" textLength="94" lengthAdjust="spacingAndGlyphs" >Opad powyżej skali</text>
<text x="6" y="154.7" font-size="11" fill="#e8501a" stroke="#e8501a" stroke-width="0.22" text-anchor="start" textLength="97" lengthAdjust="spacingAndGlyphs" >Wilgotność względna</text>
<text x="6" y="169" font-size="11" fill="#000" stroke="#000" stroke-width="0.22" text-anchor="start" textLength="85" lengthAdjust="spacingAndGlyphs" >Wystąpienie burzy</text>
<text x="6" y="182.8" font-size="11" fill="#00a800" stroke="#00a800" stroke-width="0.22" text-anchor="start" textLength="63" lengthAdjust="spacingAndGlyphs" >Deszcz: max</text>
<text x="49" y="194" font-size="11" fill="#00a800" stroke="#00a800" stroke-width="0.22" text-anchor="start" textLength="29.5" lengthAdjust="spacingAndGlyphs" >średni</text>
<text x="6" y="205.1" font-size="11" fill="#1e3cd2" stroke="#1e3cd2" stroke-width="0.22" text-anchor="start" textLength="29.4" lengthAdjust="spacingAndGlyphs" >Śnieg:</text>
<text x="49" y="205.1" font-size="11" fill="#1e3cd2" stroke="#1e3cd2" stroke-width="0.22" text-anchor="start" textLength="19" lengthAdjust="spacingAndGlyphs" >max</text>
<text x="49" y="216.2" font-size="11" fill="#1e3cd2" stroke="#1e3cd2" stroke-width="0.22" text-anchor="start" textLength="29.5" lengthAdjust="spacingAndGlyphs" >średni</text>
<text x="5.5" y="228.2" font-size="11" fill="#ff0000" stroke="#ff0000" stroke-width="0.22" text-anchor="start" textLength="88.5" lengthAdjust="spacingAndGlyphs" >Wystąpienie opadu</text>
<text x="5.5" y="240.5" font-size="11" fill="#ff0000" stroke="#ff0000" stroke-width="0.22" text-anchor="start" textLength="71.5" lengthAdjust="spacingAndGlyphs" >konwekcyjnego</text>
<text x="5" y="266.7" font-size="11" fill="#000" stroke="#000" stroke-width="0.22" text-anchor="start" textLength="42" lengthAdjust="spacingAndGlyphs" >Ciśnienie</text>
<text x="5" y="279.7" font-size="11" fill="#000" stroke="#000" stroke-width="0.22" text-anchor="start" textLength="66" lengthAdjust="spacingAndGlyphs" >zredukowane</text>
<text x="5" y="292.8" font-size="11" fill="#000" stroke="#000" stroke-width="0.22" text-anchor="start" textLength="87" lengthAdjust="spacingAndGlyphs" >do poziomu morza</text>
<text x="5" y="322" font-size="11" fill="#000" stroke="#000" stroke-width="0.22" text-anchor="start" textLength="66" lengthAdjust="spacingAndGlyphs" >Wiatr na 10m:</text>
<text x="10" y="337.5" font-size="11" fill="#ff0000" stroke="#ff0000" stroke-width="0.22" text-anchor="start" textLength="100" lengthAdjust="spacingAndGlyphs" >poryw powyżej skali</text>
<text x="10" y="351.3" font-size="11" fill="#ff0000" stroke="#ff0000" stroke-width="0.22" text-anchor="start" textLength="94" lengthAdjust="spacingAndGlyphs" >max porywy wiatru</text>
<text x="10" y="371.3" font-size="11" fill="#00009c" stroke="#00009c" stroke-width="0.22" text-anchor="start" textLength="78" lengthAdjust="spacingAndGlyphs" >prędkość wiatru</text>
<text x="10" y="384.7" font-size="11" fill="#00009c" stroke="#00009c" stroke-width="0.22" text-anchor="start" textLength="88" lengthAdjust="spacingAndGlyphs" >w środku obszaru</text>
<text x="10" y="413.1" font-size="11" fill="#00009c" stroke="#00009c" stroke-width="0.22" text-anchor="start" textLength="73" lengthAdjust="spacingAndGlyphs" >kierunek wiatru</text>
<text x="6" y="432.8" font-size="11" fill="#b02020" stroke="#b02020" stroke-width="0.22" text-anchor="start" textLength="90.5" lengthAdjust="spacingAndGlyphs" >Wierzchołek chmur</text>
<text x="6" y="447.7" font-size="11" fill="#000" stroke="#000" stroke-width="0.22" text-anchor="start" textLength="85" lengthAdjust="spacingAndGlyphs" >Podstawa chmur*</text>
<text x="6" y="459" font-size="11" fill="#000" stroke="#000" stroke-width="0.22" text-anchor="start" textLength="47" lengthAdjust="spacingAndGlyphs" >o pokryciu</text>
<text x="10.8" y="472" font-size="11" fill="#000" stroke="#000" stroke-width="0.22" text-anchor="start" textLength="43.8" lengthAdjust="spacingAndGlyphs" >&gt; 7.9 okt.</text>
<text x="10.8" y="482.8" font-size="11" fill="#505050" stroke="#505050" stroke-width="0.22" text-anchor="start" textLength="43.8" lengthAdjust="spacingAndGlyphs" >&gt; 6.5 okt.</text>
<text x="10.8" y="493.5" font-size="11" fill="#a0a0a0" stroke="#a0a0a0" stroke-width="0.22" text-anchor="start" textLength="43.8" lengthAdjust="spacingAndGlyphs" >&gt; 4.5 okt.</text>
<text x="10.8" y="503.5" font-size="11" fill="#d8d8d8" stroke="#d8d8d8" stroke-width="0.22" text-anchor="start" textLength="43.8" lengthAdjust="spacingAndGlyphs" >&gt; 2.5 okt.</text>
<rect x="11" y="505.4" width="43.6" height="11.6" fill="#87cefa"/>
<text x="10.8" y="515.1" font-size="11" fill="#ffffff" stroke="#ffffff" stroke-width="0.22" text-anchor="start" textLength="43.8" lengthAdjust="spacingAndGlyphs" >&gt; 0.1 okt.</text>
<text x="6" y="529" font-size="11" fill="#ff8c00" stroke="#ff8c00" stroke-width="0.22" text-anchor="start" textLength="57" lengthAdjust="spacingAndGlyphs" >Widzialność</text>
<text x="6" y="546.7" font-size="11" fill="#000" stroke="#000" stroke-width="0.22" text-anchor="start" textLength="38" lengthAdjust="spacingAndGlyphs" >Chmury:</text>
<rect x="10" y="551.2" width="41" height="11.6" fill="#87cefa"/>
<text x="11" y="560.2" font-size="11" fill="#ffffff" stroke="#ffffff" stroke-width="0.22" text-anchor="start" textLength="39" lengthAdjust="spacingAndGlyphs" >wysokie</text>
<text x="10" y="572.5" font-size="11" fill="#a0a0a0" stroke="#a0a0a0" stroke-width="0.22" text-anchor="start" textLength="35" lengthAdjust="spacingAndGlyphs" >średnie</text>
<text x="10" y="584.3" font-size="11" fill="#404040" stroke="#404040" stroke-width="0.22" text-anchor="start" textLength="26" lengthAdjust="spacingAndGlyphs" >niskie</text>
<text x="10" y="596.7" font-size="11" fill="#202020" stroke="#202020" stroke-width="0.22" text-anchor="start" textLength="61" lengthAdjust="spacingAndGlyphs" >bardzo niskie</text>
<text x="6" y="609" font-size="11" fill="#ffa000" stroke="#ffa000" stroke-width="0.22" text-anchor="start" textLength="20" lengthAdjust="spacingAndGlyphs" >Mgła</text>
<text x="5.5" y="625.9" font-size="11" fill="#000" stroke="#000" stroke-width="0.22" text-anchor="start" textLength="131.5" lengthAdjust="spacingAndGlyphs" >Czas uniwersalny (UTC)</text>
<text x="5.5" y="650.5" font-size="9.6" fill="#000" stroke="#000" stroke-width="0.22" text-anchor="start" textLength="102" lengthAdjust="spacingAndGlyphs" >* powyżej poziomu morza</text>
<rect x="5" y="0" width="1.2" height="1.4" fill="#000"/>
<text x="128" y="63.3" font-size="10.6" fill="#000" stroke="#000" stroke-width="0.22" text-anchor="end" >30</text>
<text x="128" y="80.5" font-size="10.6" fill="#000" stroke="#000" stroke-width="0.22" text-anchor="end" >20</text>
<text x="128" y="97.5" font-size="10.6" fill="#000" stroke="#000" stroke-width="0.22" text-anchor="end" >10</text>
<text x="128" y="114.5" font-size="10.6" fill="#000" stroke="#000" stroke-width="0.22" text-anchor="end" >0</text>
<text x="128" y="132.8" font-size="10.6" fill="#000" stroke="#000" stroke-width="0.22" text-anchor="end" >-10</text>
<text x="128" y="153.9" font-size="10.6" fill="#000" stroke="#000" stroke-width="0.22" text-anchor="end" >2.0</text>
<text x="128" y="171.3" font-size="10.6" fill="#000" stroke="#000" stroke-width="0.22" text-anchor="end" >1.5</text>
<text x="128" y="189" font-size="10.6" fill="#000" stroke="#000" stroke-width="0.22" text-anchor="end" >1.0</text>
<text x="128" y="206.7" font-size="10.6" fill="#000" stroke="#000" stroke-width="0.22" text-anchor="end" >0.5</text>
<text x="128" y="223.6" font-size="10.6" fill="#000" stroke="#000" stroke-width="0.22" text-anchor="end" >0.0</text>
<text x="128" y="234.3" font-size="10.6" fill="#000" stroke="#000" stroke-width="0.22" text-anchor="end" >1018</text>
<text x="128" y="257.9" font-size="10.6" fill="#000" stroke="#000" stroke-width="0.22" text-anchor="end" >1016</text>
<text x="128" y="281.7" font-size="10.6" fill="#000" stroke="#000" stroke-width="0.22" text-anchor="end" >1014</text>
<text x="128" y="305.1" font-size="10.6" fill="#000" stroke="#000" stroke-width="0.22" text-anchor="end" >1012</text>
<text x="128.5" y="319" font-size="10.6" fill="#000" stroke="#000" stroke-width="0.22" text-anchor="end" >20</text>
<text x="128.5" y="337.5" font-size="10.6" fill="#000" stroke="#000" stroke-width="0.22" text-anchor="end" >15</text>
<text x="128.5" y="357.7" font-size="10.6" fill="#000" stroke="#000" stroke-width="0.22" text-anchor="end" >10</text>
<text x="128.5" y="377.5" font-size="10.6" fill="#000" stroke="#000" stroke-width="0.22" text-anchor="end" >5</text>
<text x="128.5" y="395.9" font-size="10.6" fill="#000" stroke="#000" stroke-width="0.22" text-anchor="end" >0</text>
<text x="128" y="440" font-size="10.6" fill="#000" stroke="#000" stroke-width="0.22" text-anchor="end" >15.0</text>
<text x="128" y="459.7" font-size="10.6" fill="#000" stroke="#000" stroke-width="0.22" text-anchor="end" >7.0</text>
<text x="128" y="479" font-size="10.6" fill="#000" stroke="#000" stroke-width="0.22" text-anchor="end" >2.0</text>
<text x="128" y="498.5" font-size="10.6" fill="#000" stroke="#000" stroke-width="0.22" text-anchor="end" >0.5</text>
<text x="128" y="517.9" font-size="10.6" fill="#000" stroke="#000" stroke-width="0.22" text-anchor="end" >0.0</text>
<text x="128" y="526.7" font-size="10.6" fill="#000" stroke="#000" stroke-width="0.22" text-anchor="end" >8</text>
<text x="128" y="546.7" font-size="10.6" fill="#000" stroke="#000" stroke-width="0.22" text-anchor="end" >6</text>
<text x="128" y="565.9" font-size="10.6" fill="#000" stroke="#000" stroke-width="0.22" text-anchor="end" >4</text>
<text x="128" y="585.9" font-size="10.6" fill="#000" stroke="#000" stroke-width="0.22" text-anchor="end" >2</text>
<text x="128" y="604.8" font-size="10.6" fill="#000" stroke="#000" stroke-width="0.22" text-anchor="end" >0</text>
<text x="254.8" y="63.4" font-size="10.6" fill="#000" stroke="#000" stroke-width="0.22" text-anchor="start" >30</text>
<text x="254.8" y="81.5" font-size="10.6" fill="#000" stroke="#000" stroke-width="0.22" text-anchor="start" >20</text>
<text x="254.8" y="98.3" font-size="10.6" fill="#000" stroke="#000" stroke-width="0.22" text-anchor="start" >10</text>
<text x="260.5" y="114.8" font-size="10.6" fill="#000" stroke="#000" stroke-width="0.22" text-anchor="start" >0</text>
<text x="251.1" y="132.9" font-size="10.6" fill="#000" stroke="#000" stroke-width="0.22" text-anchor="start" >-10</text>
<text x="253.6" y="153.6" font-size="10.6" fill="#e8501a" stroke="#e8501a" stroke-width="0.22" text-anchor="start" >96</text>
<text x="253.6" y="171.8" font-size="10.6" fill="#e8501a" stroke="#e8501a" stroke-width="0.22" text-anchor="start" >84</text>
<text x="253.6" y="189.1" font-size="10.6" fill="#e8501a" stroke="#e8501a" stroke-width="0.22" text-anchor="start" >73</text>
<text x="253.6" y="206.7" font-size="10.6" fill="#e8501a" stroke="#e8501a" stroke-width="0.22" text-anchor="start" >61</text>
<text x="253.6" y="223.7" font-size="10.6" fill="#e8501a" stroke="#e8501a" stroke-width="0.22" text-anchor="start" >50</text>
<text x="251.5" y="235" font-size="10.6" fill="#000" stroke="#000" stroke-width="0.22" text-anchor="start" >1018</text>
<text x="251.5" y="258.1" font-size="10.6" fill="#000" stroke="#000" stroke-width="0.22" text-anchor="start" >1016</text>
<text x="251.5" y="281.8" font-size="10.6" fill="#000" stroke="#000" stroke-width="0.22" text-anchor="start" >1014</text>
<text x="251.5" y="305.1" font-size="10.6" fill="#000" stroke="#000" stroke-width="0.22" text-anchor="start" >1012</text>
<text x="251.5" y="319" font-size="10.6" fill="#000" stroke="#000" stroke-width="0.22" text-anchor="start" >72</text>
<text x="251.5" y="338.1" font-size="10.6" fill="#000" stroke="#000" stroke-width="0.22" text-anchor="start" >54</text>
<text x="251.5" y="357.9" font-size="10.6" fill="#000" stroke="#000" stroke-width="0.22" text-anchor="start" >36</text>
<text x="251.5" y="376.7" font-size="10.6" fill="#000" stroke="#000" stroke-width="0.22" text-anchor="start" >18</text>
<text x="254" y="395.8" font-size="10.6" fill="#000" stroke="#000" stroke-width="0.22" text-anchor="start" >0</text>
<text x="251.5" y="440" font-size="10.6" fill="#ff8c00" stroke="#ff8c00" stroke-width="0.22" text-anchor="start" >100</text>
<text x="251.5" y="459.8" font-size="10.6" fill="#ff8c00" stroke="#ff8c00" stroke-width="0.22" text-anchor="start" >20</text>
<text x="251.5" y="479.1" font-size="10.6" fill="#ff8c00" stroke="#ff8c00" stroke-width="0.22" text-anchor="start" >5</text>
<text x="251.5" y="498.5" font-size="10.6" fill="#ff8c00" stroke="#ff8c00" stroke-width="0.22" text-anchor="start" >1</text>
<text x="251.5" y="517.8" font-size="10.6" fill="#ff8c00" stroke="#ff8c00" stroke-width="0.22" text-anchor="start" >0</text>
<text x="251.5" y="527" font-size="10.6" fill="#ff8c00" stroke="#ff8c00" stroke-width="0.22" text-anchor="start" >1</text>
<text x="251.5" y="546.8" font-size="10.6" fill="#ff8c00" stroke="#ff8c00" stroke-width="0.22" text-anchor="start" >0.75</text>
<text x="251.5" y="565.7" font-size="10.6" fill="#ff8c00" stroke="#ff8c00" stroke-width="0.22" text-anchor="start" >0.5</text>
<text x="251.5" y="585.5" font-size="10.6" fill="#ff8c00" stroke="#ff8c00" stroke-width="0.22" text-anchor="start" >0.25</text>
<text x="251.5" y="604.8" font-size="10.6" fill="#ff8c00" stroke="#ff8c00" stroke-width="0.22" text-anchor="start" >0</text>
<text x="163.8" y="52" font-size="11" fill="#000" stroke="#000" stroke-width="0.22" text-anchor="middle" >20</text>
<text x="204.1" y="52" font-size="11" fill="#000" stroke="#000" stroke-width="0.22" text-anchor="middle" >02</text>
<text x="244.4" y="52" font-size="11" fill="#000" stroke="#000" stroke-width="0.22" text-anchor="middle" >08</text>
<text x="164.2" y="615.1" font-size="11" fill="#000" stroke="#000" stroke-width="0.22" text-anchor="middle" >18</text>
<text x="203.8" y="615.1" font-size="11" fill="#000" stroke="#000" stroke-width="0.22" text-anchor="middle" >00</text>
<text x="245.4" y="615.1" font-size="11" fill="#000" stroke="#000" stroke-width="0.22" text-anchor="middle" >06</text>
<defs><linearGradient id="bg1" x1="0" y1="0" x2="1" y2="0.08"><stop offset="0" stop-color="#0f52a6"/><stop offset="0.40" stop-color="#1153a8"/><stop offset="0.55" stop-color="#2761b4"/><stop offset="0.65" stop-color="#3870be"/><stop offset="0.73" stop-color="#2f68b8"/><stop offset="0.79" stop-color="#1452a7"/><stop offset="0.86" stop-color="#2059ae"/><stop offset="0.93" stop-color="#1a56aa"/><stop offset="1" stop-color="#1050a4"/></linearGradient><radialGradient id="bg2" cx="0.62" cy="0.35" r="0.45"><stop offset="0" stop-color="#4a82cc" stop-opacity="0.18"/><stop offset="1" stop-color="#4a82cc" stop-opacity="0"/></radialGradient><clipPath id="bn"><rect x="280" y="0" width="630" height="119.7"/></clipPath></defs>
<rect x="280" y="0" width="630" height="119.7" fill="url(#bg1)"/>
<rect x="280" y="0" width="630" height="119.7" fill="url(#bg2)"/>
<text x="311.6" y="39.4" font-size="20.5" fill="#fff" textLength="156.5" lengthAdjust="spacingAndGlyphs">Oficjalna aplikacja</text>
<text x="311.6" y="67.5" font-size="20.5" fill="#fff" font-weight="bold" textLength="100.3" lengthAdjust="spacingAndGlyphs">Meteo ICM</text>
<text x="418.3" y="67.5" font-size="20.5" fill="#fff" textLength="103.5" lengthAdjust="spacingAndGlyphs">do pobrania</text>
<text x="311.6" y="95.6" font-size="20.5" fill="#fff" textLength="225" lengthAdjust="spacingAndGlyphs">w Google Play i App Store</text>
<g clip-path="url(#bn)">
<rect x="592" y="6.5" width="52.4" height="140" rx="8.5" fill="#3a3c42"/>
<rect x="593.2" y="7.3" width="50.6" height="140" rx="7.8" fill="#101114"/>
<rect x="595.2" y="9.2" width="46.8" height="140" rx="6" fill="#0a0b0e"/>
<path d="M595.2 57.3 V15.2 a6 6 0 0 1 6 -6 H636 a6 6 0 0 1 6 6 V57.3 Z" fill="#0c1d3a"/>
<g fill="none" stroke="#17305a" stroke-width="0.5"><circle cx="622" cy="40" r="9"/><circle cx="622" cy="40" r="14"/><circle cx="622" cy="40" r="19.5"/></g>
<rect x="614.5" y="12.6" width="14" height="4.6" rx="2.3" fill="#040506"/>
<rect x="600.7" y="20.3" width="33.4" height="9.3" rx="2.5" fill="#080a0e"/>
<circle cx="638.6" cy="27.3" r="2.4" fill="#080a0e"/><circle cx="638.6" cy="27.3" r="0.9" fill="#c0c4cc"/>
<text x="620" y="44.2" font-size="8.6" fill="#fff" textLength="10.5" lengthAdjust="spacingAndGlyphs">2.5°</text>
<path d="M611.5 41.5 a2 2 0 0 1 0.5 -3.9 a2.6 2.6 0 0 1 5 0.6 a1.7 1.7 0 0 1 -0.3 3.3 z" fill="none" stroke="#b8c4dc" stroke-width="0.7"/>
<rect x="608" y="49" width="7.4" height="4.6" rx="0.8" fill="none" stroke="#27467e" stroke-width="0.5"/><rect x="618" y="49" width="6" height="4.6" rx="0.8" fill="none" stroke="#27467e" stroke-width="0.5"/>
<rect x="600.7" y="60" width="7.4" height="20.4" rx="1" fill="#11161e"/><rect x="610" y="60" width="8.2" height="20.4" rx="1" fill="#11161e"/>
<circle cx="604.3" cy="70" r="1.6" fill="#1e4a8c"/><circle cx="614" cy="70" r="1.6" fill="#1e4a8c"/>
<rect x="600.7" y="84" width="24" height="7.5" rx="1" fill="#11151c"/><rect x="600.7" y="95" width="24" height="7.5" rx="1" fill="#11151c"/><rect x="600.7" y="106.2" width="24" height="7.5" rx="1" fill="#11151c"/>
<g fill="#c8ccd4"><rect x="602" y="87.2" width="17" height="1.2"/><rect x="602" y="98.3" width="6" height="1.2"/><rect x="602" y="109.5" width="5" height="1.2"/></g>
<rect x="649.7" y="21.8" width="50" height="130" rx="8.5" fill="#4a4c50"/>
<rect x="650.6" y="22.6" width="48" height="130" rx="7.8" fill="#121315"/>
<rect x="652.3" y="24.4" width="44.6" height="130" rx="6" fill="#4c504b"/>
<path d="M670 62 q8 -5 14 0 q8 6 12 16 v26 q-8 6 -14 -2 q-6 -10 -10 -14 q-6 -10 -2 -26z" fill="#9c947e" fill-opacity="0.85"/>
<path d="M676 70 q8 4 10 14 q2 12 -4 16 q-6 -10 -6 -30z" fill="#b8ad92" fill-opacity="0.8"/>
<path d="M653 46 q12 6 22 2 t22 6 v10 q-14 -8 -24 -2 t-20 -4z" fill="#2c2f2c" fill-opacity="0.75"/>
<path d="M653 90 q10 -6 18 4 t10 20 h-28z" fill="#303330" fill-opacity="0.8"/>
<path d="M684 100 q8 -2 12 6 v14 h-14z" fill="#262826" fill-opacity="0.8"/>
<rect x="665.4" y="26.8" width="13" height="4.8" rx="2.4" fill="#040506"/>
<rect x="652.8" y="36" width="33" height="8.4" rx="2" fill="#d4d5d2"/>
<path d="M689.8 34.2 a3 3 0 0 1 3 3 q0 2.4 -3 6 q-3 -3.6 -3 -6 a3 3 0 0 1 3 -3z" fill="#f4f4f4"/><circle cx="689.8" cy="37.2" r="1.1" fill="#4c504b"/>
<g fill="#d8e860"><rect x="691" y="59" width="1.6" height="3"/><rect x="680" y="94" width="1.6" height="2.2"/><rect x="663.5" y="27.5" width="1.4" height="2.2"/></g>
<rect x="688" y="96" width="3.4" height="17" fill="#e8e8e0" fill-opacity="0.8"/>
<rect x="622" y="45.3" width="51.8" height="100" rx="8.5" fill="#3c3e44"/>
<rect x="622.8" y="46" width="50.2" height="100" rx="7.8" fill="#0e0f12"/>
<rect x="624.4" y="47.6" width="47" height="100" rx="6" fill="#fbfcfd"/>
<rect x="639.5" y="50.3" width="13" height="4.8" rx="2.4" fill="#040506"/>
<rect x="626.6" y="58.2" width="32.4" height="7.4" rx="1.8" fill="#1c1e24"/>
<circle cx="663.6" cy="60.8" r="2.9" fill="#1c1e24"/><circle cx="663.6" cy="60.8" r="1" fill="#d0d4dc"/>
<rect x="628.4" y="77.5" width="37" height="11.2" fill="#ffffff" stroke="#c8ccd4" stroke-width="0.3"/>
<path d="M628.4 88.7 V84.5 q6 -2 12 -2.5 t12 -2 t12.8 -1.5 V88.7z" fill="#a4d4ee"/>
<path d="M628.4 84.8 q6 -1 11 -3 t13 -1.5 t13 -2.2" fill="none" stroke="#d02828" stroke-width="0.7"/>
<path d="M628.4 86.4 q8 -0.5 12 -2.6 t12 -1 t13 -2" fill="none" stroke="#1c2cb0" stroke-width="0.7"/>
<rect x="628.4" y="89.6" width="37" height="14" fill="#fff" stroke="#c8ccd4" stroke-width="0.3"/>
<path d="M628.8 92 q3 10 6 0 t8 3 q4 6 8 2 t6 -5 t7 2" fill="none" stroke="#e06848" stroke-width="0.7"/>
<rect x="628.4" y="104" width="37" height="10" fill="#fff" stroke="#c8ccd4" stroke-width="0.3"/>
<path d="M650 113.5 l1.5 -8 l1.5 8 M660 113.5 l1 -4 l1 4" fill="none" stroke="#38a038" stroke-width="0.7"/>
<rect x="628.4" y="114.6" width="37" height="6" fill="#d8e628"/><rect x="640" y="114.6" width="9" height="6" fill="#f4f000"/><rect x="656" y="114.6" width="5" height="6" fill="#f4f000"/>
</g>
<text x="764.4" y="90.3" font-size="22.5" font-weight="bold" fill="#fff" stroke="#fff" stroke-width="0.55" textLength="90" lengthAdjust="spacingAndGlyphs">icmmeteo</text>
<path d="M772.6 75.6 C772.4 70.5 767.5 66.6 762.6 67.8 C757 69.3 753.2 76.5 751.6 84 C750 92 751 98.5 755.5 99.6 C759 100.3 762.6 97.6 765 94.2 C761.8 96.8 758.6 98.2 756.2 97.2 C752.8 95.6 752.6 90 753.9 84.2 C755.4 77.4 758.7 71.2 763.2 69.6 C767.2 68.4 770.8 71 771.6 75.6 Z" fill="#fff"/>
<rect x="860.4" y="72.6" width="25.5" height="25.1" rx="2.4" fill="#fff"/>
<text x="864.3" y="91.1" font-size="14" font-weight="bold" fill="#1553a8" stroke="#1553a8" stroke-width="0.3" textLength="12" lengthAdjust="spacingAndGlyphs">M</text>
<circle cx="880.8" cy="81.3" r="1.55" fill="none" stroke="#1553a8" stroke-width="1.1"/>
</svg>
</body></html>
